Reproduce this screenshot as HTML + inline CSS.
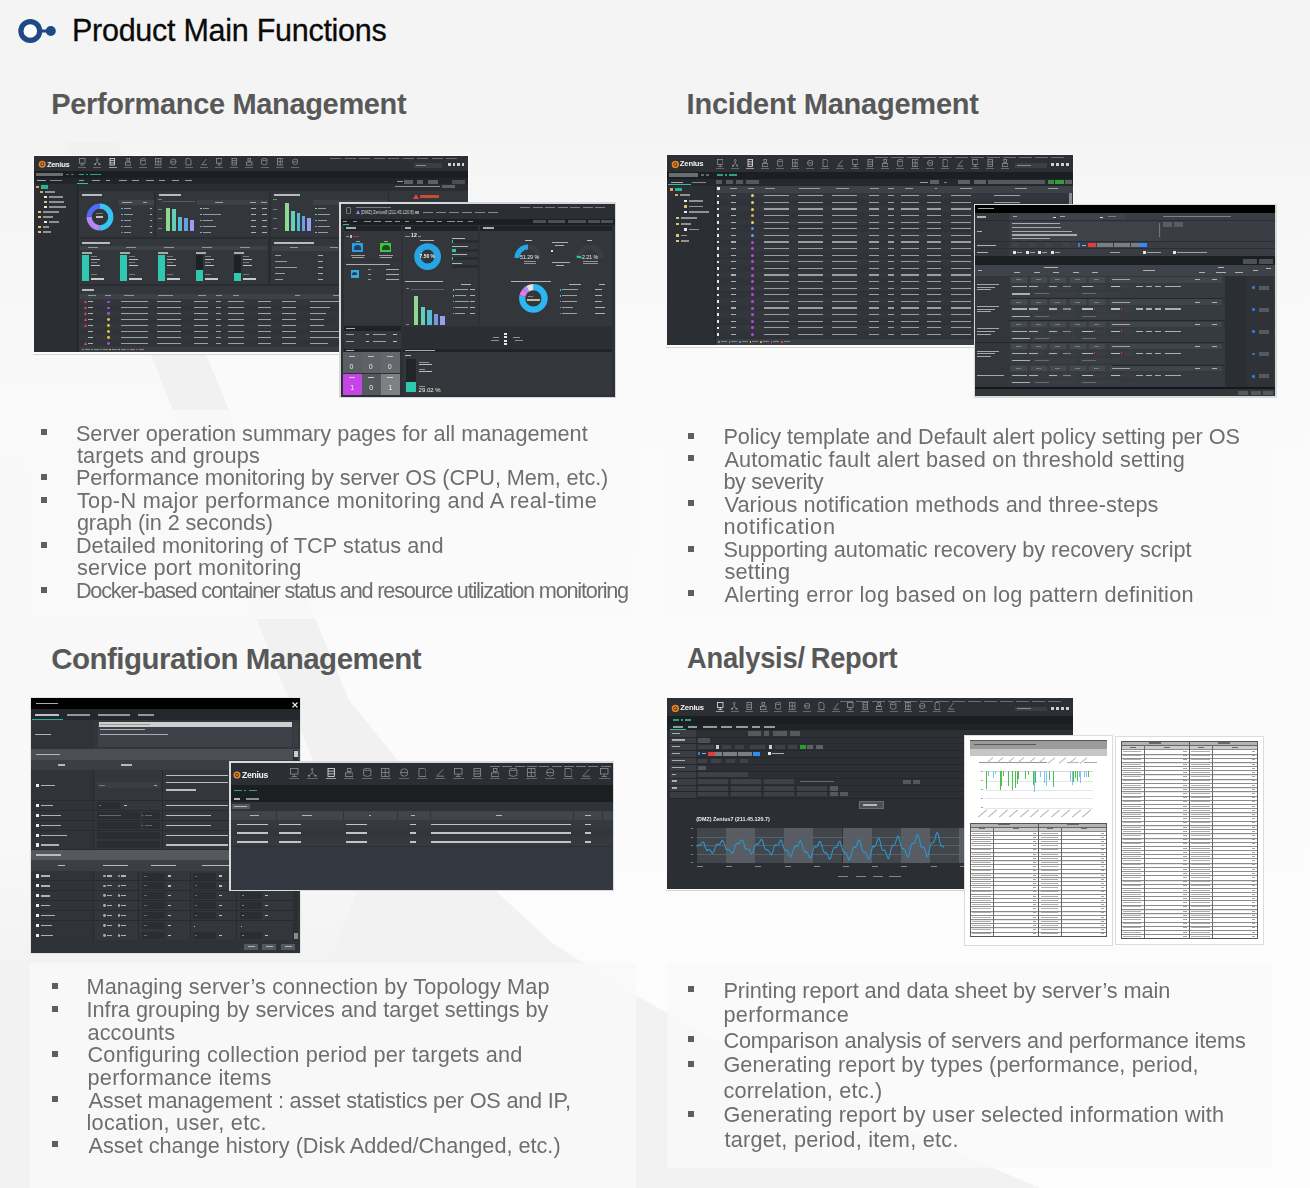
<!DOCTYPE html>
<html><head><meta charset="utf-8"><style>
*{margin:0;padding:0;box-sizing:border-box}
html,body{width:1310px;height:1188px;overflow:hidden}
body{position:relative;background:#f6f6f6;font-family:'Liberation Sans', sans-serif}
.t{position:absolute;white-space:nowrap;color:#6e6e6e}
.b{position:absolute;background:#5e5e5e}
.a{position:absolute}
</style></head><body>
<svg class="a" style="left:0;top:0" width="1310" height="1188" viewBox="0 0 1310 1188">
<defs>
<linearGradient id="gw" x1="0" y1="0" x2="0" y2="1"><stop offset="0" stop-color="#f5f5f5"/><stop offset="0.2" stop-color="#fafafa"/><stop offset="1" stop-color="#fdfdfd"/></linearGradient>
<linearGradient id="gl" x1="0" y1="0" x2="0" y2="1"><stop offset="0" stop-color="#f4f4f4"/><stop offset="0.3" stop-color="#f9f9f9"/><stop offset="0.85" stop-color="#f8f8f8"/><stop offset="1" stop-color="#f3f3f3"/></linearGradient>
</defs>
<rect width="1310" height="1188" fill="#f2f2f2"/>
<polygon points="0,140 65,140 150,352 289,700 361,880 330,960 0,960" fill="url(#gl)"/>
<polygon points="65,140 117,140 205,352 349,700 430,800 496,891 430,880 361,880 289,700 150,352" fill="#f1f1f1"/>
<polygon points="117,140 205,352 349,700 430,800 496,891 551,942 620,987 720,1042 858,1106 1000,1171 1040,1188 1310,1188 1310,140" fill="url(#gw)"/>
<rect x="0" y="0" width="1310" height="142" fill="#f4f4f4"/>
<rect x="30" y="410" width="606" height="209" fill="#f9f9f9" opacity="0.85"/>
<rect x="667" y="412" width="605" height="206" fill="#f9f9f9" opacity="0.85"/>
<rect x="30" y="963" width="606" height="225" fill="#f8f8f8" opacity="0.9"/>
<rect x="667" y="963" width="605" height="205" fill="#f9f9f9" opacity="0.85"/>
</svg>

<svg class="a" style="left:0;top:0" width="70" height="60" viewBox="0 0 70 60">
<circle cx="30.3" cy="31" r="9.4" fill="#fff" stroke="#1e4886" stroke-width="5.2"/>
<line x1="39" y1="31" x2="47" y2="31" stroke="#1e4886" stroke-width="3"/>
<circle cx="50.8" cy="31" r="5" fill="#1e4886"/>
</svg>
<div class="t" style="left:72.0px;top:14.7px;font-size:30.5px;line-height:30.5px;letter-spacing:-0.269px;color:#0a0a0a;-webkit-text-stroke:0.3px #0a0a0a">Product Main Functions</div>
<div class="t" style="left:51.2px;top:90.3px;font-size:29px;line-height:29px;letter-spacing:-0.341px;font-weight:bold;color:#585858">Performance Management</div>
<div class="t" style="left:686.6px;top:90.3px;font-size:29px;line-height:29px;letter-spacing:-0.229px;font-weight:bold;color:#585858">Incident Management</div>
<div class="t" style="left:51.2px;top:643.8px;font-size:29.5px;line-height:29.5px;letter-spacing:-0.501px;font-weight:bold;color:#585858">Configuration Management</div>
<div class="t" style="left:686.8px;top:643.2px;font-size:29.5px;line-height:29.5px;letter-spacing:-0.250px;font-weight:bold;color:#585858;transform:scaleX(0.925);transform-origin:0 0;word-spacing:-1.5px">Analysis/ Report</div>
<div class="a" style="left:0;top:0;width:1310px;height:1188px;filter:blur(0px)">
<div class="a" style="left:33px;top:155px;width:436px;height:198.5px;background:#fbfbfb;"></div>
<div class="a" style="left:33px;top:353.5px;width:436px;height:1px;background:#d4d4d4;"></div>
<div class="a" style="left:666px;top:154px;width:408px;height:192.5px;background:#fbfbfb;"></div>
<div class="a" style="left:666px;top:346.5px;width:408px;height:1px;background:#d4d4d4;"></div>
<div class="a" style="left:666.4px;top:697.2px;width:407.6px;height:193px;background:#fbfbfb;"></div>
<div class="a" style="left:666.4px;top:890.2px;width:407.6px;height:1px;background:#d4d4d4;"></div>
<div class="a" style="left:34px;top:156px;width:434px;height:196px;background:#2a2d32;"></div>
<div class="a" style="left:34px;top:156px;width:434px;height:15px;background:#2c2f33;"></div>
<svg class="a" style="left:38px;top:160.325px" width="8.4" height="8.4" viewBox="0 0 8.4 8.4"><circle cx="4.2" cy="4.2" r="2.7300000000000004" fill="none" stroke="#e8821e" stroke-width="1.6800000000000002"/><circle cx="4.2" cy="4.2" r="1.1550000000000002" fill="#e8821e"/></svg>
<div class="a" style="left:46.925px;top:160.535px;font-size:7.35px;line-height:1;color:#f2f2f2;white-space:nowrap;font-weight:bold;letter-spacing:-0.2px">Zenius</div>
<svg class="a" style="left:79px;top:158.3px" width="6.5" height="7.5" viewBox="0 0 6.5 7.5"><rect x="0.5" y="0.5" width="5.5" height="4.65" fill="none" stroke="#8d9094" stroke-width="0.8"/><path d="M3.25,5.15 V6.7 M1.3,7.0 H5.2" stroke="#8d9094" stroke-width="0.8"/></svg>
<div class="a" style="left:78.2px;top:167px;width:8.1px;height:1px;background:#8d9094;opacity:0.6000000000000001"></div>
<svg class="a" style="left:94.2px;top:158.3px" width="6.5" height="7.5" viewBox="0 0 6.5 7.5"><circle cx="3.25" cy="1.4" r="1" fill="none" stroke="#8d9094" stroke-width="0.8"/><path d="M3.25,2.4 V4.125 M1,6.0 L3.25,4.125 L5.5,6.0" stroke="#8d9094" stroke-width="0.8" fill="none"/><rect x="0" y="5.5" width="2" height="1.6" fill="#8d9094"/><rect x="4.5" y="5.5" width="2" height="1.6" fill="#8d9094"/></svg>
<div class="a" style="left:93.4px;top:167px;width:8.1px;height:1px;background:#8d9094;opacity:0.6000000000000001"></div>
<svg class="a" style="left:109.4px;top:158.3px" width="6.5" height="7.5" viewBox="0 0 6.5 7.5"><rect x="1" y="0.5" width="4.5" height="6.5" fill="none" stroke="#e6e6e6" stroke-width="0.8"/><path d="M1,2.625 H5.5 M1,4.875 H5.5" stroke="#e6e6e6" stroke-width="0.8"/></svg>
<div class="a" style="left:108.6px;top:167px;width:8.1px;height:1px;background:#e6e6e6;opacity:0.6000000000000001"></div>
<svg class="a" style="left:124.6px;top:158.3px" width="6.5" height="7.5" viewBox="0 0 6.5 7.5"><rect x="1.95" y="0.5" width="2.6" height="2.625" fill="none" stroke="#8d9094" stroke-width="0.8"/><rect x="0.5" y="4.125" width="5.5" height="3.0" fill="none" stroke="#8d9094" stroke-width="0.8"/><path d="M3.25,2.85 V4.125" stroke="#8d9094" stroke-width="0.8"/></svg>
<div class="a" style="left:123.8px;top:167px;width:8.1px;height:1px;background:#8d9094;opacity:0.6000000000000001"></div>
<svg class="a" style="left:139.8px;top:158.3px" width="6.5" height="7.5" viewBox="0 0 6.5 7.5"><ellipse cx="3.25" cy="1.5" rx="2.65" ry="1" fill="none" stroke="#8d9094" stroke-width="0.8"/><path d="M0.6,1.5 V6.0 Q3.25,7.8 5.9,6.0 V1.5" fill="none" stroke="#8d9094" stroke-width="0.8"/></svg>
<div class="a" style="left:139px;top:167px;width:8.1px;height:1px;background:#8d9094;opacity:0.6000000000000001"></div>
<svg class="a" style="left:155px;top:158.3px" width="6.5" height="7.5" viewBox="0 0 6.5 7.5"><rect x="0.5" y="0.5" width="5.5" height="6.5" fill="none" stroke="#8d9094" stroke-width="0.8"/><path d="M3.25,0.5 V7.0 M0.5,3.75 H6.0" stroke="#8d9094" stroke-width="0.8"/></svg>
<div class="a" style="left:154.2px;top:167px;width:8.1px;height:1px;background:#8d9094;opacity:0.6000000000000001"></div>
<svg class="a" style="left:170.2px;top:158.3px" width="6.5" height="7.5" viewBox="0 0 6.5 7.5"><circle cx="3.25" cy="3.75" r="2.75" fill="none" stroke="#8d9094" stroke-width="0.8"/><path d="M0.8,3.75 H5.7" stroke="#8d9094" stroke-width="0.8"/></svg>
<div class="a" style="left:169.4px;top:167px;width:8.1px;height:1px;background:#8d9094;opacity:0.6000000000000001"></div>
<svg class="a" style="left:185.4px;top:158.3px" width="6.5" height="7.5" viewBox="0 0 6.5 7.5"><path d="M1,0.5 H4.5 L6.0,2 V7.0 H1 Z" fill="none" stroke="#8d9094" stroke-width="0.8"/></svg>
<div class="a" style="left:184.6px;top:167px;width:8.1px;height:1px;background:#8d9094;opacity:0.6000000000000001"></div>
<svg class="a" style="left:200.6px;top:158.3px" width="6.5" height="7.5" viewBox="0 0 6.5 7.5"><path d="M0.5,6.7 H6.0 M1,6.3 L5.5,1" stroke="#8d9094" stroke-width="0.8" fill="none"/></svg>
<div class="a" style="left:199.8px;top:167px;width:8.1px;height:1px;background:#8d9094;opacity:0.6000000000000001"></div>
<svg class="a" style="left:215.8px;top:158.3px" width="6.5" height="7.5" viewBox="0 0 6.5 7.5"><rect x="0.5" y="0.5" width="5.5" height="4.65" fill="none" stroke="#8d9094" stroke-width="0.8"/><path d="M3.25,5.15 V6.7 M1.3,7.0 H5.2" stroke="#8d9094" stroke-width="0.8"/></svg>
<div class="a" style="left:215px;top:167px;width:8.1px;height:1px;background:#8d9094;opacity:0.6000000000000001"></div>
<svg class="a" style="left:231px;top:158.3px" width="6.5" height="7.5" viewBox="0 0 6.5 7.5"><rect x="1" y="0.5" width="4.5" height="6.5" fill="none" stroke="#8d9094" stroke-width="0.8"/><path d="M1,2.625 H5.5 M1,4.875 H5.5" stroke="#8d9094" stroke-width="0.8"/></svg>
<div class="a" style="left:230.2px;top:167px;width:8.1px;height:1px;background:#8d9094;opacity:0.6000000000000001"></div>
<svg class="a" style="left:246.2px;top:158.3px" width="6.5" height="7.5" viewBox="0 0 6.5 7.5"><rect x="1.95" y="0.5" width="2.6" height="2.625" fill="none" stroke="#8d9094" stroke-width="0.8"/><rect x="0.5" y="4.125" width="5.5" height="3.0" fill="none" stroke="#8d9094" stroke-width="0.8"/><path d="M3.25,2.85 V4.125" stroke="#8d9094" stroke-width="0.8"/></svg>
<div class="a" style="left:245.4px;top:167px;width:8.1px;height:1px;background:#8d9094;opacity:0.6000000000000001"></div>
<svg class="a" style="left:261.4px;top:158.3px" width="6.5" height="7.5" viewBox="0 0 6.5 7.5"><ellipse cx="3.25" cy="1.5" rx="2.65" ry="1" fill="none" stroke="#8d9094" stroke-width="0.8"/><path d="M0.6,1.5 V6.0 Q3.25,7.8 5.9,6.0 V1.5" fill="none" stroke="#8d9094" stroke-width="0.8"/></svg>
<div class="a" style="left:260.6px;top:167px;width:8.1px;height:1px;background:#8d9094;opacity:0.6000000000000001"></div>
<svg class="a" style="left:276.6px;top:158.3px" width="6.5" height="7.5" viewBox="0 0 6.5 7.5"><rect x="0.5" y="0.5" width="5.5" height="6.5" fill="none" stroke="#8d9094" stroke-width="0.8"/><path d="M3.25,0.5 V7.0 M0.5,3.75 H6.0" stroke="#8d9094" stroke-width="0.8"/></svg>
<div class="a" style="left:275.8px;top:167px;width:8.1px;height:1px;background:#8d9094;opacity:0.6000000000000001"></div>
<svg class="a" style="left:291.8px;top:158.3px" width="6.5" height="7.5" viewBox="0 0 6.5 7.5"><circle cx="3.25" cy="3.75" r="2.75" fill="none" stroke="#8d9094" stroke-width="0.8"/><path d="M0.8,3.75 H5.7" stroke="#8d9094" stroke-width="0.8"/></svg>
<div class="a" style="left:291px;top:167px;width:8.1px;height:1px;background:#8d9094;opacity:0.6000000000000001"></div>
<div class="a" style="left:330px;top:158px;width:11px;height:1.2px;background:#7c7f83;opacity:0.8"></div>
<div class="a" style="left:344.5px;top:158px;width:11px;height:1.2px;background:#7c7f83;opacity:0.8"></div>
<div class="a" style="left:359px;top:158px;width:11px;height:1.2px;background:#7c7f83;opacity:0.8"></div>
<div class="a" style="left:373.5px;top:158px;width:11px;height:1.2px;background:#7c7f83;opacity:0.8"></div>
<div class="a" style="left:388px;top:158px;width:11px;height:1.2px;background:#7c7f83;opacity:0.8"></div>
<div class="a" style="left:402.5px;top:158px;width:11px;height:1.2px;background:#7c7f83;opacity:0.8"></div>
<div class="a" style="left:417px;top:158px;width:11px;height:1.2px;background:#7c7f83;opacity:0.8"></div>
<div class="a" style="left:431.5px;top:158px;width:11px;height:1.2px;background:#7c7f83;opacity:0.8"></div>
<div class="a" style="left:446px;top:158px;width:11px;height:1.2px;background:#7c7f83;opacity:0.8"></div>
<div class="a" style="left:414px;top:163px;width:28px;height:4.5px;background:#3b3e42;"></div>
<div class="a" style="left:416px;top:164.5px;width:10px;height:1.3px;background:#9a9da0;opacity:0.8"></div>
<div class="a" style="left:448px;top:163.2px;width:2.6px;height:3.2px;background:#cfd1d3;"></div>
<div class="a" style="left:452.6px;top:163.2px;width:2.6px;height:3.2px;background:#cfd1d3;"></div>
<div class="a" style="left:457.2px;top:163.2px;width:2.6px;height:3.2px;background:#cfd1d3;"></div>
<div class="a" style="left:461.8px;top:163.2px;width:2.6px;height:3.2px;background:#cfd1d3;"></div>
<div class="a" style="left:34px;top:171px;width:434px;height:6.5px;background:#1c1f22;"></div>
<div class="a" style="left:35.5px;top:172.5px;width:27px;height:3.6px;background:#6b6e71;"></div>
<div class="a" style="left:66px;top:173.7px;width:3px;height:1.3px;background:#777;opacity:0.8"></div>
<div class="a" style="left:71px;top:173.7px;width:3px;height:1.3px;background:#777;opacity:0.8"></div>
<div class="a" style="left:79px;top:173.5px;width:5px;height:1.6px;background:#2fc39c;opacity:0.8"></div>
<div class="a" style="left:86px;top:173.5px;width:2px;height:1.6px;background:#2fc39c;opacity:0.8"></div>
<div class="a" style="left:90px;top:173.5px;width:11px;height:1.6px;background:#2fc39c;opacity:0.8"></div>
<div class="a" style="left:34px;top:177.5px;width:434px;height:6.5px;background:#222529;"></div>
<div class="a" style="left:37px;top:180px;width:9px;height:1.4px;background:#c9cbce;opacity:0.8"></div>
<div class="a" style="left:50px;top:180px;width:12px;height:1.4px;background:#9ea1a4;opacity:0.8"></div>
<div class="a" style="left:79px;top:180px;width:5px;height:1.4px;background:#b5b8bb;opacity:0.8"></div>
<div class="a" style="left:92.3px;top:180px;width:8px;height:1.4px;background:#b5b8bb;opacity:0.8"></div>
<div class="a" style="left:105.6px;top:180px;width:4px;height:1.4px;background:#b5b8bb;opacity:0.8"></div>
<div class="a" style="left:118.9px;top:180px;width:8px;height:1.4px;background:#b5b8bb;opacity:0.8"></div>
<div class="a" style="left:132.2px;top:180px;width:7px;height:1.4px;background:#b5b8bb;opacity:0.8"></div>
<div class="a" style="left:145.5px;top:180px;width:8px;height:1.4px;background:#b5b8bb;opacity:0.8"></div>
<div class="a" style="left:158.8px;top:180px;width:6px;height:1.4px;background:#b5b8bb;opacity:0.8"></div>
<div class="a" style="left:172.1px;top:180px;width:7px;height:1.4px;background:#b5b8bb;opacity:0.8"></div>
<div class="a" style="left:185.4px;top:180px;width:7px;height:1.4px;background:#b5b8bb;opacity:0.8"></div>
<div class="a" style="left:77px;top:183px;width:11px;height:1px;background:#2fc39c;"></div>
<div class="a" style="left:34px;top:184px;width:42.5px;height:168px;background:#2b2e33;"></div>
<div class="a" style="left:76.5px;top:184px;width:1px;height:168px;background:#1f2226;"></div>
<div class="a" style="left:36px;top:185.8px;width:3.2px;height:2.6px;background:#e8a050;"></div>
<div class="a" style="left:40.5px;top:185.3px;width:7.2px;height:3.4px;background:#27b592;"></div>
<div class="a" style="left:40px;top:190.8px;width:3.2px;height:2.6px;background:#e8a050;"></div>
<div class="a" style="left:44.5px;top:191.4px;width:10px;height:1.3px;background:#a9acaf;opacity:0.8"></div>
<div class="a" style="left:44px;top:195.8px;width:3.2px;height:2.6px;background:#e9e9e9;"></div>
<div class="a" style="left:48.5px;top:196.4px;width:14px;height:1.3px;background:#a9acaf;opacity:0.8"></div>
<div class="a" style="left:44px;top:200.8px;width:3.2px;height:2.6px;background:#d9c070;"></div>
<div class="a" style="left:48.5px;top:201.4px;width:15px;height:1.3px;background:#a9acaf;opacity:0.8"></div>
<div class="a" style="left:44px;top:205.8px;width:3.2px;height:2.6px;background:#e9e9e9;"></div>
<div class="a" style="left:48.5px;top:206.4px;width:17px;height:1.3px;background:#a9acaf;opacity:0.8"></div>
<div class="a" style="left:38px;top:210.8px;width:3.2px;height:2.6px;background:#e8c070;"></div>
<div class="a" style="left:42.5px;top:211.4px;width:16px;height:1.3px;background:#a9acaf;opacity:0.8"></div>
<div class="a" style="left:38px;top:215.8px;width:3.2px;height:2.6px;background:#e8c070;"></div>
<div class="a" style="left:42.5px;top:216.4px;width:10px;height:1.3px;background:#a9acaf;opacity:0.8"></div>
<div class="a" style="left:44px;top:220.8px;width:3.2px;height:2.6px;background:#e9e9e9;"></div>
<div class="a" style="left:48.5px;top:221.4px;width:10px;height:1.3px;background:#a9acaf;opacity:0.8"></div>
<div class="a" style="left:38px;top:225.8px;width:3.2px;height:2.6px;background:#e8c070;"></div>
<div class="a" style="left:42.5px;top:226.4px;width:6px;height:1.3px;background:#a9acaf;opacity:0.8"></div>
<div class="a" style="left:38px;top:230.8px;width:3.2px;height:2.6px;background:#e8c070;"></div>
<div class="a" style="left:42.5px;top:231.4px;width:8px;height:1.3px;background:#a9acaf;opacity:0.8"></div>
<div class="a" style="left:404px;top:179.5px;width:9px;height:4px;background:#5d6165;"></div>
<div class="a" style="left:397px;top:181px;width:6px;height:1.2px;background:#bbb;opacity:0.8"></div>
<div class="a" style="left:417px;top:179.5px;width:6px;height:4px;background:#5d6165;"></div>
<div class="a" style="left:428px;top:179.5px;width:10px;height:4px;background:#5d6165;"></div>
<div class="a" style="left:452px;top:179.5px;width:13px;height:4px;background:#4b4f54;"></div>
<div class="a" style="left:395px;top:186px;width:45px;height:1.2px;background:#a8abae;opacity:0.8"></div>
<div class="a" style="left:442px;top:185px;width:13px;height:3.4px;background:#5d6165;"></div>
<div class="a" style="left:79px;top:191px;width:75px;height:46px;background:#33373c;"></div>
<div class="a" style="left:81.5px;top:194.2px;width:20px;height:1.8px;background:#d9dbdd;opacity:0.8"></div>
<svg class="a" style="left:83.5px;top:200.5px" width="32" height="32" viewBox="0 0 32 32"><circle cx="16.0" cy="16.0" r="10.8" fill="none" stroke="#36c5f3" stroke-width="5.2" stroke-dasharray="33.93 67.86" stroke-dashoffset="0.00" transform="rotate(-90 16.0 16.0)"/><circle cx="16.0" cy="16.0" r="10.8" fill="none" stroke="#b488f5" stroke-width="5.2" stroke-dasharray="16.96 67.86" stroke-dashoffset="-33.93" transform="rotate(-90 16.0 16.0)"/><circle cx="16.0" cy="16.0" r="10.8" fill="none" stroke="#4e6df2" stroke-width="5.2" stroke-dasharray="16.96 67.86" stroke-dashoffset="-50.89" transform="rotate(-90 16.0 16.0)"/></svg>
<div class="a" style="left:96px;top:213px;width:7px;height:1px;background:#888;opacity:0.8"></div>
<div class="a" style="left:96px;top:216px;width:7px;height:2px;background:#e4e4e4;opacity:0.8"></div>
<div class="a" style="left:118.5px;top:200px;width:35px;height:5px;background:#40454b;"></div>
<div class="a" style="left:122px;top:202px;width:10px;height:1.2px;background:#bbb;opacity:0.8"></div>
<div class="a" style="left:143px;top:202px;width:4px;height:1.2px;background:#bbb;opacity:0.8"></div>
<div class="a" style="left:121px;top:207.5px;width:1.8px;height:1.8px;background:#36c5f3;"></div>
<div class="a" style="left:124px;top:207.7px;width:7px;height:1.2px;background:#b0b3b6;opacity:0.8"></div>
<div class="a" style="left:150px;top:207.7px;width:1.5px;height:1.2px;background:#ccc;opacity:0.8"></div>
<div class="a" style="left:121px;top:213.5px;width:1.8px;height:1.8px;background:#4aa7e6;"></div>
<div class="a" style="left:124px;top:213.7px;width:9px;height:1.2px;background:#b0b3b6;opacity:0.8"></div>
<div class="a" style="left:150px;top:213.7px;width:1.5px;height:1.2px;background:#ccc;opacity:0.8"></div>
<div class="a" style="left:121px;top:219.5px;width:1.8px;height:1.8px;background:#b488f5;"></div>
<div class="a" style="left:124px;top:219.7px;width:7px;height:1.2px;background:#b0b3b6;opacity:0.8"></div>
<div class="a" style="left:150px;top:219.7px;width:1.5px;height:1.2px;background:#ccc;opacity:0.8"></div>
<div class="a" style="left:121px;top:225.5px;width:1.8px;height:1.8px;background:#d080e0;"></div>
<div class="a" style="left:124px;top:225.7px;width:7px;height:1.2px;background:#b0b3b6;opacity:0.8"></div>
<div class="a" style="left:150px;top:225.7px;width:1.5px;height:1.2px;background:#ccc;opacity:0.8"></div>
<div class="a" style="left:121px;top:231.5px;width:1.8px;height:1.8px;background:#5577ee;"></div>
<div class="a" style="left:124px;top:231.7px;width:7px;height:1.2px;background:#b0b3b6;opacity:0.8"></div>
<div class="a" style="left:150px;top:231.7px;width:1.5px;height:1.2px;background:#ccc;opacity:0.8"></div>
<div class="a" style="left:156px;top:191px;width:113px;height:46px;background:#33373c;"></div>
<div class="a" style="left:158.5px;top:194.2px;width:22px;height:1.8px;background:#d9dbdd;opacity:0.8"></div>
<div class="a" style="left:158px;top:199px;width:3.5px;height:1px;background:#8d9093;opacity:0.8"></div>
<div class="a" style="left:158px;top:208.5px;width:3.5px;height:1px;background:#8d9093;opacity:0.8"></div>
<div class="a" style="left:158px;top:218px;width:3.5px;height:1px;background:#8d9093;opacity:0.8"></div>
<div class="a" style="left:158px;top:227.5px;width:3.5px;height:1px;background:#8d9093;opacity:0.8"></div>
<div class="a" style="left:162px;top:201px;width:33px;height:0.6px;background:#555a5f;"></div>
<div class="a" style="left:166px;top:208px;width:3.6px;height:22.7px;background:#8fd98f;"></div>
<div class="a" style="left:172px;top:208.5px;width:3.6px;height:22.2px;background:#62d0b8;"></div>
<div class="a" style="left:178px;top:217.3px;width:3.6px;height:13.4px;background:#5ab8d0;"></div>
<div class="a" style="left:184px;top:217.8px;width:3.6px;height:12.9px;background:#6aa0e0;"></div>
<div class="a" style="left:190px;top:219.8px;width:3.6px;height:10.9px;background:#9a9ef0;"></div>
<div class="a" style="left:197px;top:200px;width:71px;height:5px;background:#3d4248;"></div>
<div class="a" style="left:215px;top:202px;width:8px;height:1.2px;background:#bbb;opacity:0.8"></div>
<div class="a" style="left:250px;top:202px;width:6px;height:1.2px;background:#bbb;opacity:0.8"></div>
<div class="a" style="left:261px;top:202px;width:6px;height:1.2px;background:#bbb;opacity:0.8"></div>
<div class="a" style="left:200px;top:207.5px;width:1.8px;height:1.8px;background:#8fd98f;"></div>
<div class="a" style="left:203px;top:207.7px;width:6px;height:1.2px;background:#b0b3b6;opacity:0.8"></div>
<div class="a" style="left:251px;top:207.7px;width:5px;height:1.2px;background:#ccc;opacity:0.8"></div>
<div class="a" style="left:262px;top:207.7px;width:5px;height:1.2px;background:#ccc;opacity:0.8"></div>
<div class="a" style="left:200px;top:213.5px;width:1.8px;height:1.8px;background:#62d0b8;"></div>
<div class="a" style="left:203px;top:213.7px;width:18px;height:1.2px;background:#b0b3b6;opacity:0.8"></div>
<div class="a" style="left:251px;top:213.7px;width:5px;height:1.2px;background:#ccc;opacity:0.8"></div>
<div class="a" style="left:262px;top:213.7px;width:5px;height:1.2px;background:#ccc;opacity:0.8"></div>
<div class="a" style="left:200px;top:219.5px;width:1.8px;height:1.8px;background:#5ab8d0;"></div>
<div class="a" style="left:203px;top:219.7px;width:10px;height:1.2px;background:#b0b3b6;opacity:0.8"></div>
<div class="a" style="left:251px;top:219.7px;width:5px;height:1.2px;background:#ccc;opacity:0.8"></div>
<div class="a" style="left:262px;top:219.7px;width:5px;height:1.2px;background:#ccc;opacity:0.8"></div>
<div class="a" style="left:200px;top:225.5px;width:1.8px;height:1.8px;background:#6aa0e0;"></div>
<div class="a" style="left:203px;top:225.7px;width:13px;height:1.2px;background:#b0b3b6;opacity:0.8"></div>
<div class="a" style="left:251px;top:225.7px;width:5px;height:1.2px;background:#ccc;opacity:0.8"></div>
<div class="a" style="left:262px;top:225.7px;width:5px;height:1.2px;background:#ccc;opacity:0.8"></div>
<div class="a" style="left:200px;top:231.5px;width:1.8px;height:1.8px;background:#9a9ef0;"></div>
<div class="a" style="left:203px;top:231.7px;width:8px;height:1.2px;background:#b0b3b6;opacity:0.8"></div>
<div class="a" style="left:251px;top:231.7px;width:5px;height:1.2px;background:#ccc;opacity:0.8"></div>
<div class="a" style="left:262px;top:231.7px;width:5px;height:1.2px;background:#ccc;opacity:0.8"></div>
<div class="a" style="left:271px;top:191px;width:117px;height:46px;background:#33373c;"></div>
<div class="a" style="left:273.5px;top:194.2px;width:26px;height:1.8px;background:#d9dbdd;opacity:0.8"></div>
<div class="a" style="left:273px;top:199px;width:3.5px;height:1px;background:#8d9093;opacity:0.8"></div>
<div class="a" style="left:273px;top:208.5px;width:3.5px;height:1px;background:#8d9093;opacity:0.8"></div>
<div class="a" style="left:273px;top:218px;width:3.5px;height:1px;background:#8d9093;opacity:0.8"></div>
<div class="a" style="left:273px;top:227.5px;width:3.5px;height:1px;background:#8d9093;opacity:0.8"></div>
<div class="a" style="left:285px;top:202.5px;width:3.6px;height:28.2px;background:#8fd98f;"></div>
<div class="a" style="left:291px;top:211.4px;width:3.6px;height:19.3px;background:#62d0b8;"></div>
<div class="a" style="left:296.5px;top:213.1px;width:3.6px;height:17.6px;background:#5ab8d0;"></div>
<div class="a" style="left:301.8px;top:215.6px;width:3.6px;height:15.1px;background:#6aa0e0;"></div>
<div class="a" style="left:307.2px;top:217.5px;width:3.6px;height:13.2px;background:#9a9ef0;"></div>
<div class="a" style="left:313px;top:200px;width:75px;height:5px;background:#3d4248;"></div>
<div class="a" style="left:315px;top:207.5px;width:1.8px;height:1.8px;background:#8fd98f;"></div>
<div class="a" style="left:318px;top:207.7px;width:8px;height:1.2px;background:#b0b3b6;opacity:0.8"></div>
<div class="a" style="left:315px;top:213.5px;width:1.8px;height:1.8px;background:#62d0b8;"></div>
<div class="a" style="left:318px;top:213.7px;width:12px;height:1.2px;background:#b0b3b6;opacity:0.8"></div>
<div class="a" style="left:315px;top:219.5px;width:1.8px;height:1.8px;background:#5ab8d0;"></div>
<div class="a" style="left:318px;top:219.7px;width:9px;height:1.2px;background:#b0b3b6;opacity:0.8"></div>
<div class="a" style="left:315px;top:225.5px;width:1.8px;height:1.8px;background:#6aa0e0;"></div>
<div class="a" style="left:318px;top:225.7px;width:12px;height:1.2px;background:#b0b3b6;opacity:0.8"></div>
<div class="a" style="left:315px;top:231.5px;width:1.8px;height:1.8px;background:#9a9ef0;"></div>
<div class="a" style="left:318px;top:231.7px;width:10px;height:1.2px;background:#b0b3b6;opacity:0.8"></div>
<div class="a" style="left:389px;top:191px;width:79px;height:46px;background:#33373c;"></div>
<svg class="a" style="left:413px;top:193.5px" width="6" height="5" viewBox="0 0 6 5"><polygon points="3,0 6,5 0,5" fill="#e04545"/></svg>
<div class="a" style="left:420px;top:194.5px;width:19px;height:3px;background:#e8552a;opacity:0.8"></div>
<div class="a" style="left:79px;top:239px;width:189px;height:45px;background:#33373c;"></div>
<div class="a" style="left:81.5px;top:242.2px;width:28px;height:1.8px;background:#d9dbdd;opacity:0.8"></div>
<div class="a" style="left:80px;top:245.5px;width:187px;height:4.5px;background:#3d4248;"></div>
<div class="a" style="left:88.4px;top:247px;width:10px;height:1.2px;background:#aaa;opacity:0.8"></div>
<div class="a" style="left:82.4px;top:252px;width:10px;height:1.5px;background:#c4c7ca;opacity:0.8"></div>
<div class="a" style="left:126.4px;top:247px;width:10px;height:1.2px;background:#aaa;opacity:0.8"></div>
<div class="a" style="left:120.4px;top:252px;width:10px;height:1.5px;background:#c4c7ca;opacity:0.8"></div>
<div class="a" style="left:164.4px;top:247px;width:10px;height:1.2px;background:#aaa;opacity:0.8"></div>
<div class="a" style="left:158.4px;top:252px;width:10px;height:1.5px;background:#c4c7ca;opacity:0.8"></div>
<div class="a" style="left:202.4px;top:247px;width:10px;height:1.2px;background:#aaa;opacity:0.8"></div>
<div class="a" style="left:196.4px;top:252px;width:10px;height:1.5px;background:#c4c7ca;opacity:0.8"></div>
<div class="a" style="left:240.4px;top:247px;width:10px;height:1.2px;background:#aaa;opacity:0.8"></div>
<div class="a" style="left:234.4px;top:252px;width:10px;height:1.5px;background:#c4c7ca;opacity:0.8"></div>
<div class="a" style="left:82.4px;top:255px;width:7px;height:26px;background:#1e2124;"></div>
<div class="a" style="left:82.4px;top:255px;width:7px;height:26px;background:#2fc8b0;"></div>
<div class="a" style="left:91.4px;top:256px;width:6px;height:1.1px;background:#888;opacity:0.8"></div>
<div class="a" style="left:91.4px;top:258.5px;width:9px;height:1.4px;background:#e0e0e0;opacity:0.8"></div>
<div class="a" style="left:91.4px;top:262px;width:6px;height:1.1px;background:#888;opacity:0.8"></div>
<div class="a" style="left:91.4px;top:264.5px;width:9px;height:1.4px;background:#e0e0e0;opacity:0.8"></div>
<div class="a" style="left:91.4px;top:273.5px;width:6px;height:1.1px;background:#888;opacity:0.8"></div>
<div class="a" style="left:91.4px;top:277.5px;width:13px;height:2.4px;background:#eeeeee;opacity:0.8"></div>
<div class="a" style="left:120.4px;top:255px;width:7px;height:26px;background:#1e2124;"></div>
<div class="a" style="left:120.4px;top:255px;width:7px;height:26px;background:#2fc8b0;"></div>
<div class="a" style="left:129.4px;top:256px;width:6px;height:1.1px;background:#888;opacity:0.8"></div>
<div class="a" style="left:129.4px;top:258.5px;width:9px;height:1.4px;background:#e0e0e0;opacity:0.8"></div>
<div class="a" style="left:129.4px;top:262px;width:6px;height:1.1px;background:#888;opacity:0.8"></div>
<div class="a" style="left:129.4px;top:264.5px;width:9px;height:1.4px;background:#e0e0e0;opacity:0.8"></div>
<div class="a" style="left:129.4px;top:273.5px;width:6px;height:1.1px;background:#888;opacity:0.8"></div>
<div class="a" style="left:129.4px;top:277.5px;width:13px;height:2.4px;background:#eeeeee;opacity:0.8"></div>
<div class="a" style="left:158.4px;top:255px;width:7px;height:26px;background:#1e2124;"></div>
<div class="a" style="left:158.4px;top:255px;width:7px;height:26px;background:#2fc8b0;"></div>
<div class="a" style="left:167.4px;top:256px;width:6px;height:1.1px;background:#888;opacity:0.8"></div>
<div class="a" style="left:167.4px;top:258.5px;width:9px;height:1.4px;background:#e0e0e0;opacity:0.8"></div>
<div class="a" style="left:167.4px;top:262px;width:6px;height:1.1px;background:#888;opacity:0.8"></div>
<div class="a" style="left:167.4px;top:264.5px;width:9px;height:1.4px;background:#e0e0e0;opacity:0.8"></div>
<div class="a" style="left:167.4px;top:273.5px;width:6px;height:1.1px;background:#888;opacity:0.8"></div>
<div class="a" style="left:167.4px;top:277.5px;width:13px;height:2.4px;background:#eeeeee;opacity:0.8"></div>
<div class="a" style="left:196.4px;top:255px;width:7px;height:26px;background:#1e2124;"></div>
<div class="a" style="left:196.4px;top:270px;width:7px;height:11px;background:#2fc8b0;"></div>
<div class="a" style="left:205.4px;top:256px;width:6px;height:1.1px;background:#888;opacity:0.8"></div>
<div class="a" style="left:205.4px;top:258.5px;width:9px;height:1.4px;background:#e0e0e0;opacity:0.8"></div>
<div class="a" style="left:205.4px;top:262px;width:6px;height:1.1px;background:#888;opacity:0.8"></div>
<div class="a" style="left:205.4px;top:264.5px;width:9px;height:1.4px;background:#e0e0e0;opacity:0.8"></div>
<div class="a" style="left:205.4px;top:273.5px;width:6px;height:1.1px;background:#888;opacity:0.8"></div>
<div class="a" style="left:205.4px;top:277.5px;width:13px;height:2.4px;background:#eeeeee;opacity:0.8"></div>
<div class="a" style="left:234.4px;top:255px;width:7px;height:26px;background:#1e2124;"></div>
<div class="a" style="left:234.4px;top:273px;width:7px;height:8px;background:#2fc8b0;"></div>
<div class="a" style="left:243.4px;top:256px;width:6px;height:1.1px;background:#888;opacity:0.8"></div>
<div class="a" style="left:243.4px;top:258.5px;width:9px;height:1.4px;background:#e0e0e0;opacity:0.8"></div>
<div class="a" style="left:243.4px;top:262px;width:6px;height:1.1px;background:#888;opacity:0.8"></div>
<div class="a" style="left:243.4px;top:264.5px;width:9px;height:1.4px;background:#e0e0e0;opacity:0.8"></div>
<div class="a" style="left:243.4px;top:273.5px;width:6px;height:1.1px;background:#888;opacity:0.8"></div>
<div class="a" style="left:243.4px;top:277.5px;width:13px;height:2.4px;background:#eeeeee;opacity:0.8"></div>
<div class="a" style="left:271px;top:239px;width:117px;height:45px;background:#33373c;"></div>
<div class="a" style="left:273.5px;top:242.2px;width:40px;height:1.8px;background:#d9dbdd;opacity:0.8"></div>
<div class="a" style="left:272px;top:245.5px;width:115px;height:5px;background:#3d4248;"></div>
<div class="a" style="left:290px;top:247.3px;width:8px;height:1.2px;background:#aaa;opacity:0.8"></div>
<div class="a" style="left:330px;top:247.3px;width:8px;height:1.2px;background:#aaa;opacity:0.8"></div>
<div class="a" style="left:275px;top:255px;width:6px;height:1.2px;background:#b3b6b9;opacity:0.8"></div>
<div class="a" style="left:318px;top:255px;width:5px;height:1.2px;background:#ccc;opacity:0.8"></div>
<div class="a" style="left:275px;top:261px;width:12px;height:1.2px;background:#b3b6b9;opacity:0.8"></div>
<div class="a" style="left:318px;top:261px;width:5px;height:1.2px;background:#ccc;opacity:0.8"></div>
<div class="a" style="left:275px;top:267px;width:22px;height:1.2px;background:#b3b6b9;opacity:0.8"></div>
<div class="a" style="left:318px;top:267px;width:5px;height:1.2px;background:#ccc;opacity:0.8"></div>
<div class="a" style="left:275px;top:273px;width:10px;height:1.2px;background:#b3b6b9;opacity:0.8"></div>
<div class="a" style="left:318px;top:273px;width:5px;height:1.2px;background:#ccc;opacity:0.8"></div>
<div class="a" style="left:275px;top:279px;width:8px;height:1.2px;background:#b3b6b9;opacity:0.8"></div>
<div class="a" style="left:318px;top:279px;width:5px;height:1.2px;background:#ccc;opacity:0.8"></div>
<div class="a" style="left:389px;top:239px;width:79px;height:45px;background:#33373c;"></div>
<div class="a" style="left:79px;top:286px;width:389px;height:66px;background:#33373c;"></div>
<div class="a" style="left:81.5px;top:289.2px;width:12px;height:1.8px;background:#d9dbdd;opacity:0.8"></div>
<div class="a" style="left:80px;top:293.5px;width:388px;height:5.2px;background:#3d4248;"></div>
<div class="a" style="left:88px;top:295.3px;width:8px;height:1.2px;background:#aab;opacity:0.8"></div>
<div class="a" style="left:105px;top:295.3px;width:6px;height:1.2px;background:#aab;opacity:0.8"></div>
<div class="a" style="left:124px;top:295.3px;width:10px;height:1.2px;background:#aab;opacity:0.8"></div>
<div class="a" style="left:158px;top:295.3px;width:15px;height:1.2px;background:#aab;opacity:0.8"></div>
<div class="a" style="left:198px;top:295.3px;width:8px;height:1.2px;background:#aab;opacity:0.8"></div>
<div class="a" style="left:216px;top:295.3px;width:6px;height:1.2px;background:#aab;opacity:0.8"></div>
<div class="a" style="left:233px;top:295.3px;width:6px;height:1.2px;background:#aab;opacity:0.8"></div>
<div class="a" style="left:295px;top:295.3px;width:5px;height:1.2px;background:#aab;opacity:0.8"></div>
<div class="a" style="left:333px;top:295.3px;width:10px;height:1.2px;background:#aab;opacity:0.8"></div>
<div class="a" style="left:80px;top:299px;width:388px;height:5.9px;background:#33373c;"></div>
<svg class="a" style="left:84px;top:300.4px" width="3" height="3" viewBox="0 0 3 3"><polygon points="1.5,0 3,3 0,3" fill="#d94a4a"/></svg>
<div class="a" style="left:88px;top:301.2px;width:5px;height:1.3px;background:#c9cbcd;opacity:0.8"></div>
<div class="a" style="left:107px;top:300.6px;width:2.8px;height:2.8px;background:#a64fd0;border-radius:50%"></div>
<div class="a" style="left:121px;top:301.2px;width:27px;height:1.2px;background:#b8bbbe;opacity:0.8"></div>
<div class="a" style="left:157px;top:301.2px;width:24px;height:1.2px;background:#b8bbbe;opacity:0.8"></div>
<div class="a" style="left:194px;top:301.2px;width:14px;height:1.2px;background:#b8bbbe;opacity:0.8"></div>
<div class="a" style="left:216px;top:301.2px;width:5px;height:1.2px;background:#b8bbbe;opacity:0.8"></div>
<div class="a" style="left:228px;top:301.2px;width:16px;height:1.2px;background:#b8bbbe;opacity:0.8"></div>
<div class="a" style="left:258px;top:301.2px;width:13px;height:1.2px;background:#b8bbbe;opacity:0.8"></div>
<div class="a" style="left:282px;top:301.2px;width:14px;height:1.2px;background:#b8bbbe;opacity:0.8"></div>
<div class="a" style="left:310px;top:301.2px;width:36px;height:1.2px;background:#b8bbbe;opacity:0.8"></div>
<div class="a" style="left:80px;top:304.9px;width:388px;height:5.9px;background:#30343a;"></div>
<svg class="a" style="left:84px;top:306.3px" width="3" height="3" viewBox="0 0 3 3"><polygon points="1.5,0 3,3 0,3" fill="#d94a4a"/></svg>
<div class="a" style="left:88px;top:307.1px;width:5px;height:1.3px;background:#c9cbcd;opacity:0.8"></div>
<div class="a" style="left:107px;top:306.5px;width:2.8px;height:2.8px;background:#a64fd0;border-radius:50%"></div>
<div class="a" style="left:121px;top:307.1px;width:27px;height:1.2px;background:#b8bbbe;opacity:0.8"></div>
<div class="a" style="left:157px;top:307.1px;width:24px;height:1.2px;background:#b8bbbe;opacity:0.8"></div>
<div class="a" style="left:194px;top:307.1px;width:14px;height:1.2px;background:#b8bbbe;opacity:0.8"></div>
<div class="a" style="left:216px;top:307.1px;width:5px;height:1.2px;background:#b8bbbe;opacity:0.8"></div>
<div class="a" style="left:228px;top:307.1px;width:16px;height:1.2px;background:#b8bbbe;opacity:0.8"></div>
<div class="a" style="left:258px;top:307.1px;width:13px;height:1.2px;background:#b8bbbe;opacity:0.8"></div>
<div class="a" style="left:282px;top:307.1px;width:14px;height:1.2px;background:#b8bbbe;opacity:0.8"></div>
<div class="a" style="left:310px;top:307.1px;width:20px;height:1.2px;background:#b8bbbe;opacity:0.8"></div>
<div class="a" style="left:80px;top:310.8px;width:388px;height:5.9px;background:#33373c;"></div>
<svg class="a" style="left:84px;top:312.2px" width="3" height="3" viewBox="0 0 3 3"><polygon points="1.5,0 3,3 0,3" fill="#d94a4a"/></svg>
<div class="a" style="left:88px;top:313px;width:5px;height:1.3px;background:#c9cbcd;opacity:0.8"></div>
<div class="a" style="left:107px;top:312.4px;width:2.8px;height:2.8px;background:#a64fd0;border-radius:50%"></div>
<div class="a" style="left:121px;top:313px;width:27px;height:1.2px;background:#b8bbbe;opacity:0.8"></div>
<div class="a" style="left:157px;top:313px;width:24px;height:1.2px;background:#b8bbbe;opacity:0.8"></div>
<div class="a" style="left:194px;top:313px;width:14px;height:1.2px;background:#b8bbbe;opacity:0.8"></div>
<div class="a" style="left:216px;top:313px;width:5px;height:1.2px;background:#b8bbbe;opacity:0.8"></div>
<div class="a" style="left:228px;top:313px;width:16px;height:1.2px;background:#b8bbbe;opacity:0.8"></div>
<div class="a" style="left:258px;top:313px;width:13px;height:1.2px;background:#b8bbbe;opacity:0.8"></div>
<div class="a" style="left:282px;top:313px;width:14px;height:1.2px;background:#b8bbbe;opacity:0.8"></div>
<div class="a" style="left:310px;top:313px;width:16px;height:1.2px;background:#b8bbbe;opacity:0.8"></div>
<div class="a" style="left:80px;top:316.7px;width:388px;height:5.9px;background:#30343a;"></div>
<svg class="a" style="left:84px;top:318.1px" width="3" height="3" viewBox="0 0 3 3"><polygon points="1.5,0 3,3 0,3" fill="#d94a4a"/></svg>
<div class="a" style="left:88px;top:318.9px;width:5px;height:1.3px;background:#c9cbcd;opacity:0.8"></div>
<div class="a" style="left:107px;top:318.3px;width:2.8px;height:2.8px;background:#e2c13a;border-radius:50%"></div>
<div class="a" style="left:121px;top:318.9px;width:27px;height:1.2px;background:#b8bbbe;opacity:0.8"></div>
<div class="a" style="left:157px;top:318.9px;width:24px;height:1.2px;background:#b8bbbe;opacity:0.8"></div>
<div class="a" style="left:194px;top:318.9px;width:14px;height:1.2px;background:#b8bbbe;opacity:0.8"></div>
<div class="a" style="left:216px;top:318.9px;width:5px;height:1.2px;background:#b8bbbe;opacity:0.8"></div>
<div class="a" style="left:228px;top:318.9px;width:16px;height:1.2px;background:#b8bbbe;opacity:0.8"></div>
<div class="a" style="left:258px;top:318.9px;width:13px;height:1.2px;background:#b8bbbe;opacity:0.8"></div>
<div class="a" style="left:282px;top:318.9px;width:14px;height:1.2px;background:#b8bbbe;opacity:0.8"></div>
<div class="a" style="left:310px;top:318.9px;width:14px;height:1.2px;background:#b8bbbe;opacity:0.8"></div>
<div class="a" style="left:80px;top:322.6px;width:388px;height:5.9px;background:#33373c;"></div>
<svg class="a" style="left:84px;top:324px" width="3" height="3" viewBox="0 0 3 3"><polygon points="1.5,0 3,3 0,3" fill="#d94a4a"/></svg>
<div class="a" style="left:88px;top:324.8px;width:5px;height:1.3px;background:#c9cbcd;opacity:0.8"></div>
<div class="a" style="left:107px;top:324.2px;width:2.8px;height:2.8px;background:#e2c13a;border-radius:50%"></div>
<div class="a" style="left:121px;top:324.8px;width:27px;height:1.2px;background:#b8bbbe;opacity:0.8"></div>
<div class="a" style="left:157px;top:324.8px;width:24px;height:1.2px;background:#b8bbbe;opacity:0.8"></div>
<div class="a" style="left:194px;top:324.8px;width:14px;height:1.2px;background:#b8bbbe;opacity:0.8"></div>
<div class="a" style="left:216px;top:324.8px;width:5px;height:1.2px;background:#b8bbbe;opacity:0.8"></div>
<div class="a" style="left:228px;top:324.8px;width:16px;height:1.2px;background:#b8bbbe;opacity:0.8"></div>
<div class="a" style="left:258px;top:324.8px;width:13px;height:1.2px;background:#b8bbbe;opacity:0.8"></div>
<div class="a" style="left:282px;top:324.8px;width:14px;height:1.2px;background:#b8bbbe;opacity:0.8"></div>
<div class="a" style="left:310px;top:324.8px;width:14px;height:1.2px;background:#b8bbbe;opacity:0.8"></div>
<div class="a" style="left:80px;top:328.5px;width:388px;height:5.9px;background:#30343a;"></div>
<div class="a" style="left:88px;top:330.7px;width:5px;height:1.3px;background:#c9cbcd;opacity:0.8"></div>
<div class="a" style="left:107px;top:330.1px;width:2.8px;height:2.8px;background:#e2c13a;border-radius:50%"></div>
<div class="a" style="left:121px;top:330.7px;width:27px;height:1.2px;background:#b8bbbe;opacity:0.8"></div>
<div class="a" style="left:157px;top:330.7px;width:24px;height:1.2px;background:#b8bbbe;opacity:0.8"></div>
<div class="a" style="left:194px;top:330.7px;width:14px;height:1.2px;background:#b8bbbe;opacity:0.8"></div>
<div class="a" style="left:216px;top:330.7px;width:5px;height:1.2px;background:#b8bbbe;opacity:0.8"></div>
<div class="a" style="left:228px;top:330.7px;width:16px;height:1.2px;background:#b8bbbe;opacity:0.8"></div>
<div class="a" style="left:258px;top:330.7px;width:13px;height:1.2px;background:#b8bbbe;opacity:0.8"></div>
<div class="a" style="left:282px;top:330.7px;width:14px;height:1.2px;background:#b8bbbe;opacity:0.8"></div>
<div class="a" style="left:310px;top:330.7px;width:30px;height:1.2px;background:#b8bbbe;opacity:0.8"></div>
<div class="a" style="left:80px;top:334.4px;width:388px;height:5.9px;background:#33373c;"></div>
<div class="a" style="left:88px;top:336.6px;width:5px;height:1.3px;background:#c9cbcd;opacity:0.8"></div>
<div class="a" style="left:107px;top:336px;width:2.8px;height:2.8px;background:#e2c13a;border-radius:50%"></div>
<div class="a" style="left:121px;top:336.6px;width:27px;height:1.2px;background:#b8bbbe;opacity:0.8"></div>
<div class="a" style="left:157px;top:336.6px;width:24px;height:1.2px;background:#b8bbbe;opacity:0.8"></div>
<div class="a" style="left:194px;top:336.6px;width:14px;height:1.2px;background:#b8bbbe;opacity:0.8"></div>
<div class="a" style="left:216px;top:336.6px;width:5px;height:1.2px;background:#b8bbbe;opacity:0.8"></div>
<div class="a" style="left:228px;top:336.6px;width:16px;height:1.2px;background:#b8bbbe;opacity:0.8"></div>
<div class="a" style="left:258px;top:336.6px;width:13px;height:1.2px;background:#b8bbbe;opacity:0.8"></div>
<div class="a" style="left:282px;top:336.6px;width:14px;height:1.2px;background:#b8bbbe;opacity:0.8"></div>
<div class="a" style="left:310px;top:336.6px;width:30px;height:1.2px;background:#b8bbbe;opacity:0.8"></div>
<div class="a" style="left:80px;top:340.3px;width:388px;height:5.9px;background:#30343a;"></div>
<svg class="a" style="left:84px;top:341.7px" width="3" height="3" viewBox="0 0 3 3"><polygon points="1.5,0 3,3 0,3" fill="#d94a4a"/></svg>
<div class="a" style="left:88px;top:342.5px;width:5px;height:1.3px;background:#c9cbcd;opacity:0.8"></div>
<div class="a" style="left:107px;top:341.9px;width:2.8px;height:2.8px;background:#a64fd0;border-radius:50%"></div>
<div class="a" style="left:121px;top:342.5px;width:27px;height:1.2px;background:#b8bbbe;opacity:0.8"></div>
<div class="a" style="left:157px;top:342.5px;width:24px;height:1.2px;background:#b8bbbe;opacity:0.8"></div>
<div class="a" style="left:194px;top:342.5px;width:14px;height:1.2px;background:#b8bbbe;opacity:0.8"></div>
<div class="a" style="left:216px;top:342.5px;width:5px;height:1.2px;background:#b8bbbe;opacity:0.8"></div>
<div class="a" style="left:228px;top:342.5px;width:16px;height:1.2px;background:#b8bbbe;opacity:0.8"></div>
<div class="a" style="left:258px;top:342.5px;width:13px;height:1.2px;background:#b8bbbe;opacity:0.8"></div>
<div class="a" style="left:282px;top:342.5px;width:14px;height:1.2px;background:#b8bbbe;opacity:0.8"></div>
<div class="a" style="left:310px;top:342.5px;width:18px;height:1.2px;background:#b8bbbe;opacity:0.8"></div>
<div class="a" style="left:80px;top:346.5px;width:388px;height:5.5px;background:#3a3e43;"></div>
<div class="a" style="left:82px;top:348.5px;width:1.8px;height:1.8px;background:#888;"></div>
<div class="a" style="left:84.5px;top:348.7px;width:5px;height:1.2px;background:#999;opacity:0.8"></div>
<div class="a" style="left:91px;top:348.5px;width:1.8px;height:1.8px;background:#2fb47c;"></div>
<div class="a" style="left:93.5px;top:348.7px;width:5px;height:1.2px;background:#999;opacity:0.8"></div>
<div class="a" style="left:100px;top:348.5px;width:1.8px;height:1.8px;background:#4a90d9;"></div>
<div class="a" style="left:102.5px;top:348.7px;width:5px;height:1.2px;background:#999;opacity:0.8"></div>
<div class="a" style="left:109px;top:348.5px;width:1.8px;height:1.8px;background:#e2c13a;"></div>
<div class="a" style="left:111.5px;top:348.7px;width:5px;height:1.2px;background:#999;opacity:0.8"></div>
<div class="a" style="left:118px;top:348.5px;width:1.8px;height:1.8px;background:#d9a03a;"></div>
<div class="a" style="left:120.5px;top:348.7px;width:5px;height:1.2px;background:#999;opacity:0.8"></div>
<div class="a" style="left:127px;top:348.5px;width:1.8px;height:1.8px;background:#a64fd0;"></div>
<div class="a" style="left:129.5px;top:348.7px;width:5px;height:1.2px;background:#999;opacity:0.8"></div>
<div class="a" style="left:136px;top:348.5px;width:1.8px;height:1.8px;background:#d94a4a;"></div>
<div class="a" style="left:138.5px;top:348.7px;width:5px;height:1.2px;background:#999;opacity:0.8"></div>
<div class="a" style="left:339px;top:202px;width:277px;height:196px;background:#d6d7d8;"></div>
<div class="a" style="left:341px;top:204px;width:273.5px;height:192.5px;background:#2d3035;"></div>
<div class="a" style="left:341px;top:204px;width:273.5px;height:14.5px;background:#2b2e32;"></div>
<div class="a" style="left:345.5px;top:206.5px;width:5px;height:7px;background:none;border:1px solid #777;border-radius:1px"></div>
<div class="a" style="left:356px;top:206.5px;width:35px;height:1.2px;background:#8d9093;opacity:0.8"></div>
<svg class="a" style="left:356px;top:210.3px" width="4" height="4" viewBox="0 0 4 4"><polygon points="2,0 4,4 0,4" fill="#c06cf0"/></svg>
<div class="a" style="left:360.5px;top:209.8px;font-size:5.4px;line-height:1;color:#d4d6d8;white-space:nowrap;transform:scaleX(0.74);transform-origin:0 0">[DMZ] Zenius8 (211.45.120.8)</div>
<div class="a" style="left:415px;top:210.8px;width:4px;height:3.6px;background:#8d9093;"></div>
<div class="a" style="left:423px;top:211.5px;width:10px;height:1.3px;background:#9a9da0;opacity:0.8"></div>
<div class="a" style="left:436px;top:211.5px;width:10px;height:1.3px;background:#9a9da0;opacity:0.8"></div>
<div class="a" style="left:449px;top:211.5px;width:10px;height:1.3px;background:#9a9da0;opacity:0.8"></div>
<div class="a" style="left:462px;top:211.5px;width:10px;height:1.3px;background:#9a9da0;opacity:0.8"></div>
<div class="a" style="left:475px;top:211.5px;width:10px;height:1.3px;background:#9a9da0;opacity:0.8"></div>
<div class="a" style="left:488px;top:211.5px;width:10px;height:1.3px;background:#9a9da0;opacity:0.8"></div>
<div class="a" style="left:520px;top:206.8px;width:10px;height:1.2px;background:#8a8d90;opacity:0.8"></div>
<div class="a" style="left:532.5px;top:206.8px;width:10px;height:1.2px;background:#8a8d90;opacity:0.8"></div>
<div class="a" style="left:545px;top:206.8px;width:10px;height:1.2px;background:#8a8d90;opacity:0.8"></div>
<div class="a" style="left:557.5px;top:206.8px;width:10px;height:1.2px;background:#8a8d90;opacity:0.8"></div>
<div class="a" style="left:570px;top:206.8px;width:10px;height:1.2px;background:#8a8d90;opacity:0.8"></div>
<div class="a" style="left:582.5px;top:206.8px;width:10px;height:1.2px;background:#8a8d90;opacity:0.8"></div>
<div class="a" style="left:595px;top:206.8px;width:10px;height:1.2px;background:#8a8d90;opacity:0.8"></div>
<div class="a" style="left:341px;top:218.5px;width:273.5px;height:6px;background:#1c1f22;"></div>
<div class="a" style="left:343px;top:221px;width:4px;height:1.3px;background:#a8abae;opacity:0.8"></div>
<div class="a" style="left:353.4px;top:221px;width:4px;height:1.3px;background:#a8abae;opacity:0.8"></div>
<div class="a" style="left:363.8px;top:221px;width:7px;height:1.3px;background:#a8abae;opacity:0.8"></div>
<div class="a" style="left:374.2px;top:221px;width:7px;height:1.3px;background:#a8abae;opacity:0.8"></div>
<div class="a" style="left:384.6px;top:221px;width:7px;height:1.3px;background:#a8abae;opacity:0.8"></div>
<div class="a" style="left:395px;top:221px;width:5px;height:1.3px;background:#a8abae;opacity:0.8"></div>
<div class="a" style="left:405.4px;top:221px;width:4px;height:1.3px;background:#a8abae;opacity:0.8"></div>
<div class="a" style="left:415.8px;top:221px;width:7px;height:1.3px;background:#a8abae;opacity:0.8"></div>
<div class="a" style="left:426.2px;top:221px;width:8px;height:1.3px;background:#a8abae;opacity:0.8"></div>
<div class="a" style="left:436.6px;top:221px;width:5px;height:1.3px;background:#a8abae;opacity:0.8"></div>
<div class="a" style="left:447px;top:221px;width:8px;height:1.3px;background:#a8abae;opacity:0.8"></div>
<div class="a" style="left:457.4px;top:221px;width:6px;height:1.3px;background:#a8abae;opacity:0.8"></div>
<div class="a" style="left:467.8px;top:221px;width:5px;height:1.3px;background:#a8abae;opacity:0.8"></div>
<div class="a" style="left:343px;top:223.8px;width:6px;height:0.8px;background:#2fc39c;"></div>
<div class="a" style="left:533px;top:219.5px;width:13px;height:3.6px;background:#4d5156;"></div>
<div class="a" style="left:548px;top:219.5px;width:17px;height:3.6px;background:#4d5156;"></div>
<div class="a" style="left:568px;top:219.5px;width:18px;height:3.6px;background:#4d5156;"></div>
<div class="a" style="left:588px;top:219.5px;width:12px;height:3.6px;background:#4d5156;"></div>
<div class="a" style="left:601px;top:219.5px;width:12px;height:3.6px;background:#4d5156;"></div>
<div class="a" style="left:343.5px;top:225.5px;width:57.5px;height:5.2px;background:#1f2226;"></div>
<div class="a" style="left:345.5px;top:227.3px;width:10px;height:1.4px;background:#cfd1d3;opacity:0.8"></div>
<div class="a" style="left:343.5px;top:230.7px;width:57.5px;height:29.5px;background:#33373c;"></div>
<div class="a" style="left:346px;top:236px;width:2.5px;height:1.2px;background:#aaa;opacity:0.8"></div>
<div class="a" style="left:350px;top:234.8px;width:1.8px;height:3.2px;background:#e0e0e0;opacity:0.8"></div>
<div class="a" style="left:353px;top:236px;width:6px;height:1.2px;background:#c04040;opacity:0.8"></div>
<div class="a" style="left:351.8px;top:242.6px;width:11.2px;height:9.6px;background:#2c9be0;"></div>
<div class="a" style="left:353.5px;top:244.5px;width:7.8px;height:5.8px;background:#1f3f5c;border-radius:4px 4px 0 0"></div>
<div class="a" style="left:380px;top:242.6px;width:11.4px;height:9.6px;background:#3cc83c;"></div>
<div class="a" style="left:381.7px;top:244.5px;width:8px;height:5.8px;background:#1f4a2a;border-radius:4px 4px 0 0"></div>
<div class="a" style="left:356px;top:240.5px;width:4px;height:1px;background:#bbb;opacity:0.8"></div>
<div class="a" style="left:384px;top:240.5px;width:4px;height:1px;background:#bbb;opacity:0.8"></div>
<div class="a" style="left:351px;top:254.5px;width:14px;height:1.3px;background:#b7babd;opacity:0.8"></div>
<div class="a" style="left:352px;top:257px;width:12px;height:1.3px;background:#b7babd;opacity:0.8"></div>
<div class="a" style="left:379px;top:254.5px;width:14px;height:1.3px;background:#b7babd;opacity:0.8"></div>
<div class="a" style="left:380px;top:257px;width:12px;height:1.3px;background:#b7babd;opacity:0.8"></div>
<div class="a" style="left:343.5px;top:260.5px;width:57.5px;height:0.8px;background:#474b50;"></div>
<div class="a" style="left:343.5px;top:261.3px;width:57.5px;height:64px;background:#33373c;"></div>
<div class="a" style="left:345.5px;top:264px;width:44px;height:1.3px;background:#c9cbce;opacity:0.8"></div>
<div class="a" style="left:351px;top:270px;width:7.5px;height:7.5px;background:#39a9de;"></div>
<div class="a" style="left:352.3px;top:271.6px;width:5px;height:3.6px;background:#1f3f5c;border-radius:3px 3px 0 0"></div>
<div class="a" style="left:368px;top:268.5px;width:3px;height:1.2px;background:#aaa;opacity:0.8"></div>
<div class="a" style="left:386px;top:268.5px;width:13px;height:1.3px;background:#c4c7ca;opacity:0.8"></div>
<div class="a" style="left:368px;top:273.5px;width:3px;height:1.2px;background:#aaa;opacity:0.8"></div>
<div class="a" style="left:386px;top:273.5px;width:13px;height:1.3px;background:#c4c7ca;opacity:0.8"></div>
<div class="a" style="left:368px;top:278.5px;width:3px;height:1.2px;background:#aaa;opacity:0.8"></div>
<div class="a" style="left:386px;top:278.5px;width:13px;height:1.3px;background:#c4c7ca;opacity:0.8"></div>
<div class="a" style="left:343.5px;top:325.5px;width:57.5px;height:5.5px;background:#1f2226;"></div>
<div class="a" style="left:345.5px;top:327.5px;width:9px;height:1.3px;background:#cfd1d3;opacity:0.8"></div>
<div class="a" style="left:343.5px;top:331px;width:57.5px;height:18px;background:#33373c;"></div>
<div class="a" style="left:346px;top:334.3px;width:8px;height:1.2px;background:#b7babd;opacity:0.8"></div>
<div class="a" style="left:366px;top:334.3px;width:3px;height:1.2px;background:#ddd;opacity:0.8"></div>
<div class="a" style="left:373px;top:334.3px;width:13px;height:1.2px;background:#b7babd;opacity:0.8"></div>
<div class="a" style="left:393px;top:334.3px;width:4px;height:1.2px;background:#ddd;opacity:0.8"></div>
<div class="a" style="left:346px;top:341px;width:8px;height:1.2px;background:#b7babd;opacity:0.8"></div>
<div class="a" style="left:366px;top:341px;width:3px;height:1.2px;background:#ddd;opacity:0.8"></div>
<div class="a" style="left:373px;top:341px;width:13px;height:1.2px;background:#b7babd;opacity:0.8"></div>
<div class="a" style="left:393px;top:341px;width:4px;height:1.2px;background:#ddd;opacity:0.8"></div>
<div class="a" style="left:343.5px;top:349px;width:57.5px;height:3.2px;background:#1f2226;"></div>
<div class="a" style="left:345.5px;top:349.6px;width:8px;height:1.2px;background:#cfd1d3;opacity:0.8"></div>
<div class="a" style="left:343.2px;top:352.2px;width:18.6px;height:21px;background:#5b5e63;"></div>
<div class="a" style="left:349px;top:355.5px;width:6px;height:1.3px;background:#cfd1d3;opacity:0.8"></div>
<div class="a" style="left:349.6px;top:362.8px;font-size:7px;line-height:1;color:#e8e8e8;white-space:nowrap;">0</div>
<div class="a" style="left:362.3px;top:352.2px;width:18.6px;height:21px;background:#5f6267;"></div>
<div class="a" style="left:368.1px;top:355.5px;width:6px;height:1.3px;background:#cfd1d3;opacity:0.8"></div>
<div class="a" style="left:368.7px;top:362.8px;font-size:7px;line-height:1;color:#e8e8e8;white-space:nowrap;">0</div>
<div class="a" style="left:381.4px;top:352.2px;width:18.6px;height:21px;background:#64676b;"></div>
<div class="a" style="left:387.2px;top:355.5px;width:6px;height:1.3px;background:#cfd1d3;opacity:0.8"></div>
<div class="a" style="left:387.8px;top:362.8px;font-size:7px;line-height:1;color:#e8e8e8;white-space:nowrap;">0</div>
<div class="a" style="left:343.2px;top:373.5px;width:18.6px;height:21px;background:#c544e6;"></div>
<div class="a" style="left:349px;top:376.5px;width:6px;height:1.3px;background:#e8e8e8;opacity:0.8"></div>
<div class="a" style="left:350.2px;top:384px;font-size:7px;line-height:1;color:#f2f2f2;white-space:nowrap;">1</div>
<div class="a" style="left:362.3px;top:373.5px;width:18.6px;height:21px;background:#55585d;"></div>
<div class="a" style="left:368.1px;top:376.5px;width:6px;height:1.3px;background:#e8e8e8;opacity:0.8"></div>
<div class="a" style="left:369.3px;top:384px;font-size:7px;line-height:1;color:#f2f2f2;white-space:nowrap;">0</div>
<div class="a" style="left:381.4px;top:373.5px;width:18.6px;height:21px;background:#7e8083;"></div>
<div class="a" style="left:387.2px;top:376.5px;width:6px;height:1.3px;background:#e8e8e8;opacity:0.8"></div>
<div class="a" style="left:388.4px;top:384px;font-size:7px;line-height:1;color:#f2f2f2;white-space:nowrap;">1</div>
<div class="a" style="left:403px;top:225.5px;width:75px;height:5.2px;background:#1f2226;"></div>
<div class="a" style="left:405px;top:227.3px;width:6px;height:1.4px;background:#cfd1d3;opacity:0.8"></div>
<div class="a" style="left:403px;top:230.7px;width:75px;height:95px;background:#33373c;"></div>
<div class="a" style="left:405px;top:236px;width:5px;height:1.2px;background:#aaa;opacity:0.8"></div>
<div class="a" style="left:411px;top:232.8px;font-size:5.2px;line-height:1;color:#f0f0f0;white-space:nowrap;font-weight:bold">12</div>
<div class="a" style="left:418px;top:236px;width:3px;height:1.2px;background:#aaa;opacity:0.8"></div>
<div class="a" style="left:420px;top:239.5px;width:14px;height:1.2px;background:#cfd1d3;opacity:0.8"></div>
<svg class="a" style="left:410.6px;top:239.9px" width="33.2" height="33.2" viewBox="0 0 33.2 33.2"><circle cx="16.6" cy="16.6" r="10.2" fill="none" stroke="#27a6e6" stroke-width="6.4" stroke-dasharray="64.09 64.09" stroke-dashoffset="0.00" transform="rotate(-90 16.6 16.6)"/></svg>
<div class="a" style="left:419.5px;top:254.2px;font-size:5px;line-height:1;color:#eeeeee;white-space:nowrap;font-weight:bold">7.50 %</div>
<div class="a" style="left:452px;top:237.5px;width:13px;height:1.3px;background:#cfd1d3;opacity:0.8"></div>
<div class="a" style="left:452px;top:240px;width:26px;height:3px;background:#282b30;"></div>
<div class="a" style="left:452px;top:240px;width:1.2px;height:3px;background:#2fc8a0;"></div>
<div class="a" style="left:452px;top:246px;width:16px;height:1.3px;background:#cfd1d3;opacity:0.8"></div>
<div class="a" style="left:452px;top:248.5px;width:26px;height:3px;background:#282b30;"></div>
<div class="a" style="left:452px;top:248.5px;width:4px;height:3px;background:#2fc8a0;"></div>
<div class="a" style="left:452px;top:254px;width:15px;height:1.3px;background:#cfd1d3;opacity:0.8"></div>
<div class="a" style="left:452px;top:256.5px;width:26px;height:3px;background:#282b30;"></div>
<div class="a" style="left:452px;top:256.5px;width:1px;height:3px;background:#2fc8a0;"></div>
<div class="a" style="left:452px;top:262.5px;width:10px;height:1.3px;background:#cfd1d3;opacity:0.8"></div>
<div class="a" style="left:452px;top:265px;width:26px;height:3px;background:#282b30;"></div>
<div class="a" style="left:405px;top:280.5px;width:38px;height:1.3px;background:#cfd1d3;opacity:0.8"></div>
<div class="a" style="left:411px;top:288.5px;width:33px;height:0.7px;background:#5a5f64;"></div>
<div class="a" style="left:406px;top:288px;width:3px;height:1px;background:#999;opacity:0.8"></div>
<div class="a" style="left:413.8px;top:296px;width:4.6px;height:28.5px;background:#8fd98f;"></div>
<div class="a" style="left:420.8px;top:307px;width:4.6px;height:17.5px;background:#62d0b8;"></div>
<div class="a" style="left:427.2px;top:310px;width:4.6px;height:14.5px;background:#5ab8d0;"></div>
<div class="a" style="left:433.9px;top:314px;width:4.6px;height:10.5px;background:#6aa0e0;"></div>
<div class="a" style="left:440.3px;top:316px;width:4.6px;height:8.5px;background:#9a9ef0;"></div>
<div class="a" style="left:406px;top:324px;width:3px;height:1px;background:#999;opacity:0.8"></div>
<div class="a" style="left:461px;top:284px;width:10px;height:1.3px;background:#cfd1d3;opacity:0.8"></div>
<div class="a" style="left:452.5px;top:288.9px;width:1.8px;height:1.8px;background:#8fd98f;"></div>
<div class="a" style="left:455px;top:289px;width:13px;height:1.2px;background:#b7babd;opacity:0.8"></div>
<div class="a" style="left:470px;top:289px;width:5px;height:1.2px;background:#ccc;opacity:0.8"></div>
<div class="a" style="left:452.5px;top:294.8px;width:1.8px;height:1.8px;background:#62d0b8;"></div>
<div class="a" style="left:455px;top:294.9px;width:11px;height:1.2px;background:#b7babd;opacity:0.8"></div>
<div class="a" style="left:470px;top:294.9px;width:5px;height:1.2px;background:#ccc;opacity:0.8"></div>
<div class="a" style="left:452.5px;top:300.7px;width:1.8px;height:1.8px;background:#5ab8d0;"></div>
<div class="a" style="left:455px;top:300.8px;width:14px;height:1.2px;background:#b7babd;opacity:0.8"></div>
<div class="a" style="left:470px;top:300.8px;width:5px;height:1.2px;background:#ccc;opacity:0.8"></div>
<div class="a" style="left:452.5px;top:306.6px;width:1.8px;height:1.8px;background:#6aa0e0;"></div>
<div class="a" style="left:455px;top:306.7px;width:13px;height:1.2px;background:#b7babd;opacity:0.8"></div>
<div class="a" style="left:470px;top:306.7px;width:5px;height:1.2px;background:#ccc;opacity:0.8"></div>
<div class="a" style="left:452.5px;top:312.5px;width:1.8px;height:1.8px;background:#9a9ef0;"></div>
<div class="a" style="left:455px;top:312.6px;width:10px;height:1.2px;background:#b7babd;opacity:0.8"></div>
<div class="a" style="left:470px;top:312.6px;width:5px;height:1.2px;background:#ccc;opacity:0.8"></div>
<div class="a" style="left:480px;top:225.5px;width:132px;height:5.2px;background:#1f2226;"></div>
<div class="a" style="left:483px;top:227.3px;width:11px;height:1.4px;background:#cfd1d3;opacity:0.8"></div>
<div class="a" style="left:480px;top:230.7px;width:132px;height:95px;background:#33373c;"></div>
<svg class="a" style="left:513px;top:240px" width="30" height="30" viewBox="0 0 30 30"><path d="M4,18 A11,11 0 0 1 26,18" fill="none" stroke="#3a3e44" stroke-width="5"/><path d="M4,18 A11,11 0 0 1 15,7" fill="none" stroke="#27a6e6" stroke-width="5"/></svg>
<div class="a" style="left:525px;top:239.5px;width:7px;height:1.2px;background:#ddd;opacity:0.8"></div>
<div class="a" style="left:520px;top:254.5px;font-size:5.2px;line-height:1;color:#f0f0f0;white-space:nowrap;">51.29 %</div>
<div class="a" style="left:524px;top:260.5px;width:12px;height:1.2px;background:#aaa;opacity:0.8"></div>
<div class="a" style="left:524px;top:263px;width:12px;height:1.2px;background:#aaa;opacity:0.8"></div>
<svg class="a" style="left:575px;top:240px" width="30" height="30" viewBox="0 0 30 30"><path d="M4,18 A11,11 0 0 1 26,18" fill="none" stroke="#3a3e44" stroke-width="5"/><path d="M4,18 A11,11 0 0 1 4.3,16" fill="none" stroke="#2fc8a0" stroke-width="5"/></svg>
<div class="a" style="left:587px;top:239.5px;width:5px;height:1.2px;background:#ddd;opacity:0.8"></div>
<div class="a" style="left:582px;top:254.5px;font-size:5.2px;line-height:1;color:#f0f0f0;white-space:nowrap;">2.21 %</div>
<div class="a" style="left:583px;top:260.5px;width:15px;height:1.2px;background:#aaa;opacity:0.8"></div>
<div class="a" style="left:583px;top:263px;width:15px;height:1.2px;background:#aaa;opacity:0.8"></div>
<div class="a" style="left:552px;top:242px;width:16px;height:1.2px;background:#ccc;opacity:0.8"></div>
<div class="a" style="left:555px;top:244.5px;width:9px;height:1.2px;background:#ccc;opacity:0.8"></div>
<div class="a" style="left:551px;top:250px;width:2px;height:2px;background:#ddd;"></div>
<div class="a" style="left:552px;top:262px;width:18px;height:1.2px;background:#ccc;opacity:0.8"></div>
<div class="a" style="left:556px;top:264.5px;width:8px;height:1.2px;background:#ccc;opacity:0.8"></div>
<div class="a" style="left:511px;top:280.5px;width:40px;height:1.3px;background:#cfd1d3;opacity:0.8"></div>
<svg class="a" style="left:515.6px;top:281.1px" width="34.8" height="34.8" viewBox="0 0 34.8 34.8"><circle cx="17.4" cy="17.4" r="11.2" fill="none" stroke="#2ab8f2" stroke-width="6.2" stroke-dasharray="54.89 70.37" stroke-dashoffset="0.00" transform="rotate(-90 17.4 17.4)"/><circle cx="17.4" cy="17.4" r="11.2" fill="none" stroke="#e07ae8" stroke-width="6.2" stroke-dasharray="5.63 70.37" stroke-dashoffset="-54.89" transform="rotate(-90 17.4 17.4)"/><circle cx="17.4" cy="17.4" r="11.2" fill="none" stroke="#b488f5" stroke-width="6.2" stroke-dasharray="3.52 70.37" stroke-dashoffset="-60.52" transform="rotate(-90 17.4 17.4)"/><circle cx="17.4" cy="17.4" r="11.2" fill="none" stroke="#e0e4ea" stroke-width="6.2" stroke-dasharray="6.33 70.37" stroke-dashoffset="-64.04" transform="rotate(-90 17.4 17.4)"/></svg>
<div class="a" style="left:528px;top:296px;width:5px;height:1px;background:#999;opacity:0.8"></div>
<div class="a" style="left:526.5px;top:299px;width:13px;height:1.8px;background:#e8e0a0;opacity:0.8"></div>
<div class="a" style="left:569px;top:284px;width:12px;height:1.3px;background:#cfd1d3;opacity:0.8"></div>
<div class="a" style="left:599px;top:284px;width:6px;height:1.3px;background:#cfd1d3;opacity:0.8"></div>
<div class="a" style="left:559.5px;top:288.9px;width:1.8px;height:1.8px;background:#2ab8f2;"></div>
<div class="a" style="left:562px;top:289px;width:16px;height:1.2px;background:#b7babd;opacity:0.8"></div>
<div class="a" style="left:595px;top:289px;width:7px;height:1.2px;background:#ccc;opacity:0.8"></div>
<div class="a" style="left:559.5px;top:294.8px;width:1.8px;height:1.8px;background:#36c5f3;"></div>
<div class="a" style="left:562px;top:294.9px;width:15px;height:1.2px;background:#b7babd;opacity:0.8"></div>
<div class="a" style="left:595px;top:294.9px;width:7px;height:1.2px;background:#ccc;opacity:0.8"></div>
<div class="a" style="left:559.5px;top:300.7px;width:1.8px;height:1.8px;background:#b488f5;"></div>
<div class="a" style="left:562px;top:300.8px;width:15px;height:1.2px;background:#b7babd;opacity:0.8"></div>
<div class="a" style="left:595px;top:300.8px;width:7px;height:1.2px;background:#ccc;opacity:0.8"></div>
<div class="a" style="left:559.5px;top:306.6px;width:1.8px;height:1.8px;background:#9a8ef0;"></div>
<div class="a" style="left:562px;top:306.7px;width:11px;height:1.2px;background:#b7babd;opacity:0.8"></div>
<div class="a" style="left:595px;top:306.7px;width:10px;height:1.2px;background:#ccc;opacity:0.8"></div>
<div class="a" style="left:559.5px;top:312.5px;width:1.8px;height:1.8px;background:#6a7cf0;"></div>
<div class="a" style="left:562px;top:312.6px;width:15px;height:1.2px;background:#b7babd;opacity:0.8"></div>
<div class="a" style="left:595px;top:312.6px;width:10px;height:1.2px;background:#ccc;opacity:0.8"></div>
<div class="a" style="left:403px;top:327px;width:209px;height:21px;background:#2b2e32;"></div>
<div class="a" style="left:504px;top:333px;width:2.5px;height:2px;background:#e8e8e8;"></div>
<div class="a" style="left:504px;top:336.3px;width:2.5px;height:2px;background:#e8e8e8;"></div>
<div class="a" style="left:504px;top:339.6px;width:2.5px;height:2px;background:#e8e8e8;"></div>
<div class="a" style="left:504px;top:342.9px;width:2.5px;height:2px;background:#e8e8e8;"></div>
<div class="a" style="left:493px;top:337px;width:6px;height:1.2px;background:#aaa;opacity:0.8"></div>
<div class="a" style="left:491px;top:340px;width:8px;height:1.2px;background:#aaa;opacity:0.8"></div>
<div class="a" style="left:513px;top:337px;width:7px;height:1.2px;background:#aaa;opacity:0.8"></div>
<div class="a" style="left:515px;top:340px;width:8px;height:1.2px;background:#aaa;opacity:0.8"></div>
<div class="a" style="left:403px;top:349px;width:209px;height:3px;background:#1f2226;"></div>
<div class="a" style="left:405px;top:349.6px;width:30px;height:1.2px;background:#cfd1d3;opacity:0.8"></div>
<div class="a" style="left:403px;top:352.2px;width:209px;height:43px;background:#33373c;"></div>
<div class="a" style="left:405px;top:354.5px;width:6px;height:1.2px;background:#ddd;opacity:0.8"></div>
<div class="a" style="left:406.3px;top:359px;width:9.7px;height:22.6px;background:#222528;"></div>
<div class="a" style="left:406.3px;top:382px;width:9.7px;height:9.7px;background:#2ec8b0;"></div>
<div class="a" style="left:419px;top:361.5px;width:10px;height:1px;background:#aaa;opacity:0.8"></div>
<div class="a" style="left:419px;top:364px;width:13px;height:1.4px;background:#ddd;opacity:0.8"></div>
<div class="a" style="left:419px;top:368.5px;width:6px;height:1px;background:#aaa;opacity:0.8"></div>
<div class="a" style="left:419px;top:371px;width:13px;height:1.4px;background:#ddd;opacity:0.8"></div>
<div class="a" style="left:419px;top:385.5px;width:6px;height:1px;background:#aaa;opacity:0.8"></div>
<div class="a" style="left:418.6px;top:386.5px;font-size:6px;line-height:1;color:#f0f0f0;white-space:nowrap;">29.02 %</div>
<div class="a" style="left:667px;top:155px;width:406px;height:190px;background:#2c2f34;"></div>
<div class="a" style="left:667px;top:155px;width:406px;height:17px;background:#2c2f33;"></div>
<svg class="a" style="left:670.5px;top:160.15px" width="8.8" height="8.8" viewBox="0 0 8.8 8.8"><circle cx="4.4" cy="4.4" r="2.8600000000000003" fill="none" stroke="#e8821e" stroke-width="1.7600000000000002"/><circle cx="4.4" cy="4.4" r="1.2100000000000002" fill="#e8821e"/></svg>
<div class="a" style="left:679.85px;top:160.37px;font-size:7.7px;line-height:1;color:#f2f2f2;white-space:nowrap;font-weight:bold;letter-spacing:-0.2px">Zenius</div>
<svg class="a" style="left:716.5px;top:158.5px" width="6.5" height="8" viewBox="0 0 6.5 8"><rect x="0.5" y="0.5" width="5.5" height="4.96" fill="none" stroke="#8d9094" stroke-width="0.8"/><path d="M3.25,5.46 V7.2 M1.3,7.5 H5.2" stroke="#8d9094" stroke-width="0.8"/></svg>
<div class="a" style="left:715.7px;top:167.7px;width:8.1px;height:1px;background:#8d9094;opacity:0.6000000000000001"></div>
<svg class="a" style="left:731.5px;top:158.5px" width="6.5" height="8" viewBox="0 0 6.5 8"><circle cx="3.25" cy="1.4" r="1" fill="none" stroke="#8d9094" stroke-width="0.8"/><path d="M3.25,2.4 V4.4 M1,6.5 L3.25,4.4 L5.5,6.5" stroke="#8d9094" stroke-width="0.8" fill="none"/><rect x="0" y="6" width="2" height="1.6" fill="#8d9094"/><rect x="4.5" y="6" width="2" height="1.6" fill="#8d9094"/></svg>
<div class="a" style="left:730.7px;top:167.7px;width:8.1px;height:1px;background:#8d9094;opacity:0.6000000000000001"></div>
<svg class="a" style="left:746.5px;top:158.5px" width="6.5" height="8" viewBox="0 0 6.5 8"><rect x="1" y="0.5" width="4.5" height="7" fill="none" stroke="#e6e6e6" stroke-width="0.8"/><path d="M1,2.8 H5.5 M1,5.2 H5.5" stroke="#e6e6e6" stroke-width="0.8"/></svg>
<div class="a" style="left:745.7px;top:167.7px;width:8.1px;height:1px;background:#e6e6e6;opacity:0.6000000000000001"></div>
<svg class="a" style="left:761.5px;top:158.5px" width="6.5" height="8" viewBox="0 0 6.5 8"><rect x="1.95" y="0.5" width="2.6" height="2.8" fill="none" stroke="#8d9094" stroke-width="0.8"/><rect x="0.5" y="4.4" width="5.5" height="3.2" fill="none" stroke="#8d9094" stroke-width="0.8"/><path d="M3.25,3.04 V4.4" stroke="#8d9094" stroke-width="0.8"/></svg>
<div class="a" style="left:760.7px;top:167.7px;width:8.1px;height:1px;background:#8d9094;opacity:0.6000000000000001"></div>
<svg class="a" style="left:776.5px;top:158.5px" width="6.5" height="8" viewBox="0 0 6.5 8"><ellipse cx="3.25" cy="1.5" rx="2.65" ry="1" fill="none" stroke="#8d9094" stroke-width="0.8"/><path d="M0.6,1.5 V6.5 Q3.25,8.3 5.9,6.5 V1.5" fill="none" stroke="#8d9094" stroke-width="0.8"/></svg>
<div class="a" style="left:775.7px;top:167.7px;width:8.1px;height:1px;background:#8d9094;opacity:0.6000000000000001"></div>
<svg class="a" style="left:791.5px;top:158.5px" width="6.5" height="8" viewBox="0 0 6.5 8"><rect x="0.5" y="0.5" width="5.5" height="7" fill="none" stroke="#8d9094" stroke-width="0.8"/><path d="M3.25,0.5 V7.5 M0.5,4.0 H6.0" stroke="#8d9094" stroke-width="0.8"/></svg>
<div class="a" style="left:790.7px;top:167.7px;width:8.1px;height:1px;background:#8d9094;opacity:0.6000000000000001"></div>
<svg class="a" style="left:806.5px;top:158.5px" width="6.5" height="8" viewBox="0 0 6.5 8"><circle cx="3.25" cy="4.0" r="2.75" fill="none" stroke="#8d9094" stroke-width="0.8"/><path d="M0.8,4.0 H5.7" stroke="#8d9094" stroke-width="0.8"/></svg>
<div class="a" style="left:805.7px;top:167.7px;width:8.1px;height:1px;background:#8d9094;opacity:0.6000000000000001"></div>
<svg class="a" style="left:821.5px;top:158.5px" width="6.5" height="8" viewBox="0 0 6.5 8"><path d="M1,0.5 H4.5 L6.0,2 V7.5 H1 Z" fill="none" stroke="#8d9094" stroke-width="0.8"/></svg>
<div class="a" style="left:820.7px;top:167.7px;width:8.1px;height:1px;background:#8d9094;opacity:0.6000000000000001"></div>
<svg class="a" style="left:836.5px;top:158.5px" width="6.5" height="8" viewBox="0 0 6.5 8"><path d="M0.5,7.2 H6.0 M1,6.8 L5.5,1" stroke="#8d9094" stroke-width="0.8" fill="none"/></svg>
<div class="a" style="left:835.7px;top:167.7px;width:8.1px;height:1px;background:#8d9094;opacity:0.6000000000000001"></div>
<svg class="a" style="left:851.5px;top:158.5px" width="6.5" height="8" viewBox="0 0 6.5 8"><rect x="0.5" y="0.5" width="5.5" height="4.96" fill="none" stroke="#8d9094" stroke-width="0.8"/><path d="M3.25,5.46 V7.2 M1.3,7.5 H5.2" stroke="#8d9094" stroke-width="0.8"/></svg>
<div class="a" style="left:850.7px;top:167.7px;width:8.1px;height:1px;background:#8d9094;opacity:0.6000000000000001"></div>
<svg class="a" style="left:866.5px;top:158.5px" width="6.5" height="8" viewBox="0 0 6.5 8"><rect x="1" y="0.5" width="4.5" height="7" fill="none" stroke="#8d9094" stroke-width="0.8"/><path d="M1,2.8 H5.5 M1,5.2 H5.5" stroke="#8d9094" stroke-width="0.8"/></svg>
<div class="a" style="left:865.7px;top:167.7px;width:8.1px;height:1px;background:#8d9094;opacity:0.6000000000000001"></div>
<svg class="a" style="left:881.5px;top:158.5px" width="6.5" height="8" viewBox="0 0 6.5 8"><rect x="1.95" y="0.5" width="2.6" height="2.8" fill="none" stroke="#8d9094" stroke-width="0.8"/><rect x="0.5" y="4.4" width="5.5" height="3.2" fill="none" stroke="#8d9094" stroke-width="0.8"/><path d="M3.25,3.04 V4.4" stroke="#8d9094" stroke-width="0.8"/></svg>
<div class="a" style="left:880.7px;top:167.7px;width:8.1px;height:1px;background:#8d9094;opacity:0.6000000000000001"></div>
<svg class="a" style="left:896.5px;top:158.5px" width="6.5" height="8" viewBox="0 0 6.5 8"><ellipse cx="3.25" cy="1.5" rx="2.65" ry="1" fill="none" stroke="#8d9094" stroke-width="0.8"/><path d="M0.6,1.5 V6.5 Q3.25,8.3 5.9,6.5 V1.5" fill="none" stroke="#8d9094" stroke-width="0.8"/></svg>
<div class="a" style="left:895.7px;top:167.7px;width:8.1px;height:1px;background:#8d9094;opacity:0.6000000000000001"></div>
<svg class="a" style="left:911.5px;top:158.5px" width="6.5" height="8" viewBox="0 0 6.5 8"><rect x="0.5" y="0.5" width="5.5" height="7" fill="none" stroke="#8d9094" stroke-width="0.8"/><path d="M3.25,0.5 V7.5 M0.5,4.0 H6.0" stroke="#8d9094" stroke-width="0.8"/></svg>
<div class="a" style="left:910.7px;top:167.7px;width:8.1px;height:1px;background:#8d9094;opacity:0.6000000000000001"></div>
<svg class="a" style="left:926.5px;top:158.5px" width="6.5" height="8" viewBox="0 0 6.5 8"><circle cx="3.25" cy="4.0" r="2.75" fill="none" stroke="#8d9094" stroke-width="0.8"/><path d="M0.8,4.0 H5.7" stroke="#8d9094" stroke-width="0.8"/></svg>
<div class="a" style="left:925.7px;top:167.7px;width:8.1px;height:1px;background:#8d9094;opacity:0.6000000000000001"></div>
<svg class="a" style="left:941.5px;top:158.5px" width="6.5" height="8" viewBox="0 0 6.5 8"><path d="M1,0.5 H4.5 L6.0,2 V7.5 H1 Z" fill="none" stroke="#8d9094" stroke-width="0.8"/></svg>
<div class="a" style="left:940.7px;top:167.7px;width:8.1px;height:1px;background:#8d9094;opacity:0.6000000000000001"></div>
<svg class="a" style="left:956.5px;top:158.5px" width="6.5" height="8" viewBox="0 0 6.5 8"><path d="M0.5,7.2 H6.0 M1,6.8 L5.5,1" stroke="#8d9094" stroke-width="0.8" fill="none"/></svg>
<div class="a" style="left:955.7px;top:167.7px;width:8.1px;height:1px;background:#8d9094;opacity:0.6000000000000001"></div>
<svg class="a" style="left:971.5px;top:158.5px" width="6.5" height="8" viewBox="0 0 6.5 8"><rect x="0.5" y="0.5" width="5.5" height="4.96" fill="none" stroke="#8d9094" stroke-width="0.8"/><path d="M3.25,5.46 V7.2 M1.3,7.5 H5.2" stroke="#8d9094" stroke-width="0.8"/></svg>
<div class="a" style="left:970.7px;top:167.7px;width:8.1px;height:1px;background:#8d9094;opacity:0.6000000000000001"></div>
<svg class="a" style="left:986.5px;top:158.5px" width="6.5" height="8" viewBox="0 0 6.5 8"><rect x="1" y="0.5" width="4.5" height="7" fill="none" stroke="#8d9094" stroke-width="0.8"/><path d="M1,2.8 H5.5 M1,5.2 H5.5" stroke="#8d9094" stroke-width="0.8"/></svg>
<div class="a" style="left:985.7px;top:167.7px;width:8.1px;height:1px;background:#8d9094;opacity:0.6000000000000001"></div>
<svg class="a" style="left:1001.5px;top:158.5px" width="6.5" height="8" viewBox="0 0 6.5 8"><rect x="1.95" y="0.5" width="2.6" height="2.8" fill="none" stroke="#8d9094" stroke-width="0.8"/><rect x="0.5" y="4.4" width="5.5" height="3.2" fill="none" stroke="#8d9094" stroke-width="0.8"/><path d="M3.25,3.04 V4.4" stroke="#8d9094" stroke-width="0.8"/></svg>
<div class="a" style="left:1000.7px;top:167.7px;width:8.1px;height:1px;background:#8d9094;opacity:0.6000000000000001"></div>
<div class="a" style="left:875px;top:157.2px;width:13px;height:1.1px;background:#7c7f83;opacity:0.8"></div>
<div class="a" style="left:891px;top:157.2px;width:13px;height:1.1px;background:#7c7f83;opacity:0.8"></div>
<div class="a" style="left:907px;top:157.2px;width:13px;height:1.1px;background:#7c7f83;opacity:0.8"></div>
<div class="a" style="left:923px;top:157.2px;width:13px;height:1.1px;background:#7c7f83;opacity:0.8"></div>
<div class="a" style="left:939px;top:157.2px;width:13px;height:1.1px;background:#7c7f83;opacity:0.8"></div>
<div class="a" style="left:955px;top:157.2px;width:13px;height:1.1px;background:#7c7f83;opacity:0.8"></div>
<div class="a" style="left:971px;top:157.2px;width:13px;height:1.1px;background:#7c7f83;opacity:0.8"></div>
<div class="a" style="left:987px;top:157.2px;width:13px;height:1.1px;background:#7c7f83;opacity:0.8"></div>
<div class="a" style="left:1003px;top:157.2px;width:13px;height:1.1px;background:#7c7f83;opacity:0.8"></div>
<div class="a" style="left:1019px;top:157.2px;width:13px;height:1.1px;background:#7c7f83;opacity:0.8"></div>
<div class="a" style="left:1035px;top:157.2px;width:13px;height:1.1px;background:#7c7f83;opacity:0.8"></div>
<div class="a" style="left:1051px;top:157.2px;width:13px;height:1.1px;background:#7c7f83;opacity:0.8"></div>
<div class="a" style="left:1015px;top:163px;width:32px;height:4.5px;background:#3b3e42;"></div>
<div class="a" style="left:1017px;top:164.5px;width:14px;height:1.3px;background:#9a9da0;opacity:0.8"></div>
<div class="a" style="left:1051px;top:163.2px;width:2.6px;height:3.2px;background:#cfd1d3;"></div>
<div class="a" style="left:1056px;top:163.2px;width:2.6px;height:3.2px;background:#cfd1d3;"></div>
<div class="a" style="left:1061px;top:163.2px;width:2.6px;height:3.2px;background:#cfd1d3;"></div>
<div class="a" style="left:1066px;top:163.2px;width:2.6px;height:3.2px;background:#cfd1d3;"></div>
<div class="a" style="left:667px;top:172px;width:406px;height:7px;background:#1c1f22;"></div>
<div class="a" style="left:669px;top:173.2px;width:29px;height:3.6px;background:#6b6e71;"></div>
<div class="a" style="left:701px;top:174.4px;width:3px;height:1.3px;background:#777;opacity:0.8"></div>
<div class="a" style="left:706px;top:174.4px;width:3px;height:1.3px;background:#777;opacity:0.8"></div>
<div class="a" style="left:717px;top:174.4px;width:6px;height:1.6px;background:#2fc39c;opacity:0.8"></div>
<div class="a" style="left:725px;top:174.4px;width:2px;height:1.6px;background:#2fc39c;opacity:0.8"></div>
<div class="a" style="left:729px;top:174.4px;width:8px;height:1.6px;background:#2fc39c;opacity:0.8"></div>
<div class="a" style="left:667px;top:179px;width:406px;height:6.5px;background:#25282c;"></div>
<div class="a" style="left:671px;top:181.5px;width:12px;height:1.4px;background:#c9cbce;opacity:0.8"></div>
<div class="a" style="left:692px;top:181.5px;width:14px;height:1.4px;background:#9ea1a4;opacity:0.8"></div>
<div class="a" style="left:668px;top:184.3px;width:23px;height:0.9px;background:#2fc39c;"></div>
<div class="a" style="left:716px;top:179.8px;width:6px;height:4.6px;background:#55595e;"></div>
<div class="a" style="left:726px;top:179.8px;width:7px;height:4.6px;background:#55595e;"></div>
<div class="a" style="left:736px;top:179.8px;width:7px;height:4.6px;background:#55595e;"></div>
<div class="a" style="left:746px;top:179.8px;width:13px;height:4.6px;background:#55595e;"></div>
<div class="a" style="left:920px;top:181.5px;width:8px;height:1.2px;background:#bbb;opacity:0.8"></div>
<div class="a" style="left:930px;top:180px;width:9px;height:4px;background:#5d6165;"></div>
<div class="a" style="left:944px;top:181.5px;width:3px;height:1.2px;background:#999;opacity:0.8"></div>
<div class="a" style="left:958px;top:180px;width:12px;height:4px;background:#5d6165;"></div>
<div class="a" style="left:974px;top:180px;width:12px;height:4px;background:#5d6165;"></div>
<div class="a" style="left:988px;top:180px;width:57px;height:4px;background:#55595e;"></div>
<div class="a" style="left:1048px;top:180px;width:6px;height:4px;background:#3c8c40;"></div>
<div class="a" style="left:1055px;top:180px;width:9px;height:4px;background:#2fa040;"></div>
<div class="a" style="left:1065px;top:180px;width:7px;height:4px;background:#5d6165;"></div>
<div class="a" style="left:667px;top:185.5px;width:48px;height:159.5px;background:#2b2e33;"></div>
<div class="a" style="left:715px;top:185.5px;width:1px;height:159.5px;background:#1f2226;"></div>
<div class="a" style="left:670px;top:188.3px;width:3.2px;height:2.6px;background:#e8a050;"></div>
<div class="a" style="left:674.5px;top:187.8px;width:7.2px;height:3.4px;background:#27b592;"></div>
<div class="a" style="left:675px;top:193.8px;width:3.2px;height:2.6px;background:#e8a050;"></div>
<div class="a" style="left:679.5px;top:194.4px;width:10px;height:1.3px;background:#a9acaf;opacity:0.8"></div>
<div class="a" style="left:684px;top:199.8px;width:3.2px;height:2.6px;background:#e9e9e9;"></div>
<div class="a" style="left:688.5px;top:200.4px;width:14px;height:1.3px;background:#a9acaf;opacity:0.8"></div>
<div class="a" style="left:684px;top:205.3px;width:3.2px;height:2.6px;background:#d9c070;"></div>
<div class="a" style="left:688.5px;top:205.9px;width:14px;height:1.3px;background:#a9acaf;opacity:0.8"></div>
<div class="a" style="left:684px;top:210.8px;width:3.2px;height:2.6px;background:#e9e9e9;"></div>
<div class="a" style="left:688.5px;top:211.4px;width:20px;height:1.3px;background:#a9acaf;opacity:0.8"></div>
<div class="a" style="left:676px;top:216.8px;width:3.2px;height:2.6px;background:#e8c070;"></div>
<div class="a" style="left:680.5px;top:217.4px;width:16px;height:1.3px;background:#a9acaf;opacity:0.8"></div>
<div class="a" style="left:676px;top:222.8px;width:3.2px;height:2.6px;background:#e8c070;"></div>
<div class="a" style="left:680.5px;top:223.4px;width:10px;height:1.3px;background:#a9acaf;opacity:0.8"></div>
<div class="a" style="left:684px;top:228.3px;width:3.2px;height:2.6px;background:#e9e9e9;"></div>
<div class="a" style="left:688.5px;top:228.9px;width:10px;height:1.3px;background:#a9acaf;opacity:0.8"></div>
<div class="a" style="left:676px;top:234.3px;width:3.2px;height:2.6px;background:#e8c070;"></div>
<div class="a" style="left:680.5px;top:234.9px;width:6px;height:1.3px;background:#a9acaf;opacity:0.8"></div>
<div class="a" style="left:676px;top:239.8px;width:3.2px;height:2.6px;background:#e8c070;"></div>
<div class="a" style="left:680.5px;top:240.4px;width:8px;height:1.3px;background:#a9acaf;opacity:0.8"></div>
<div class="a" style="left:716px;top:185.5px;width:357px;height:7px;background:#3d4248;"></div>
<div class="a" style="left:717px;top:188.3px;width:3px;height:1.2px;background:#b0b3b6;opacity:0.8"></div>
<div class="a" style="left:730px;top:188.3px;width:7px;height:1.2px;background:#b0b3b6;opacity:0.8"></div>
<div class="a" style="left:748px;top:188.3px;width:6px;height:1.2px;background:#b0b3b6;opacity:0.8"></div>
<div class="a" style="left:765px;top:188.3px;width:10px;height:1.2px;background:#b0b3b6;opacity:0.8"></div>
<div class="a" style="left:799px;top:188.3px;width:21px;height:1.2px;background:#b0b3b6;opacity:0.8"></div>
<div class="a" style="left:836px;top:188.3px;width:13px;height:1.2px;background:#b0b3b6;opacity:0.8"></div>
<div class="a" style="left:870px;top:188.3px;width:9px;height:1.2px;background:#b0b3b6;opacity:0.8"></div>
<div class="a" style="left:888px;top:188.3px;width:6px;height:1.2px;background:#b0b3b6;opacity:0.8"></div>
<div class="a" style="left:905px;top:188.3px;width:8px;height:1.2px;background:#b0b3b6;opacity:0.8"></div>
<div class="a" style="left:935px;top:188.3px;width:2px;height:1.2px;background:#b0b3b6;opacity:0.8"></div>
<div class="a" style="left:960px;top:188.3px;width:12px;height:1.2px;background:#b0b3b6;opacity:0.8"></div>
<div class="a" style="left:1015px;top:188.3px;width:12px;height:1.2px;background:#b0b3b6;opacity:0.8"></div>
<div class="a" style="left:1048px;top:188.3px;width:10px;height:1.2px;background:#b0b3b6;opacity:0.8"></div>
<div class="a" style="left:717px;top:187.3px;width:2.5px;height:2.5px;background:#e8e8e8;"></div>
<div class="a" style="left:716px;top:192.5px;width:357px;height:6.6px;background:#33373c;"></div>
<div class="a" style="left:716.8px;top:194.6px;width:2.6px;height:2.6px;background:#e4e4e4;"></div>
<div class="a" style="left:731px;top:195.2px;width:5px;height:1.3px;background:#c9cbce;opacity:0.8"></div>
<div class="a" style="left:750.5px;top:194.4px;width:3px;height:3px;background:#e8d45a;border-radius:50%"></div>
<div class="a" style="left:764px;top:195.2px;width:25px;height:1.2px;background:#b5b8bb;opacity:0.8"></div>
<div class="a" style="left:798px;top:195.2px;width:25px;height:1.2px;background:#b5b8bb;opacity:0.8"></div>
<div class="a" style="left:832px;top:195.2px;width:25px;height:1.2px;background:#b5b8bb;opacity:0.8"></div>
<div class="a" style="left:869px;top:195.2px;width:10px;height:1.2px;background:#b5b8bb;opacity:0.8"></div>
<div class="a" style="left:888px;top:195.2px;width:6px;height:1.2px;background:#b5b8bb;opacity:0.8"></div>
<div class="a" style="left:901px;top:195.2px;width:18px;height:1.2px;background:#b5b8bb;opacity:0.8"></div>
<div class="a" style="left:927px;top:195.2px;width:14px;height:1.2px;background:#b5b8bb;opacity:0.8"></div>
<div class="a" style="left:951px;top:195.2px;width:20px;height:1.2px;background:#b5b8bb;opacity:0.8"></div>
<div class="a" style="left:994px;top:195.2px;width:26px;height:1.2px;background:#b5b8bb;opacity:0.8"></div>
<div class="a" style="left:716px;top:199.1px;width:357px;height:6.6px;background:#30343a;"></div>
<div class="a" style="left:716.8px;top:201.2px;width:2.6px;height:2.6px;background:#e4e4e4;"></div>
<div class="a" style="left:731px;top:201.8px;width:5px;height:1.3px;background:#c9cbce;opacity:0.8"></div>
<div class="a" style="left:750.5px;top:201px;width:3px;height:3px;background:#e8d45a;border-radius:50%"></div>
<div class="a" style="left:764px;top:201.8px;width:25px;height:1.2px;background:#b5b8bb;opacity:0.8"></div>
<div class="a" style="left:798px;top:201.8px;width:25px;height:1.2px;background:#b5b8bb;opacity:0.8"></div>
<div class="a" style="left:832px;top:201.8px;width:25px;height:1.2px;background:#b5b8bb;opacity:0.8"></div>
<div class="a" style="left:869px;top:201.8px;width:10px;height:1.2px;background:#b5b8bb;opacity:0.8"></div>
<div class="a" style="left:888px;top:201.8px;width:6px;height:1.2px;background:#b5b8bb;opacity:0.8"></div>
<div class="a" style="left:901px;top:201.8px;width:18px;height:1.2px;background:#b5b8bb;opacity:0.8"></div>
<div class="a" style="left:927px;top:201.8px;width:14px;height:1.2px;background:#b5b8bb;opacity:0.8"></div>
<div class="a" style="left:951px;top:201.8px;width:20px;height:1.2px;background:#b5b8bb;opacity:0.8"></div>
<div class="a" style="left:994px;top:201.8px;width:26px;height:1.2px;background:#b5b8bb;opacity:0.8"></div>
<div class="a" style="left:716px;top:205.7px;width:357px;height:6.6px;background:#33373c;"></div>
<div class="a" style="left:716.8px;top:207.8px;width:2.6px;height:2.6px;background:#e4e4e4;"></div>
<div class="a" style="left:731px;top:208.4px;width:5px;height:1.3px;background:#c9cbce;opacity:0.8"></div>
<div class="a" style="left:750.5px;top:207.6px;width:3px;height:3px;background:#e8d45a;border-radius:50%"></div>
<div class="a" style="left:764px;top:208.4px;width:25px;height:1.2px;background:#b5b8bb;opacity:0.8"></div>
<div class="a" style="left:798px;top:208.4px;width:25px;height:1.2px;background:#b5b8bb;opacity:0.8"></div>
<div class="a" style="left:832px;top:208.4px;width:25px;height:1.2px;background:#b5b8bb;opacity:0.8"></div>
<div class="a" style="left:869px;top:208.4px;width:10px;height:1.2px;background:#b5b8bb;opacity:0.8"></div>
<div class="a" style="left:888px;top:208.4px;width:6px;height:1.2px;background:#b5b8bb;opacity:0.8"></div>
<div class="a" style="left:901px;top:208.4px;width:18px;height:1.2px;background:#b5b8bb;opacity:0.8"></div>
<div class="a" style="left:927px;top:208.4px;width:14px;height:1.2px;background:#b5b8bb;opacity:0.8"></div>
<div class="a" style="left:951px;top:208.4px;width:20px;height:1.2px;background:#b5b8bb;opacity:0.8"></div>
<div class="a" style="left:994px;top:208.4px;width:26px;height:1.2px;background:#b5b8bb;opacity:0.8"></div>
<div class="a" style="left:716px;top:212.3px;width:357px;height:6.6px;background:#30343a;"></div>
<div class="a" style="left:716.8px;top:214.4px;width:2.6px;height:2.6px;background:#e4e4e4;"></div>
<div class="a" style="left:731px;top:215px;width:5px;height:1.3px;background:#c9cbce;opacity:0.8"></div>
<div class="a" style="left:750.5px;top:214.2px;width:3px;height:3px;background:#f0a838;border-radius:50%"></div>
<div class="a" style="left:764px;top:215px;width:25px;height:1.2px;background:#b5b8bb;opacity:0.8"></div>
<div class="a" style="left:798px;top:215px;width:25px;height:1.2px;background:#b5b8bb;opacity:0.8"></div>
<div class="a" style="left:832px;top:215px;width:25px;height:1.2px;background:#b5b8bb;opacity:0.8"></div>
<div class="a" style="left:869px;top:215px;width:10px;height:1.2px;background:#b5b8bb;opacity:0.8"></div>
<div class="a" style="left:888px;top:215px;width:6px;height:1.2px;background:#b5b8bb;opacity:0.8"></div>
<div class="a" style="left:901px;top:215px;width:18px;height:1.2px;background:#b5b8bb;opacity:0.8"></div>
<div class="a" style="left:927px;top:215px;width:14px;height:1.2px;background:#b5b8bb;opacity:0.8"></div>
<div class="a" style="left:951px;top:215px;width:20px;height:1.2px;background:#b5b8bb;opacity:0.8"></div>
<div class="a" style="left:994px;top:215px;width:26px;height:1.2px;background:#b5b8bb;opacity:0.8"></div>
<div class="a" style="left:716px;top:218.9px;width:357px;height:6.6px;background:#33373c;"></div>
<div class="a" style="left:716.8px;top:221px;width:2.6px;height:2.6px;background:#e4e4e4;"></div>
<div class="a" style="left:731px;top:221.6px;width:5px;height:1.3px;background:#c9cbce;opacity:0.8"></div>
<div class="a" style="left:750.5px;top:220.8px;width:3px;height:3px;background:#e8d45a;border-radius:50%"></div>
<div class="a" style="left:764px;top:221.6px;width:25px;height:1.2px;background:#b5b8bb;opacity:0.8"></div>
<div class="a" style="left:798px;top:221.6px;width:25px;height:1.2px;background:#b5b8bb;opacity:0.8"></div>
<div class="a" style="left:832px;top:221.6px;width:25px;height:1.2px;background:#b5b8bb;opacity:0.8"></div>
<div class="a" style="left:869px;top:221.6px;width:10px;height:1.2px;background:#b5b8bb;opacity:0.8"></div>
<div class="a" style="left:888px;top:221.6px;width:6px;height:1.2px;background:#b5b8bb;opacity:0.8"></div>
<div class="a" style="left:901px;top:221.6px;width:18px;height:1.2px;background:#b5b8bb;opacity:0.8"></div>
<div class="a" style="left:927px;top:221.6px;width:14px;height:1.2px;background:#b5b8bb;opacity:0.8"></div>
<div class="a" style="left:951px;top:221.6px;width:20px;height:1.2px;background:#b5b8bb;opacity:0.8"></div>
<div class="a" style="left:994px;top:221.6px;width:26px;height:1.2px;background:#b5b8bb;opacity:0.8"></div>
<div class="a" style="left:716px;top:225.5px;width:357px;height:6.6px;background:#30343a;"></div>
<div class="a" style="left:716.8px;top:227.6px;width:2.6px;height:2.6px;background:#e4e4e4;"></div>
<div class="a" style="left:731px;top:228.2px;width:5px;height:1.3px;background:#c9cbce;opacity:0.8"></div>
<div class="a" style="left:750.5px;top:227.4px;width:3px;height:3px;background:#5a8ef0;border-radius:50%"></div>
<div class="a" style="left:764px;top:228.2px;width:25px;height:1.2px;background:#b5b8bb;opacity:0.8"></div>
<div class="a" style="left:798px;top:228.2px;width:25px;height:1.2px;background:#b5b8bb;opacity:0.8"></div>
<div class="a" style="left:832px;top:228.2px;width:25px;height:1.2px;background:#b5b8bb;opacity:0.8"></div>
<div class="a" style="left:869px;top:228.2px;width:10px;height:1.2px;background:#b5b8bb;opacity:0.8"></div>
<div class="a" style="left:888px;top:228.2px;width:6px;height:1.2px;background:#b5b8bb;opacity:0.8"></div>
<div class="a" style="left:901px;top:228.2px;width:18px;height:1.2px;background:#b5b8bb;opacity:0.8"></div>
<div class="a" style="left:927px;top:228.2px;width:14px;height:1.2px;background:#b5b8bb;opacity:0.8"></div>
<div class="a" style="left:951px;top:228.2px;width:20px;height:1.2px;background:#b5b8bb;opacity:0.8"></div>
<div class="a" style="left:994px;top:228.2px;width:16px;height:1.2px;background:#b5b8bb;opacity:0.8"></div>
<div class="a" style="left:716px;top:232.1px;width:357px;height:6.6px;background:#33373c;"></div>
<div class="a" style="left:716.8px;top:234.2px;width:2.6px;height:2.6px;background:#e4e4e4;"></div>
<div class="a" style="left:731px;top:234.8px;width:5px;height:1.3px;background:#c9cbce;opacity:0.8"></div>
<div class="a" style="left:750.5px;top:234px;width:3px;height:3px;background:#5aa8f0;border-radius:50%"></div>
<div class="a" style="left:764px;top:234.8px;width:25px;height:1.2px;background:#b5b8bb;opacity:0.8"></div>
<div class="a" style="left:798px;top:234.8px;width:25px;height:1.2px;background:#b5b8bb;opacity:0.8"></div>
<div class="a" style="left:832px;top:234.8px;width:25px;height:1.2px;background:#b5b8bb;opacity:0.8"></div>
<div class="a" style="left:869px;top:234.8px;width:10px;height:1.2px;background:#b5b8bb;opacity:0.8"></div>
<div class="a" style="left:888px;top:234.8px;width:6px;height:1.2px;background:#b5b8bb;opacity:0.8"></div>
<div class="a" style="left:901px;top:234.8px;width:18px;height:1.2px;background:#b5b8bb;opacity:0.8"></div>
<div class="a" style="left:927px;top:234.8px;width:14px;height:1.2px;background:#b5b8bb;opacity:0.8"></div>
<div class="a" style="left:951px;top:234.8px;width:20px;height:1.2px;background:#b5b8bb;opacity:0.8"></div>
<div class="a" style="left:994px;top:234.8px;width:16px;height:1.2px;background:#b5b8bb;opacity:0.8"></div>
<div class="a" style="left:716px;top:238.7px;width:357px;height:6.6px;background:#30343a;"></div>
<div class="a" style="left:716.8px;top:240.8px;width:2.6px;height:2.6px;background:#e4e4e4;"></div>
<div class="a" style="left:731px;top:241.4px;width:5px;height:1.3px;background:#c9cbce;opacity:0.8"></div>
<div class="a" style="left:750.5px;top:240.6px;width:3px;height:3px;background:#b84ad8;border-radius:50%"></div>
<div class="a" style="left:764px;top:241.4px;width:25px;height:1.2px;background:#b5b8bb;opacity:0.8"></div>
<div class="a" style="left:798px;top:241.4px;width:25px;height:1.2px;background:#b5b8bb;opacity:0.8"></div>
<div class="a" style="left:832px;top:241.4px;width:25px;height:1.2px;background:#b5b8bb;opacity:0.8"></div>
<div class="a" style="left:869px;top:241.4px;width:10px;height:1.2px;background:#b5b8bb;opacity:0.8"></div>
<div class="a" style="left:888px;top:241.4px;width:6px;height:1.2px;background:#b5b8bb;opacity:0.8"></div>
<div class="a" style="left:901px;top:241.4px;width:18px;height:1.2px;background:#b5b8bb;opacity:0.8"></div>
<div class="a" style="left:927px;top:241.4px;width:14px;height:1.2px;background:#b5b8bb;opacity:0.8"></div>
<div class="a" style="left:951px;top:241.4px;width:20px;height:1.2px;background:#b5b8bb;opacity:0.8"></div>
<div class="a" style="left:994px;top:241.4px;width:22px;height:1.2px;background:#b5b8bb;opacity:0.8"></div>
<div class="a" style="left:716px;top:245.3px;width:357px;height:6.6px;background:#33373c;"></div>
<div class="a" style="left:716.8px;top:247.4px;width:2.6px;height:2.6px;background:#e4e4e4;"></div>
<div class="a" style="left:731px;top:248px;width:5px;height:1.3px;background:#c9cbce;opacity:0.8"></div>
<div class="a" style="left:750.5px;top:247.2px;width:3px;height:3px;background:#b84ad8;border-radius:50%"></div>
<div class="a" style="left:764px;top:248px;width:25px;height:1.2px;background:#b5b8bb;opacity:0.8"></div>
<div class="a" style="left:798px;top:248px;width:25px;height:1.2px;background:#b5b8bb;opacity:0.8"></div>
<div class="a" style="left:832px;top:248px;width:25px;height:1.2px;background:#b5b8bb;opacity:0.8"></div>
<div class="a" style="left:869px;top:248px;width:10px;height:1.2px;background:#b5b8bb;opacity:0.8"></div>
<div class="a" style="left:888px;top:248px;width:6px;height:1.2px;background:#b5b8bb;opacity:0.8"></div>
<div class="a" style="left:901px;top:248px;width:18px;height:1.2px;background:#b5b8bb;opacity:0.8"></div>
<div class="a" style="left:927px;top:248px;width:14px;height:1.2px;background:#b5b8bb;opacity:0.8"></div>
<div class="a" style="left:951px;top:248px;width:20px;height:1.2px;background:#b5b8bb;opacity:0.8"></div>
<div class="a" style="left:994px;top:248px;width:22px;height:1.2px;background:#b5b8bb;opacity:0.8"></div>
<div class="a" style="left:716px;top:251.9px;width:357px;height:6.6px;background:#30343a;"></div>
<div class="a" style="left:716.8px;top:254px;width:2.6px;height:2.6px;background:#e4e4e4;"></div>
<div class="a" style="left:731px;top:254.6px;width:5px;height:1.3px;background:#c9cbce;opacity:0.8"></div>
<div class="a" style="left:750.5px;top:253.8px;width:3px;height:3px;background:#b84ad8;border-radius:50%"></div>
<div class="a" style="left:764px;top:254.6px;width:25px;height:1.2px;background:#b5b8bb;opacity:0.8"></div>
<div class="a" style="left:798px;top:254.6px;width:25px;height:1.2px;background:#b5b8bb;opacity:0.8"></div>
<div class="a" style="left:832px;top:254.6px;width:25px;height:1.2px;background:#b5b8bb;opacity:0.8"></div>
<div class="a" style="left:869px;top:254.6px;width:10px;height:1.2px;background:#b5b8bb;opacity:0.8"></div>
<div class="a" style="left:888px;top:254.6px;width:6px;height:1.2px;background:#b5b8bb;opacity:0.8"></div>
<div class="a" style="left:901px;top:254.6px;width:18px;height:1.2px;background:#b5b8bb;opacity:0.8"></div>
<div class="a" style="left:927px;top:254.6px;width:14px;height:1.2px;background:#b5b8bb;opacity:0.8"></div>
<div class="a" style="left:951px;top:254.6px;width:20px;height:1.2px;background:#b5b8bb;opacity:0.8"></div>
<div class="a" style="left:994px;top:254.6px;width:22px;height:1.2px;background:#b5b8bb;opacity:0.8"></div>
<div class="a" style="left:716px;top:258.5px;width:357px;height:6.6px;background:#33373c;"></div>
<div class="a" style="left:716.8px;top:260.6px;width:2.6px;height:2.6px;background:#e4e4e4;"></div>
<div class="a" style="left:731px;top:261.2px;width:5px;height:1.3px;background:#c9cbce;opacity:0.8"></div>
<div class="a" style="left:750.5px;top:260.4px;width:3px;height:3px;background:#b84ad8;border-radius:50%"></div>
<div class="a" style="left:764px;top:261.2px;width:25px;height:1.2px;background:#b5b8bb;opacity:0.8"></div>
<div class="a" style="left:798px;top:261.2px;width:25px;height:1.2px;background:#b5b8bb;opacity:0.8"></div>
<div class="a" style="left:832px;top:261.2px;width:25px;height:1.2px;background:#b5b8bb;opacity:0.8"></div>
<div class="a" style="left:869px;top:261.2px;width:10px;height:1.2px;background:#b5b8bb;opacity:0.8"></div>
<div class="a" style="left:888px;top:261.2px;width:6px;height:1.2px;background:#b5b8bb;opacity:0.8"></div>
<div class="a" style="left:901px;top:261.2px;width:18px;height:1.2px;background:#b5b8bb;opacity:0.8"></div>
<div class="a" style="left:927px;top:261.2px;width:14px;height:1.2px;background:#b5b8bb;opacity:0.8"></div>
<div class="a" style="left:951px;top:261.2px;width:20px;height:1.2px;background:#b5b8bb;opacity:0.8"></div>
<div class="a" style="left:994px;top:261.2px;width:22px;height:1.2px;background:#b5b8bb;opacity:0.8"></div>
<div class="a" style="left:716px;top:265.1px;width:357px;height:6.6px;background:#30343a;"></div>
<div class="a" style="left:716.8px;top:267.2px;width:2.6px;height:2.6px;background:#e4e4e4;"></div>
<div class="a" style="left:731px;top:267.8px;width:5px;height:1.3px;background:#c9cbce;opacity:0.8"></div>
<div class="a" style="left:750.5px;top:267px;width:3px;height:3px;background:#b84ad8;border-radius:50%"></div>
<div class="a" style="left:764px;top:267.8px;width:25px;height:1.2px;background:#b5b8bb;opacity:0.8"></div>
<div class="a" style="left:798px;top:267.8px;width:25px;height:1.2px;background:#b5b8bb;opacity:0.8"></div>
<div class="a" style="left:832px;top:267.8px;width:25px;height:1.2px;background:#b5b8bb;opacity:0.8"></div>
<div class="a" style="left:869px;top:267.8px;width:10px;height:1.2px;background:#b5b8bb;opacity:0.8"></div>
<div class="a" style="left:888px;top:267.8px;width:6px;height:1.2px;background:#b5b8bb;opacity:0.8"></div>
<div class="a" style="left:901px;top:267.8px;width:18px;height:1.2px;background:#b5b8bb;opacity:0.8"></div>
<div class="a" style="left:927px;top:267.8px;width:14px;height:1.2px;background:#b5b8bb;opacity:0.8"></div>
<div class="a" style="left:951px;top:267.8px;width:20px;height:1.2px;background:#b5b8bb;opacity:0.8"></div>
<div class="a" style="left:994px;top:267.8px;width:22px;height:1.2px;background:#b5b8bb;opacity:0.8"></div>
<div class="a" style="left:716px;top:271.7px;width:357px;height:6.6px;background:#33373c;"></div>
<div class="a" style="left:716.8px;top:273.8px;width:2.6px;height:2.6px;background:#e4e4e4;"></div>
<div class="a" style="left:731px;top:274.4px;width:5px;height:1.3px;background:#c9cbce;opacity:0.8"></div>
<div class="a" style="left:750.5px;top:273.6px;width:3px;height:3px;background:#b84ad8;border-radius:50%"></div>
<div class="a" style="left:764px;top:274.4px;width:25px;height:1.2px;background:#b5b8bb;opacity:0.8"></div>
<div class="a" style="left:798px;top:274.4px;width:25px;height:1.2px;background:#b5b8bb;opacity:0.8"></div>
<div class="a" style="left:832px;top:274.4px;width:25px;height:1.2px;background:#b5b8bb;opacity:0.8"></div>
<div class="a" style="left:869px;top:274.4px;width:10px;height:1.2px;background:#b5b8bb;opacity:0.8"></div>
<div class="a" style="left:888px;top:274.4px;width:6px;height:1.2px;background:#b5b8bb;opacity:0.8"></div>
<div class="a" style="left:901px;top:274.4px;width:18px;height:1.2px;background:#b5b8bb;opacity:0.8"></div>
<div class="a" style="left:927px;top:274.4px;width:14px;height:1.2px;background:#b5b8bb;opacity:0.8"></div>
<div class="a" style="left:951px;top:274.4px;width:20px;height:1.2px;background:#b5b8bb;opacity:0.8"></div>
<div class="a" style="left:994px;top:274.4px;width:22px;height:1.2px;background:#b5b8bb;opacity:0.8"></div>
<div class="a" style="left:716px;top:278.3px;width:357px;height:6.6px;background:#30343a;"></div>
<div class="a" style="left:716.8px;top:280.4px;width:2.6px;height:2.6px;background:#e4e4e4;"></div>
<div class="a" style="left:731px;top:281px;width:5px;height:1.3px;background:#c9cbce;opacity:0.8"></div>
<div class="a" style="left:750.5px;top:280.2px;width:3px;height:3px;background:#b84ad8;border-radius:50%"></div>
<div class="a" style="left:764px;top:281px;width:25px;height:1.2px;background:#b5b8bb;opacity:0.8"></div>
<div class="a" style="left:798px;top:281px;width:25px;height:1.2px;background:#b5b8bb;opacity:0.8"></div>
<div class="a" style="left:832px;top:281px;width:25px;height:1.2px;background:#b5b8bb;opacity:0.8"></div>
<div class="a" style="left:869px;top:281px;width:10px;height:1.2px;background:#b5b8bb;opacity:0.8"></div>
<div class="a" style="left:888px;top:281px;width:6px;height:1.2px;background:#b5b8bb;opacity:0.8"></div>
<div class="a" style="left:901px;top:281px;width:18px;height:1.2px;background:#b5b8bb;opacity:0.8"></div>
<div class="a" style="left:927px;top:281px;width:14px;height:1.2px;background:#b5b8bb;opacity:0.8"></div>
<div class="a" style="left:951px;top:281px;width:20px;height:1.2px;background:#b5b8bb;opacity:0.8"></div>
<div class="a" style="left:994px;top:281px;width:22px;height:1.2px;background:#b5b8bb;opacity:0.8"></div>
<div class="a" style="left:716px;top:284.9px;width:357px;height:6.6px;background:#33373c;"></div>
<div class="a" style="left:716.8px;top:287px;width:2.6px;height:2.6px;background:#e4e4e4;"></div>
<div class="a" style="left:731px;top:287.6px;width:5px;height:1.3px;background:#c9cbce;opacity:0.8"></div>
<div class="a" style="left:750.5px;top:286.8px;width:3px;height:3px;background:#b84ad8;border-radius:50%"></div>
<div class="a" style="left:764px;top:287.6px;width:25px;height:1.2px;background:#b5b8bb;opacity:0.8"></div>
<div class="a" style="left:798px;top:287.6px;width:25px;height:1.2px;background:#b5b8bb;opacity:0.8"></div>
<div class="a" style="left:832px;top:287.6px;width:25px;height:1.2px;background:#b5b8bb;opacity:0.8"></div>
<div class="a" style="left:869px;top:287.6px;width:10px;height:1.2px;background:#b5b8bb;opacity:0.8"></div>
<div class="a" style="left:888px;top:287.6px;width:6px;height:1.2px;background:#b5b8bb;opacity:0.8"></div>
<div class="a" style="left:901px;top:287.6px;width:18px;height:1.2px;background:#b5b8bb;opacity:0.8"></div>
<div class="a" style="left:927px;top:287.6px;width:14px;height:1.2px;background:#b5b8bb;opacity:0.8"></div>
<div class="a" style="left:951px;top:287.6px;width:20px;height:1.2px;background:#b5b8bb;opacity:0.8"></div>
<div class="a" style="left:994px;top:287.6px;width:22px;height:1.2px;background:#b5b8bb;opacity:0.8"></div>
<div class="a" style="left:716px;top:291.5px;width:357px;height:6.6px;background:#30343a;"></div>
<div class="a" style="left:716.8px;top:293.6px;width:2.6px;height:2.6px;background:#e4e4e4;"></div>
<div class="a" style="left:731px;top:294.2px;width:5px;height:1.3px;background:#c9cbce;opacity:0.8"></div>
<div class="a" style="left:750.5px;top:293.4px;width:3px;height:3px;background:#b84ad8;border-radius:50%"></div>
<div class="a" style="left:764px;top:294.2px;width:25px;height:1.2px;background:#b5b8bb;opacity:0.8"></div>
<div class="a" style="left:798px;top:294.2px;width:25px;height:1.2px;background:#b5b8bb;opacity:0.8"></div>
<div class="a" style="left:832px;top:294.2px;width:25px;height:1.2px;background:#b5b8bb;opacity:0.8"></div>
<div class="a" style="left:869px;top:294.2px;width:10px;height:1.2px;background:#b5b8bb;opacity:0.8"></div>
<div class="a" style="left:888px;top:294.2px;width:6px;height:1.2px;background:#b5b8bb;opacity:0.8"></div>
<div class="a" style="left:901px;top:294.2px;width:18px;height:1.2px;background:#b5b8bb;opacity:0.8"></div>
<div class="a" style="left:927px;top:294.2px;width:14px;height:1.2px;background:#b5b8bb;opacity:0.8"></div>
<div class="a" style="left:951px;top:294.2px;width:20px;height:1.2px;background:#b5b8bb;opacity:0.8"></div>
<div class="a" style="left:994px;top:294.2px;width:22px;height:1.2px;background:#b5b8bb;opacity:0.8"></div>
<div class="a" style="left:716px;top:298.1px;width:357px;height:6.6px;background:#33373c;"></div>
<div class="a" style="left:716.8px;top:300.2px;width:2.6px;height:2.6px;background:#e4e4e4;"></div>
<div class="a" style="left:731px;top:300.8px;width:5px;height:1.3px;background:#c9cbce;opacity:0.8"></div>
<div class="a" style="left:750.5px;top:300px;width:3px;height:3px;background:#b84ad8;border-radius:50%"></div>
<div class="a" style="left:764px;top:300.8px;width:25px;height:1.2px;background:#b5b8bb;opacity:0.8"></div>
<div class="a" style="left:798px;top:300.8px;width:25px;height:1.2px;background:#b5b8bb;opacity:0.8"></div>
<div class="a" style="left:832px;top:300.8px;width:25px;height:1.2px;background:#b5b8bb;opacity:0.8"></div>
<div class="a" style="left:869px;top:300.8px;width:10px;height:1.2px;background:#b5b8bb;opacity:0.8"></div>
<div class="a" style="left:888px;top:300.8px;width:6px;height:1.2px;background:#b5b8bb;opacity:0.8"></div>
<div class="a" style="left:901px;top:300.8px;width:18px;height:1.2px;background:#b5b8bb;opacity:0.8"></div>
<div class="a" style="left:927px;top:300.8px;width:14px;height:1.2px;background:#b5b8bb;opacity:0.8"></div>
<div class="a" style="left:951px;top:300.8px;width:20px;height:1.2px;background:#b5b8bb;opacity:0.8"></div>
<div class="a" style="left:994px;top:300.8px;width:22px;height:1.2px;background:#b5b8bb;opacity:0.8"></div>
<div class="a" style="left:716px;top:304.7px;width:357px;height:6.6px;background:#30343a;"></div>
<div class="a" style="left:716.8px;top:306.8px;width:2.6px;height:2.6px;background:#e4e4e4;"></div>
<div class="a" style="left:731px;top:307.4px;width:5px;height:1.3px;background:#c9cbce;opacity:0.8"></div>
<div class="a" style="left:750.5px;top:306.6px;width:3px;height:3px;background:#b84ad8;border-radius:50%"></div>
<div class="a" style="left:764px;top:307.4px;width:25px;height:1.2px;background:#b5b8bb;opacity:0.8"></div>
<div class="a" style="left:798px;top:307.4px;width:25px;height:1.2px;background:#b5b8bb;opacity:0.8"></div>
<div class="a" style="left:832px;top:307.4px;width:25px;height:1.2px;background:#b5b8bb;opacity:0.8"></div>
<div class="a" style="left:869px;top:307.4px;width:10px;height:1.2px;background:#b5b8bb;opacity:0.8"></div>
<div class="a" style="left:888px;top:307.4px;width:6px;height:1.2px;background:#b5b8bb;opacity:0.8"></div>
<div class="a" style="left:901px;top:307.4px;width:18px;height:1.2px;background:#b5b8bb;opacity:0.8"></div>
<div class="a" style="left:927px;top:307.4px;width:14px;height:1.2px;background:#b5b8bb;opacity:0.8"></div>
<div class="a" style="left:951px;top:307.4px;width:20px;height:1.2px;background:#b5b8bb;opacity:0.8"></div>
<div class="a" style="left:994px;top:307.4px;width:22px;height:1.2px;background:#b5b8bb;opacity:0.8"></div>
<div class="a" style="left:716px;top:311.3px;width:357px;height:6.6px;background:#33373c;"></div>
<div class="a" style="left:716.8px;top:313.4px;width:2.6px;height:2.6px;background:#e4e4e4;"></div>
<div class="a" style="left:731px;top:314px;width:5px;height:1.3px;background:#c9cbce;opacity:0.8"></div>
<div class="a" style="left:750.5px;top:313.2px;width:3px;height:3px;background:#b84ad8;border-radius:50%"></div>
<div class="a" style="left:764px;top:314px;width:25px;height:1.2px;background:#b5b8bb;opacity:0.8"></div>
<div class="a" style="left:798px;top:314px;width:25px;height:1.2px;background:#b5b8bb;opacity:0.8"></div>
<div class="a" style="left:832px;top:314px;width:25px;height:1.2px;background:#b5b8bb;opacity:0.8"></div>
<div class="a" style="left:869px;top:314px;width:10px;height:1.2px;background:#b5b8bb;opacity:0.8"></div>
<div class="a" style="left:888px;top:314px;width:6px;height:1.2px;background:#b5b8bb;opacity:0.8"></div>
<div class="a" style="left:901px;top:314px;width:18px;height:1.2px;background:#b5b8bb;opacity:0.8"></div>
<div class="a" style="left:927px;top:314px;width:14px;height:1.2px;background:#b5b8bb;opacity:0.8"></div>
<div class="a" style="left:951px;top:314px;width:20px;height:1.2px;background:#b5b8bb;opacity:0.8"></div>
<div class="a" style="left:994px;top:314px;width:22px;height:1.2px;background:#b5b8bb;opacity:0.8"></div>
<div class="a" style="left:716px;top:317.9px;width:357px;height:6.6px;background:#30343a;"></div>
<div class="a" style="left:716.8px;top:320px;width:2.6px;height:2.6px;background:#e4e4e4;"></div>
<div class="a" style="left:731px;top:320.6px;width:5px;height:1.3px;background:#c9cbce;opacity:0.8"></div>
<div class="a" style="left:750.5px;top:319.8px;width:3px;height:3px;background:#b84ad8;border-radius:50%"></div>
<div class="a" style="left:764px;top:320.6px;width:25px;height:1.2px;background:#b5b8bb;opacity:0.8"></div>
<div class="a" style="left:798px;top:320.6px;width:25px;height:1.2px;background:#b5b8bb;opacity:0.8"></div>
<div class="a" style="left:832px;top:320.6px;width:25px;height:1.2px;background:#b5b8bb;opacity:0.8"></div>
<div class="a" style="left:869px;top:320.6px;width:10px;height:1.2px;background:#b5b8bb;opacity:0.8"></div>
<div class="a" style="left:888px;top:320.6px;width:6px;height:1.2px;background:#b5b8bb;opacity:0.8"></div>
<div class="a" style="left:901px;top:320.6px;width:18px;height:1.2px;background:#b5b8bb;opacity:0.8"></div>
<div class="a" style="left:927px;top:320.6px;width:14px;height:1.2px;background:#b5b8bb;opacity:0.8"></div>
<div class="a" style="left:951px;top:320.6px;width:20px;height:1.2px;background:#b5b8bb;opacity:0.8"></div>
<div class="a" style="left:994px;top:320.6px;width:22px;height:1.2px;background:#b5b8bb;opacity:0.8"></div>
<div class="a" style="left:716px;top:324.5px;width:357px;height:6.6px;background:#33373c;"></div>
<div class="a" style="left:716.8px;top:326.6px;width:2.6px;height:2.6px;background:#e4e4e4;"></div>
<div class="a" style="left:731px;top:327.2px;width:5px;height:1.3px;background:#c9cbce;opacity:0.8"></div>
<div class="a" style="left:750.5px;top:326.4px;width:3px;height:3px;background:#b84ad8;border-radius:50%"></div>
<div class="a" style="left:764px;top:327.2px;width:25px;height:1.2px;background:#b5b8bb;opacity:0.8"></div>
<div class="a" style="left:798px;top:327.2px;width:25px;height:1.2px;background:#b5b8bb;opacity:0.8"></div>
<div class="a" style="left:832px;top:327.2px;width:25px;height:1.2px;background:#b5b8bb;opacity:0.8"></div>
<div class="a" style="left:869px;top:327.2px;width:10px;height:1.2px;background:#b5b8bb;opacity:0.8"></div>
<div class="a" style="left:888px;top:327.2px;width:6px;height:1.2px;background:#b5b8bb;opacity:0.8"></div>
<div class="a" style="left:901px;top:327.2px;width:18px;height:1.2px;background:#b5b8bb;opacity:0.8"></div>
<div class="a" style="left:927px;top:327.2px;width:14px;height:1.2px;background:#b5b8bb;opacity:0.8"></div>
<div class="a" style="left:951px;top:327.2px;width:20px;height:1.2px;background:#b5b8bb;opacity:0.8"></div>
<div class="a" style="left:994px;top:327.2px;width:22px;height:1.2px;background:#b5b8bb;opacity:0.8"></div>
<div class="a" style="left:716px;top:331.1px;width:357px;height:6.6px;background:#30343a;"></div>
<div class="a" style="left:716.8px;top:333.2px;width:2.6px;height:2.6px;background:#e4e4e4;"></div>
<div class="a" style="left:731px;top:333.8px;width:5px;height:1.3px;background:#c9cbce;opacity:0.8"></div>
<div class="a" style="left:750.5px;top:333px;width:3px;height:3px;background:#b84ad8;border-radius:50%"></div>
<div class="a" style="left:764px;top:333.8px;width:25px;height:1.2px;background:#b5b8bb;opacity:0.8"></div>
<div class="a" style="left:798px;top:333.8px;width:25px;height:1.2px;background:#b5b8bb;opacity:0.8"></div>
<div class="a" style="left:832px;top:333.8px;width:25px;height:1.2px;background:#b5b8bb;opacity:0.8"></div>
<div class="a" style="left:869px;top:333.8px;width:10px;height:1.2px;background:#b5b8bb;opacity:0.8"></div>
<div class="a" style="left:888px;top:333.8px;width:6px;height:1.2px;background:#b5b8bb;opacity:0.8"></div>
<div class="a" style="left:901px;top:333.8px;width:18px;height:1.2px;background:#b5b8bb;opacity:0.8"></div>
<div class="a" style="left:927px;top:333.8px;width:14px;height:1.2px;background:#b5b8bb;opacity:0.8"></div>
<div class="a" style="left:951px;top:333.8px;width:20px;height:1.2px;background:#b5b8bb;opacity:0.8"></div>
<div class="a" style="left:994px;top:333.8px;width:22px;height:1.2px;background:#b5b8bb;opacity:0.8"></div>
<div class="a" style="left:716px;top:338.5px;width:357px;height:6.5px;background:#3a3e43;"></div>
<div class="a" style="left:718px;top:340.8px;width:1.8px;height:1.8px;background:#888;"></div>
<div class="a" style="left:720.5px;top:341px;width:6px;height:1.2px;background:#999;opacity:0.8"></div>
<div class="a" style="left:728.5px;top:340.8px;width:1.8px;height:1.8px;background:#2fb47c;"></div>
<div class="a" style="left:731px;top:341px;width:6px;height:1.2px;background:#999;opacity:0.8"></div>
<div class="a" style="left:739px;top:340.8px;width:1.8px;height:1.8px;background:#4a90d9;"></div>
<div class="a" style="left:741.5px;top:341px;width:6px;height:1.2px;background:#999;opacity:0.8"></div>
<div class="a" style="left:749.5px;top:340.8px;width:1.8px;height:1.8px;background:#e2c13a;"></div>
<div class="a" style="left:752px;top:341px;width:6px;height:1.2px;background:#999;opacity:0.8"></div>
<div class="a" style="left:760px;top:340.8px;width:1.8px;height:1.8px;background:#d9a03a;"></div>
<div class="a" style="left:762.5px;top:341px;width:6px;height:1.2px;background:#999;opacity:0.8"></div>
<div class="a" style="left:770.5px;top:340.8px;width:1.8px;height:1.8px;background:#a64fd0;"></div>
<div class="a" style="left:773px;top:341px;width:6px;height:1.2px;background:#999;opacity:0.8"></div>
<div class="a" style="left:781px;top:340.8px;width:1.8px;height:1.8px;background:#d94a4a;"></div>
<div class="a" style="left:783.5px;top:341px;width:6px;height:1.2px;background:#999;opacity:0.8"></div>
<div class="a" style="left:1069px;top:193px;width:2.5px;height:24px;background:#8a8d90;"></div>
<div class="a" style="left:973.5px;top:203.5px;width:303px;height:194px;background:#d8d9da;"></div>
<div class="a" style="left:975.2px;top:205.3px;width:299.6px;height:190.5px;background:#343940;"></div>
<div class="a" style="left:975.2px;top:205.3px;width:299.6px;height:7.6px;background:#000;"></div>
<div class="a" style="left:978px;top:207.9px;width:16px;height:1.5px;background:#cfcfcf;opacity:0.8"></div>
<div class="a" style="left:975.2px;top:212.9px;width:34px;height:8.1px;background:#33373c;"></div>
<div class="a" style="left:1009.2px;top:212.9px;width:265.6px;height:8.1px;background:#3a3e44;"></div>
<div class="a" style="left:975.2px;top:220.4px;width:299.6px;height:0.6px;background:#2a2d31;"></div>
<div class="a" style="left:975.2px;top:221px;width:34px;height:20.6px;background:#33373c;"></div>
<div class="a" style="left:1009.2px;top:221px;width:265.6px;height:20.6px;background:#3a3e44;"></div>
<div class="a" style="left:975.2px;top:241px;width:299.6px;height:0.6px;background:#2a2d31;"></div>
<div class="a" style="left:975.2px;top:241.6px;width:34px;height:7.1px;background:#33373c;"></div>
<div class="a" style="left:1009.2px;top:241.6px;width:265.6px;height:7.1px;background:#3a3e44;"></div>
<div class="a" style="left:975.2px;top:248.1px;width:299.6px;height:0.6px;background:#2a2d31;"></div>
<div class="a" style="left:975.2px;top:248.7px;width:34px;height:7.5px;background:#33373c;"></div>
<div class="a" style="left:1009.2px;top:248.7px;width:265.6px;height:7.5px;background:#3a3e44;"></div>
<div class="a" style="left:975.2px;top:255.6px;width:299.6px;height:0.6px;background:#2a2d31;"></div>
<div class="a" style="left:977px;top:216.2px;width:9px;height:1.4px;background:#d0d2d4;opacity:0.8"></div>
<div class="a" style="left:977px;top:230.5px;width:5px;height:1.4px;background:#d0d2d4;opacity:0.8"></div>
<div class="a" style="left:977px;top:244.5px;width:19px;height:1.4px;background:#d0d2d4;opacity:0.8"></div>
<div class="a" style="left:977px;top:252px;width:11px;height:1.4px;background:#d0d2d4;opacity:0.8"></div>
<div class="a" style="left:1011px;top:214px;width:43px;height:6px;background:#40444a;"></div>
<div class="a" style="left:1013px;top:216.3px;width:4px;height:1.2px;background:#bbb;opacity:0.8"></div>
<div class="a" style="left:1053px;top:216.5px;width:2.5px;height:0.8px;background:#ddd;"></div>
<div class="a" style="left:1059px;top:214px;width:47px;height:6px;background:#40444a;"></div>
<div class="a" style="left:1060px;top:216.3px;width:5px;height:1.2px;background:#bbb;opacity:0.8"></div>
<div class="a" style="left:1100px;top:216.5px;width:2.5px;height:0.8px;background:#ddd;"></div>
<div class="a" style="left:1107px;top:214px;width:18px;height:6px;background:#40444a;"></div>
<div class="a" style="left:1108px;top:216.3px;width:8px;height:1.2px;background:#888;opacity:0.8"></div>
<div class="a" style="left:1163px;top:216.2px;width:68px;height:1.2px;background:#8d9094;opacity:0.8"></div>
<div class="a" style="left:1011px;top:222px;width:150px;height:18.5px;background:#3f4349;"></div>
<div class="a" style="left:1012px;top:223.3px;width:48px;height:1.2px;background:#c3c5c8;opacity:0.8"></div>
<div class="a" style="left:1012px;top:227px;width:49px;height:1.2px;background:#c3c5c8;opacity:0.8"></div>
<div class="a" style="left:1012px;top:230.7px;width:60px;height:1.2px;background:#c3c5c8;opacity:0.8"></div>
<div class="a" style="left:1012px;top:234.4px;width:65px;height:1.2px;background:#c3c5c8;opacity:0.8"></div>
<div class="a" style="left:1012px;top:238.1px;width:38px;height:1.2px;background:#c3c5c8;opacity:0.8"></div>
<div class="a" style="left:1159px;top:222.5px;width:1.2px;height:14px;background:#777;"></div>
<div class="a" style="left:1163px;top:222.3px;width:9px;height:4.5px;background:#5a5e63;"></div>
<div class="a" style="left:1174px;top:222.3px;width:9px;height:4.5px;background:#5a5e63;"></div>
<div class="a" style="left:1012px;top:243px;width:7px;height:4px;background:#40444a;"></div>
<div class="a" style="left:1029px;top:243px;width:7px;height:4px;background:#40444a;"></div>
<div class="a" style="left:1045px;top:243px;width:7px;height:4px;background:#40444a;"></div>
<div class="a" style="left:1063px;top:243px;width:7px;height:4px;background:#40444a;"></div>
<div class="a" style="left:1078px;top:243px;width:2px;height:3.5px;background:#2a7fe0;"></div>
<div class="a" style="left:1082px;top:244.5px;width:4px;height:1.2px;background:#ccc;opacity:0.8"></div>
<div class="a" style="left:1088px;top:242.9px;width:8px;height:4.3px;background:#e23c3c;"></div>
<div class="a" style="left:1096.5px;top:242.9px;width:8px;height:4.3px;background:#7b7f83;"></div>
<div class="a" style="left:1105px;top:242.9px;width:8px;height:4.3px;background:#7b7f83;"></div>
<div class="a" style="left:1113.5px;top:242.9px;width:8px;height:4.3px;background:#7b7f83;"></div>
<div class="a" style="left:1122px;top:242.9px;width:8px;height:4.3px;background:#7b7f83;"></div>
<div class="a" style="left:1130.5px;top:242.9px;width:8px;height:4.3px;background:#7b7f83;"></div>
<div class="a" style="left:1139px;top:242.9px;width:8px;height:4.3px;background:#2f8ef0;"></div>
<div class="a" style="left:1013px;top:250.8px;width:2.8px;height:2.8px;background:#e8e8e8;"></div>
<div class="a" style="left:1016.5px;top:251.6px;width:5px;height:1.2px;background:#bbb;opacity:0.8"></div>
<div class="a" style="left:1026px;top:250.8px;width:2.8px;height:2.8px;background:#e8e8e8;"></div>
<div class="a" style="left:1029.5px;top:251.6px;width:5px;height:1.2px;background:#bbb;opacity:0.8"></div>
<div class="a" style="left:1038px;top:250.8px;width:2.8px;height:2.8px;background:#e8e8e8;"></div>
<div class="a" style="left:1041.5px;top:251.6px;width:5px;height:1.2px;background:#bbb;opacity:0.8"></div>
<div class="a" style="left:1051px;top:250.8px;width:2.8px;height:2.8px;background:#e8e8e8;"></div>
<div class="a" style="left:1054.5px;top:251.6px;width:5px;height:1.2px;background:#bbb;opacity:0.8"></div>
<div class="a" style="left:1110px;top:251.6px;width:10px;height:1.2px;background:#bbb;opacity:0.8"></div>
<div class="a" style="left:1143px;top:250.8px;width:2.8px;height:2.8px;background:#e8e8e8;"></div>
<div class="a" style="left:1147px;top:251.6px;width:14px;height:1.2px;background:#bbb;opacity:0.8"></div>
<div class="a" style="left:1173px;top:250.8px;width:2.8px;height:2.8px;background:#e8e8e8;"></div>
<div class="a" style="left:1177px;top:251.6px;width:30px;height:1.2px;background:#bbb;opacity:0.8"></div>
<div class="a" style="left:975.2px;top:256.2px;width:299.6px;height:8.5px;background:#1b1f22;"></div>
<div class="a" style="left:1243px;top:258.5px;width:14px;height:5px;background:#4d5156;"></div>
<div class="a" style="left:1259px;top:258.5px;width:14px;height:5px;background:#4d5156;"></div>
<div class="a" style="left:975.2px;top:264.7px;width:299.6px;height:11.3px;background:#3e4349;"></div>
<div class="a" style="left:978px;top:270px;width:4px;height:1.2px;background:#ccc;opacity:0.8"></div>
<div class="a" style="left:1044px;top:267px;width:14px;height:1.2px;background:#ccc;opacity:0.8"></div>
<div class="a" style="left:1014px;top:271.5px;width:6px;height:1.2px;background:#ccc;opacity:0.8"></div>
<div class="a" style="left:1033.5px;top:271.5px;width:6px;height:1.2px;background:#ccc;opacity:0.8"></div>
<div class="a" style="left:1053px;top:271.5px;width:6px;height:1.2px;background:#ccc;opacity:0.8"></div>
<div class="a" style="left:1072.5px;top:271.5px;width:6px;height:1.2px;background:#ccc;opacity:0.8"></div>
<div class="a" style="left:1092px;top:271.5px;width:6px;height:1.2px;background:#ccc;opacity:0.8"></div>
<div class="a" style="left:1143px;top:270px;width:12px;height:1.2px;background:#ccc;opacity:0.8"></div>
<div class="a" style="left:1218px;top:267px;width:6px;height:1.2px;background:#ccc;opacity:0.8"></div>
<div class="a" style="left:1199px;top:272px;width:6px;height:1.2px;background:#ccc;opacity:0.8"></div>
<div class="a" style="left:1216px;top:272px;width:10px;height:1.2px;background:#ccc;opacity:0.8"></div>
<div class="a" style="left:1235px;top:272px;width:8px;height:1.2px;background:#ccc;opacity:0.8"></div>
<div class="a" style="left:1253px;top:270px;width:5px;height:1.2px;background:#ccc;opacity:0.8"></div>
<div class="a" style="left:1266px;top:268px;width:5px;height:1.2px;background:#ccc;opacity:0.8"></div>
<div class="a" style="left:975.2px;top:276px;width:34px;height:22.2px;background:#33373c;"></div>
<div class="a" style="left:975.2px;top:298px;width:299.6px;height:0.5px;background:#24272b;"></div>
<div class="a" style="left:977px;top:284px;width:22px;height:1.1px;background:#c0c2c5;opacity:0.8"></div>
<div class="a" style="left:977px;top:286.6px;width:18px;height:1.1px;background:#c0c2c5;opacity:0.8"></div>
<div class="a" style="left:977px;top:289.2px;width:14px;height:1.1px;background:#c0c2c5;opacity:0.8"></div>
<div class="a" style="left:1009.5px;top:276.6px;width:102px;height:6.6px;background:#3a3e44;"></div>
<div class="a" style="left:1011px;top:277.2px;width:16px;height:5.4px;background:#454a50;"></div>
<div class="a" style="left:1016px;top:279.3px;width:5px;height:1.1px;background:#888;opacity:0.8"></div>
<div class="a" style="left:1030.6px;top:277.2px;width:16px;height:5.4px;background:#454a50;"></div>
<div class="a" style="left:1035.6px;top:279.3px;width:5px;height:1.1px;background:#888;opacity:0.8"></div>
<div class="a" style="left:1050.2px;top:277.2px;width:16px;height:5.4px;background:#454a50;"></div>
<div class="a" style="left:1055.2px;top:279.3px;width:5px;height:1.1px;background:#888;opacity:0.8"></div>
<div class="a" style="left:1069.8px;top:277.2px;width:16px;height:5.4px;background:#454a50;"></div>
<div class="a" style="left:1074.8px;top:279.3px;width:5px;height:1.1px;background:#888;opacity:0.8"></div>
<div class="a" style="left:1089.4px;top:277.2px;width:16px;height:5.4px;background:#454a50;"></div>
<div class="a" style="left:1094.4px;top:279.3px;width:5px;height:1.1px;background:#888;opacity:0.8"></div>
<div class="a" style="left:1110px;top:277.2px;width:112px;height:5.4px;background:#40454b;"></div>
<div class="a" style="left:1112px;top:279.3px;width:18px;height:1.1px;background:#bbb;opacity:0.8"></div>
<div class="a" style="left:1195px;top:279.3px;width:5px;height:1.1px;background:#ccc;opacity:0.8"></div>
<div class="a" style="left:1212px;top:279.3px;width:5px;height:1.1px;background:#ccc;opacity:0.8"></div>
<div class="a" style="left:1229px;top:279.3px;width:5px;height:1.1px;background:#ccc;opacity:0.8"></div>
<div class="a" style="left:1009.5px;top:283.8px;width:215px;height:6.6px;background:#363b42;"></div>
<div class="a" style="left:1012px;top:286.2px;width:15px;height:1.2px;background:#ccc;opacity:0.8"></div>
<div class="a" style="left:1028px;top:284.6px;width:16px;height:5px;background:#3a3e44;"></div>
<div class="a" style="left:1029px;top:286.2px;width:9px;height:1.2px;background:#ccc;opacity:0.8"></div>
<div class="a" style="left:1048px;top:284.6px;width:12px;height:5px;background:#3a3e44;"></div>
<div class="a" style="left:1049px;top:286.2px;width:8px;height:1.2px;background:#ccc;opacity:0.8"></div>
<div class="a" style="left:1062px;top:284.6px;width:12px;height:5px;background:#3a3e44;"></div>
<div class="a" style="left:1063px;top:286.2px;width:8px;height:1.2px;background:#999;opacity:0.8"></div>
<div class="a" style="left:1082px;top:286.2px;width:11px;height:1.2px;background:#ddd;opacity:0.8"></div>
<div class="a" style="left:1093.5px;top:285.8px;width:1.5px;height:1.5px;background:#e03030;"></div>
<div class="a" style="left:1097px;top:284.6px;width:9px;height:5px;background:#3a3e44;"></div>
<div class="a" style="left:1111px;top:286.2px;width:9px;height:1.2px;background:#ddd;opacity:0.8"></div>
<div class="a" style="left:1120.5px;top:285.8px;width:1.5px;height:1.5px;background:#e03030;"></div>
<div class="a" style="left:1124px;top:284.6px;width:9px;height:5px;background:#3a3e44;"></div>
<div class="a" style="left:1136px;top:286.2px;width:7px;height:1.2px;background:#ccc;opacity:0.8"></div>
<div class="a" style="left:1146px;top:286.2px;width:6px;height:1.2px;background:#ccc;opacity:0.8"></div>
<div class="a" style="left:1155px;top:286.2px;width:6px;height:1.2px;background:#ccc;opacity:0.8"></div>
<div class="a" style="left:1165px;top:286.2px;width:16px;height:1.2px;background:#ccc;opacity:0.8"></div>
<div class="a" style="left:1009.5px;top:291px;width:215px;height:6.6px;background:#363b42;"></div>
<div class="a" style="left:1012px;top:293.4px;width:18px;height:1.2px;background:#ccc;opacity:0.8"></div>
<div class="a" style="left:1032px;top:291.6px;width:44px;height:5px;background:#3a3e44;"></div>
<div class="a" style="left:1035px;top:293.4px;width:14px;height:1.1px;background:#777;opacity:0.8"></div>
<div class="a" style="left:1080px;top:291.6px;width:40px;height:5px;background:#3a3e44;"></div>
<div class="a" style="left:1082px;top:293.4px;width:14px;height:1.1px;background:#777;opacity:0.8"></div>
<div class="a" style="left:1225px;top:276px;width:22px;height:22.2px;background:#2b2f33;"></div>
<div class="a" style="left:1247px;top:276px;width:27px;height:22.2px;background:#2f3338;"></div>
<div class="a" style="left:1252px;top:286px;width:2.8px;height:2.8px;background:#2a7fe0;border-radius:1px"></div>
<div class="a" style="left:1259px;top:285.5px;width:10px;height:4px;background:#55595e;"></div>
<div class="a" style="left:975.2px;top:298.2px;width:34px;height:22.2px;background:#33373c;"></div>
<div class="a" style="left:975.2px;top:320.2px;width:299.6px;height:0.5px;background:#24272b;"></div>
<div class="a" style="left:977px;top:306.2px;width:22px;height:1.1px;background:#c0c2c5;opacity:0.8"></div>
<div class="a" style="left:977px;top:308.8px;width:18px;height:1.1px;background:#c0c2c5;opacity:0.8"></div>
<div class="a" style="left:977px;top:311.4px;width:14px;height:1.1px;background:#c0c2c5;opacity:0.8"></div>
<div class="a" style="left:1009.5px;top:298.8px;width:102px;height:6.6px;background:#3a3e44;"></div>
<div class="a" style="left:1011px;top:299.4px;width:16px;height:5.4px;background:#454a50;"></div>
<div class="a" style="left:1016px;top:301.5px;width:5px;height:1.1px;background:#888;opacity:0.8"></div>
<div class="a" style="left:1030.6px;top:299.4px;width:16px;height:5.4px;background:#454a50;"></div>
<div class="a" style="left:1035.6px;top:301.5px;width:5px;height:1.1px;background:#888;opacity:0.8"></div>
<div class="a" style="left:1050.2px;top:299.4px;width:16px;height:5.4px;background:#454a50;"></div>
<div class="a" style="left:1055.2px;top:301.5px;width:5px;height:1.1px;background:#888;opacity:0.8"></div>
<div class="a" style="left:1069.8px;top:299.4px;width:16px;height:5.4px;background:#454a50;"></div>
<div class="a" style="left:1074.8px;top:301.5px;width:5px;height:1.1px;background:#888;opacity:0.8"></div>
<div class="a" style="left:1089.4px;top:299.4px;width:16px;height:5.4px;background:#454a50;"></div>
<div class="a" style="left:1094.4px;top:301.5px;width:5px;height:1.1px;background:#888;opacity:0.8"></div>
<div class="a" style="left:1110px;top:299.4px;width:112px;height:5.4px;background:#40454b;"></div>
<div class="a" style="left:1112px;top:301.5px;width:18px;height:1.1px;background:#bbb;opacity:0.8"></div>
<div class="a" style="left:1195px;top:301.5px;width:5px;height:1.1px;background:#ccc;opacity:0.8"></div>
<div class="a" style="left:1212px;top:301.5px;width:5px;height:1.1px;background:#ccc;opacity:0.8"></div>
<div class="a" style="left:1229px;top:301.5px;width:5px;height:1.1px;background:#ccc;opacity:0.8"></div>
<div class="a" style="left:1009.5px;top:306px;width:215px;height:6.6px;background:#363b42;"></div>
<div class="a" style="left:1012px;top:308.4px;width:15px;height:1.2px;background:#ccc;opacity:0.8"></div>
<div class="a" style="left:1028px;top:306.8px;width:16px;height:5px;background:#3a3e44;"></div>
<div class="a" style="left:1029px;top:308.4px;width:9px;height:1.2px;background:#ccc;opacity:0.8"></div>
<div class="a" style="left:1048px;top:306.8px;width:12px;height:5px;background:#3a3e44;"></div>
<div class="a" style="left:1049px;top:308.4px;width:8px;height:1.2px;background:#ccc;opacity:0.8"></div>
<div class="a" style="left:1062px;top:306.8px;width:12px;height:5px;background:#3a3e44;"></div>
<div class="a" style="left:1063px;top:308.4px;width:8px;height:1.2px;background:#999;opacity:0.8"></div>
<div class="a" style="left:1082px;top:308.4px;width:11px;height:1.2px;background:#ddd;opacity:0.8"></div>
<div class="a" style="left:1093.5px;top:308px;width:1.5px;height:1.5px;background:#e03030;"></div>
<div class="a" style="left:1097px;top:306.8px;width:9px;height:5px;background:#3a3e44;"></div>
<div class="a" style="left:1111px;top:308.4px;width:9px;height:1.2px;background:#ddd;opacity:0.8"></div>
<div class="a" style="left:1120.5px;top:308px;width:1.5px;height:1.5px;background:#e03030;"></div>
<div class="a" style="left:1124px;top:306.8px;width:9px;height:5px;background:#3a3e44;"></div>
<div class="a" style="left:1136px;top:308.4px;width:7px;height:1.2px;background:#ccc;opacity:0.8"></div>
<div class="a" style="left:1146px;top:308.4px;width:6px;height:1.2px;background:#ccc;opacity:0.8"></div>
<div class="a" style="left:1155px;top:308.4px;width:6px;height:1.2px;background:#ccc;opacity:0.8"></div>
<div class="a" style="left:1165px;top:308.4px;width:16px;height:1.2px;background:#ccc;opacity:0.8"></div>
<div class="a" style="left:1009.5px;top:313.2px;width:215px;height:6.6px;background:#363b42;"></div>
<div class="a" style="left:1012px;top:315.6px;width:18px;height:1.2px;background:#ccc;opacity:0.8"></div>
<div class="a" style="left:1032px;top:313.8px;width:44px;height:5px;background:#3a3e44;"></div>
<div class="a" style="left:1035px;top:315.6px;width:14px;height:1.1px;background:#777;opacity:0.8"></div>
<div class="a" style="left:1080px;top:313.8px;width:40px;height:5px;background:#3a3e44;"></div>
<div class="a" style="left:1082px;top:315.6px;width:14px;height:1.1px;background:#777;opacity:0.8"></div>
<div class="a" style="left:1225px;top:298.2px;width:22px;height:22.2px;background:#2b2f33;"></div>
<div class="a" style="left:1247px;top:298.2px;width:27px;height:22.2px;background:#2f3338;"></div>
<div class="a" style="left:1252px;top:308.2px;width:2.8px;height:2.8px;background:#2a7fe0;border-radius:1px"></div>
<div class="a" style="left:1259px;top:307.7px;width:10px;height:4px;background:#55595e;"></div>
<div class="a" style="left:975.2px;top:320.4px;width:34px;height:22.2px;background:#33373c;"></div>
<div class="a" style="left:975.2px;top:342.4px;width:299.6px;height:0.5px;background:#24272b;"></div>
<div class="a" style="left:977px;top:328.4px;width:22px;height:1.1px;background:#c0c2c5;opacity:0.8"></div>
<div class="a" style="left:977px;top:331px;width:18px;height:1.1px;background:#c0c2c5;opacity:0.8"></div>
<div class="a" style="left:977px;top:333.6px;width:14px;height:1.1px;background:#c0c2c5;opacity:0.8"></div>
<div class="a" style="left:1009.5px;top:321px;width:102px;height:6.6px;background:#3a3e44;"></div>
<div class="a" style="left:1011px;top:321.6px;width:16px;height:5.4px;background:#454a50;"></div>
<div class="a" style="left:1016px;top:323.7px;width:5px;height:1.1px;background:#888;opacity:0.8"></div>
<div class="a" style="left:1030.6px;top:321.6px;width:16px;height:5.4px;background:#454a50;"></div>
<div class="a" style="left:1035.6px;top:323.7px;width:5px;height:1.1px;background:#888;opacity:0.8"></div>
<div class="a" style="left:1050.2px;top:321.6px;width:16px;height:5.4px;background:#454a50;"></div>
<div class="a" style="left:1055.2px;top:323.7px;width:5px;height:1.1px;background:#888;opacity:0.8"></div>
<div class="a" style="left:1069.8px;top:321.6px;width:16px;height:5.4px;background:#454a50;"></div>
<div class="a" style="left:1074.8px;top:323.7px;width:5px;height:1.1px;background:#888;opacity:0.8"></div>
<div class="a" style="left:1089.4px;top:321.6px;width:16px;height:5.4px;background:#454a50;"></div>
<div class="a" style="left:1094.4px;top:323.7px;width:5px;height:1.1px;background:#888;opacity:0.8"></div>
<div class="a" style="left:1110px;top:321.6px;width:112px;height:5.4px;background:#40454b;"></div>
<div class="a" style="left:1112px;top:323.7px;width:18px;height:1.1px;background:#bbb;opacity:0.8"></div>
<div class="a" style="left:1195px;top:323.7px;width:5px;height:1.1px;background:#ccc;opacity:0.8"></div>
<div class="a" style="left:1212px;top:323.7px;width:5px;height:1.1px;background:#ccc;opacity:0.8"></div>
<div class="a" style="left:1229px;top:323.7px;width:5px;height:1.1px;background:#ccc;opacity:0.8"></div>
<div class="a" style="left:1009.5px;top:328.2px;width:215px;height:6.6px;background:#363b42;"></div>
<div class="a" style="left:1012px;top:330.6px;width:15px;height:1.2px;background:#ccc;opacity:0.8"></div>
<div class="a" style="left:1028px;top:329px;width:16px;height:5px;background:#3a3e44;"></div>
<div class="a" style="left:1029px;top:330.6px;width:9px;height:1.2px;background:#ccc;opacity:0.8"></div>
<div class="a" style="left:1048px;top:329px;width:12px;height:5px;background:#3a3e44;"></div>
<div class="a" style="left:1049px;top:330.6px;width:8px;height:1.2px;background:#ccc;opacity:0.8"></div>
<div class="a" style="left:1062px;top:329px;width:12px;height:5px;background:#3a3e44;"></div>
<div class="a" style="left:1063px;top:330.6px;width:8px;height:1.2px;background:#999;opacity:0.8"></div>
<div class="a" style="left:1082px;top:330.6px;width:11px;height:1.2px;background:#ddd;opacity:0.8"></div>
<div class="a" style="left:1093.5px;top:330.2px;width:1.5px;height:1.5px;background:#e03030;"></div>
<div class="a" style="left:1097px;top:329px;width:9px;height:5px;background:#3a3e44;"></div>
<div class="a" style="left:1111px;top:330.6px;width:9px;height:1.2px;background:#ddd;opacity:0.8"></div>
<div class="a" style="left:1120.5px;top:330.2px;width:1.5px;height:1.5px;background:#e03030;"></div>
<div class="a" style="left:1124px;top:329px;width:9px;height:5px;background:#3a3e44;"></div>
<div class="a" style="left:1136px;top:330.6px;width:7px;height:1.2px;background:#ccc;opacity:0.8"></div>
<div class="a" style="left:1146px;top:330.6px;width:6px;height:1.2px;background:#ccc;opacity:0.8"></div>
<div class="a" style="left:1155px;top:330.6px;width:6px;height:1.2px;background:#ccc;opacity:0.8"></div>
<div class="a" style="left:1165px;top:330.6px;width:16px;height:1.2px;background:#ccc;opacity:0.8"></div>
<div class="a" style="left:1009.5px;top:335.4px;width:215px;height:6.6px;background:#363b42;"></div>
<div class="a" style="left:1012px;top:337.8px;width:18px;height:1.2px;background:#ccc;opacity:0.8"></div>
<div class="a" style="left:1032px;top:336px;width:44px;height:5px;background:#3a3e44;"></div>
<div class="a" style="left:1035px;top:337.8px;width:14px;height:1.1px;background:#777;opacity:0.8"></div>
<div class="a" style="left:1080px;top:336px;width:40px;height:5px;background:#3a3e44;"></div>
<div class="a" style="left:1082px;top:337.8px;width:14px;height:1.1px;background:#777;opacity:0.8"></div>
<div class="a" style="left:1225px;top:320.4px;width:22px;height:22.2px;background:#2b2f33;"></div>
<div class="a" style="left:1247px;top:320.4px;width:27px;height:22.2px;background:#2f3338;"></div>
<div class="a" style="left:1252px;top:330.4px;width:2.8px;height:2.8px;background:#2a7fe0;border-radius:1px"></div>
<div class="a" style="left:1259px;top:329.9px;width:10px;height:4px;background:#55595e;"></div>
<div class="a" style="left:975.2px;top:342.6px;width:34px;height:22.2px;background:#33373c;"></div>
<div class="a" style="left:975.2px;top:364.6px;width:299.6px;height:0.5px;background:#24272b;"></div>
<div class="a" style="left:977px;top:350.6px;width:22px;height:1.1px;background:#c0c2c5;opacity:0.8"></div>
<div class="a" style="left:977px;top:353.2px;width:18px;height:1.1px;background:#c0c2c5;opacity:0.8"></div>
<div class="a" style="left:977px;top:355.8px;width:14px;height:1.1px;background:#c0c2c5;opacity:0.8"></div>
<div class="a" style="left:1009.5px;top:343.2px;width:102px;height:6.6px;background:#3a3e44;"></div>
<div class="a" style="left:1011px;top:343.8px;width:16px;height:5.4px;background:#454a50;"></div>
<div class="a" style="left:1016px;top:345.9px;width:5px;height:1.1px;background:#888;opacity:0.8"></div>
<div class="a" style="left:1030.6px;top:343.8px;width:16px;height:5.4px;background:#454a50;"></div>
<div class="a" style="left:1035.6px;top:345.9px;width:5px;height:1.1px;background:#888;opacity:0.8"></div>
<div class="a" style="left:1050.2px;top:343.8px;width:16px;height:5.4px;background:#454a50;"></div>
<div class="a" style="left:1055.2px;top:345.9px;width:5px;height:1.1px;background:#888;opacity:0.8"></div>
<div class="a" style="left:1069.8px;top:343.8px;width:16px;height:5.4px;background:#454a50;"></div>
<div class="a" style="left:1074.8px;top:345.9px;width:5px;height:1.1px;background:#888;opacity:0.8"></div>
<div class="a" style="left:1089.4px;top:343.8px;width:16px;height:5.4px;background:#454a50;"></div>
<div class="a" style="left:1094.4px;top:345.9px;width:5px;height:1.1px;background:#888;opacity:0.8"></div>
<div class="a" style="left:1110px;top:343.8px;width:112px;height:5.4px;background:#40454b;"></div>
<div class="a" style="left:1112px;top:345.9px;width:18px;height:1.1px;background:#bbb;opacity:0.8"></div>
<div class="a" style="left:1195px;top:345.9px;width:5px;height:1.1px;background:#ccc;opacity:0.8"></div>
<div class="a" style="left:1212px;top:345.9px;width:5px;height:1.1px;background:#ccc;opacity:0.8"></div>
<div class="a" style="left:1229px;top:345.9px;width:5px;height:1.1px;background:#ccc;opacity:0.8"></div>
<div class="a" style="left:1009.5px;top:350.4px;width:215px;height:6.6px;background:#363b42;"></div>
<div class="a" style="left:1012px;top:352.8px;width:15px;height:1.2px;background:#ccc;opacity:0.8"></div>
<div class="a" style="left:1028px;top:351.2px;width:16px;height:5px;background:#3a3e44;"></div>
<div class="a" style="left:1029px;top:352.8px;width:9px;height:1.2px;background:#ccc;opacity:0.8"></div>
<div class="a" style="left:1048px;top:351.2px;width:12px;height:5px;background:#3a3e44;"></div>
<div class="a" style="left:1049px;top:352.8px;width:8px;height:1.2px;background:#ccc;opacity:0.8"></div>
<div class="a" style="left:1062px;top:351.2px;width:12px;height:5px;background:#3a3e44;"></div>
<div class="a" style="left:1063px;top:352.8px;width:8px;height:1.2px;background:#999;opacity:0.8"></div>
<div class="a" style="left:1082px;top:352.8px;width:11px;height:1.2px;background:#ddd;opacity:0.8"></div>
<div class="a" style="left:1093.5px;top:352.4px;width:1.5px;height:1.5px;background:#e03030;"></div>
<div class="a" style="left:1097px;top:351.2px;width:9px;height:5px;background:#3a3e44;"></div>
<div class="a" style="left:1111px;top:352.8px;width:9px;height:1.2px;background:#ddd;opacity:0.8"></div>
<div class="a" style="left:1120.5px;top:352.4px;width:1.5px;height:1.5px;background:#e03030;"></div>
<div class="a" style="left:1124px;top:351.2px;width:9px;height:5px;background:#3a3e44;"></div>
<div class="a" style="left:1136px;top:352.8px;width:7px;height:1.2px;background:#ccc;opacity:0.8"></div>
<div class="a" style="left:1146px;top:352.8px;width:6px;height:1.2px;background:#ccc;opacity:0.8"></div>
<div class="a" style="left:1155px;top:352.8px;width:6px;height:1.2px;background:#ccc;opacity:0.8"></div>
<div class="a" style="left:1165px;top:352.8px;width:16px;height:1.2px;background:#ccc;opacity:0.8"></div>
<div class="a" style="left:1009.5px;top:357.6px;width:215px;height:6.6px;background:#363b42;"></div>
<div class="a" style="left:1012px;top:360px;width:18px;height:1.2px;background:#ccc;opacity:0.8"></div>
<div class="a" style="left:1032px;top:358.2px;width:44px;height:5px;background:#3a3e44;"></div>
<div class="a" style="left:1035px;top:360px;width:14px;height:1.1px;background:#777;opacity:0.8"></div>
<div class="a" style="left:1080px;top:358.2px;width:40px;height:5px;background:#3a3e44;"></div>
<div class="a" style="left:1082px;top:360px;width:14px;height:1.1px;background:#777;opacity:0.8"></div>
<div class="a" style="left:1225px;top:342.6px;width:22px;height:22.2px;background:#2b2f33;"></div>
<div class="a" style="left:1247px;top:342.6px;width:27px;height:22.2px;background:#2f3338;"></div>
<div class="a" style="left:1252px;top:352.6px;width:2.8px;height:2.8px;background:#2a7fe0;border-radius:1px"></div>
<div class="a" style="left:1259px;top:352.1px;width:10px;height:4px;background:#55595e;"></div>
<div class="a" style="left:975.2px;top:364.8px;width:34px;height:22.2px;background:#33373c;"></div>
<div class="a" style="left:975.2px;top:386.8px;width:299.6px;height:0.5px;background:#24272b;"></div>
<div class="a" style="left:977px;top:372.8px;width:0px;height:1.1px;background:#c0c2c5;opacity:0.8"></div>
<div class="a" style="left:977px;top:375.4px;width:0px;height:1.1px;background:#c0c2c5;opacity:0.8"></div>
<div class="a" style="left:977px;top:378px;width:0px;height:1.1px;background:#c0c2c5;opacity:0.8"></div>
<div class="a" style="left:977px;top:374.8px;width:27px;height:1.2px;background:#c0c2c5;opacity:0.8"></div>
<div class="a" style="left:1009.5px;top:365.4px;width:102px;height:6.6px;background:#3a3e44;"></div>
<div class="a" style="left:1011px;top:366px;width:16px;height:5.4px;background:#454a50;"></div>
<div class="a" style="left:1016px;top:368.1px;width:5px;height:1.1px;background:#888;opacity:0.8"></div>
<div class="a" style="left:1030.6px;top:366px;width:16px;height:5.4px;background:#454a50;"></div>
<div class="a" style="left:1035.6px;top:368.1px;width:5px;height:1.1px;background:#888;opacity:0.8"></div>
<div class="a" style="left:1050.2px;top:366px;width:16px;height:5.4px;background:#454a50;"></div>
<div class="a" style="left:1055.2px;top:368.1px;width:5px;height:1.1px;background:#888;opacity:0.8"></div>
<div class="a" style="left:1069.8px;top:366px;width:16px;height:5.4px;background:#454a50;"></div>
<div class="a" style="left:1074.8px;top:368.1px;width:5px;height:1.1px;background:#888;opacity:0.8"></div>
<div class="a" style="left:1089.4px;top:366px;width:16px;height:5.4px;background:#454a50;"></div>
<div class="a" style="left:1094.4px;top:368.1px;width:5px;height:1.1px;background:#888;opacity:0.8"></div>
<div class="a" style="left:1110px;top:366px;width:112px;height:5.4px;background:#40454b;"></div>
<div class="a" style="left:1112px;top:368.1px;width:18px;height:1.1px;background:#bbb;opacity:0.8"></div>
<div class="a" style="left:1195px;top:368.1px;width:5px;height:1.1px;background:#ccc;opacity:0.8"></div>
<div class="a" style="left:1212px;top:368.1px;width:5px;height:1.1px;background:#ccc;opacity:0.8"></div>
<div class="a" style="left:1229px;top:368.1px;width:5px;height:1.1px;background:#ccc;opacity:0.8"></div>
<div class="a" style="left:1009.5px;top:372.6px;width:215px;height:6.6px;background:#363b42;"></div>
<div class="a" style="left:1012px;top:375px;width:15px;height:1.2px;background:#ccc;opacity:0.8"></div>
<div class="a" style="left:1028px;top:373.4px;width:16px;height:5px;background:#3a3e44;"></div>
<div class="a" style="left:1029px;top:375px;width:9px;height:1.2px;background:#ccc;opacity:0.8"></div>
<div class="a" style="left:1048px;top:373.4px;width:12px;height:5px;background:#3a3e44;"></div>
<div class="a" style="left:1049px;top:375px;width:8px;height:1.2px;background:#ccc;opacity:0.8"></div>
<div class="a" style="left:1062px;top:373.4px;width:12px;height:5px;background:#3a3e44;"></div>
<div class="a" style="left:1063px;top:375px;width:8px;height:1.2px;background:#999;opacity:0.8"></div>
<div class="a" style="left:1082px;top:375px;width:11px;height:1.2px;background:#ddd;opacity:0.8"></div>
<div class="a" style="left:1093.5px;top:374.6px;width:1.5px;height:1.5px;background:#e03030;"></div>
<div class="a" style="left:1097px;top:373.4px;width:9px;height:5px;background:#3a3e44;"></div>
<div class="a" style="left:1111px;top:375px;width:9px;height:1.2px;background:#ddd;opacity:0.8"></div>
<div class="a" style="left:1120.5px;top:374.6px;width:1.5px;height:1.5px;background:#e03030;"></div>
<div class="a" style="left:1124px;top:373.4px;width:9px;height:5px;background:#3a3e44;"></div>
<div class="a" style="left:1136px;top:375px;width:7px;height:1.2px;background:#ccc;opacity:0.8"></div>
<div class="a" style="left:1146px;top:375px;width:6px;height:1.2px;background:#ccc;opacity:0.8"></div>
<div class="a" style="left:1155px;top:375px;width:6px;height:1.2px;background:#ccc;opacity:0.8"></div>
<div class="a" style="left:1165px;top:375px;width:16px;height:1.2px;background:#ccc;opacity:0.8"></div>
<div class="a" style="left:1009.5px;top:379.8px;width:215px;height:6.6px;background:#363b42;"></div>
<div class="a" style="left:1012px;top:382.2px;width:18px;height:1.2px;background:#ccc;opacity:0.8"></div>
<div class="a" style="left:1032px;top:380.4px;width:44px;height:5px;background:#3a3e44;"></div>
<div class="a" style="left:1035px;top:382.2px;width:14px;height:1.1px;background:#777;opacity:0.8"></div>
<div class="a" style="left:1080px;top:380.4px;width:40px;height:5px;background:#3a3e44;"></div>
<div class="a" style="left:1082px;top:382.2px;width:14px;height:1.1px;background:#777;opacity:0.8"></div>
<div class="a" style="left:1225px;top:364.8px;width:22px;height:22.2px;background:#2b2f33;"></div>
<div class="a" style="left:1247px;top:364.8px;width:27px;height:22.2px;background:#2f3338;"></div>
<div class="a" style="left:1252px;top:374.8px;width:2.8px;height:2.8px;background:#2a7fe0;border-radius:1px"></div>
<div class="a" style="left:1259px;top:374.3px;width:10px;height:4px;background:#55595e;"></div>
<div class="a" style="left:975.2px;top:387px;width:299.6px;height:2px;background:#15181b;"></div>
<div class="a" style="left:975.2px;top:389px;width:299.6px;height:6.8px;background:#32363b;"></div>
<div class="a" style="left:1238px;top:390.5px;width:10px;height:4px;background:#55595e;"></div>
<div class="a" style="left:1251px;top:390.5px;width:10px;height:4px;background:#55595e;"></div>
<div class="a" style="left:1263px;top:390.5px;width:10px;height:4px;background:#55595e;"></div>
<div class="a" style="left:30.2px;top:697.4px;width:270.5px;height:256.8px;background:#e2e3e4;"></div>
<div class="a" style="left:31.2px;top:698.2px;width:268.5px;height:255px;background:#30343a;"></div>
<div class="a" style="left:31.2px;top:698.2px;width:268.5px;height:11px;background:#000;"></div>
<div class="a" style="left:36px;top:702.8px;width:22px;height:1.6px;background:#d6d6d6;opacity:0.8"></div>
<svg class="a" style="left:292px;top:701.5px" width="6" height="6" viewBox="0 0 6 6"><path d="M0.5,0.5 L5.5,5.5 M5.5,0.5 L0.5,5.5" stroke="#f0f0f0" stroke-width="1.1"/></svg>
<div class="a" style="left:31.2px;top:709.2px;width:268.5px;height:10.8px;background:#24272b;"></div>
<div class="a" style="left:35px;top:714px;width:24px;height:1.5px;background:#e8e8e8;opacity:0.8"></div>
<div class="a" style="left:67px;top:714px;width:23px;height:1.5px;background:#b0b3b6;opacity:0.8"></div>
<div class="a" style="left:98px;top:714px;width:32px;height:1.5px;background:#b0b3b6;opacity:0.8"></div>
<div class="a" style="left:138px;top:714px;width:16px;height:1.5px;background:#b0b3b6;opacity:0.8"></div>
<div class="a" style="left:32px;top:718.5px;width:31px;height:1.5px;background:#20b0a0;"></div>
<div class="a" style="left:31.2px;top:720px;width:62.5px;height:28.7px;background:#30343a;"></div>
<div class="a" style="left:93.7px;top:720px;width:206px;height:28.7px;background:#33373c;"></div>
<div class="a" style="left:35px;top:733.6px;width:16px;height:1.5px;background:#d0d2d4;opacity:0.8"></div>
<div class="a" style="left:98px;top:722px;width:194px;height:24.5px;background:#3e4248;"></div>
<div class="a" style="left:98.5px;top:722.3px;width:193.5px;height:4.7px;background:#cfcfcf;"></div>
<div class="a" style="left:100px;top:724px;width:50px;height:1.3px;background:#8a8a8a;opacity:0.8"></div>
<div class="a" style="left:100px;top:729px;width:45px;height:1.3px;background:#c8cacc;opacity:0.8"></div>
<div class="a" style="left:100px;top:734.2px;width:68px;height:1.3px;background:#c8cacc;opacity:0.8"></div>
<div class="a" style="left:292.5px;top:722px;width:5.5px;height:24.5px;background:#3a3e44;"></div>
<div class="a" style="left:31.2px;top:748.7px;width:268.5px;height:11.3px;background:#4b4f54;"></div>
<div class="a" style="left:36px;top:753.6px;width:24px;height:1.5px;background:#d0d2d4;opacity:0.8"></div>
<div class="a" style="left:31.2px;top:760px;width:268.5px;height:10.3px;background:#3b3f45;"></div>
<div class="a" style="left:58px;top:764.4px;width:7px;height:1.4px;background:#d8d8d8;opacity:0.8"></div>
<div class="a" style="left:121px;top:764.4px;width:11px;height:1.4px;background:#d8d8d8;opacity:0.8"></div>
<div class="a" style="left:232px;top:764.4px;width:10px;height:1.4px;background:#d8d8d8;opacity:0.8"></div>
<div class="a" style="left:31.2px;top:770.3px;width:62.5px;height:30.5px;background:#30343a;"></div>
<div class="a" style="left:93.7px;top:770.3px;width:69px;height:30.5px;background:#33373c;"></div>
<div class="a" style="left:162.7px;top:770.3px;width:137px;height:30.5px;background:#33373c;"></div>
<div class="a" style="left:31.2px;top:800.3px;width:268.5px;height:0.5px;background:#272a2e;"></div>
<div class="a" style="left:93.2px;top:770.3px;width:0.5px;height:30.5px;background:#272a2e;"></div>
<div class="a" style="left:162.2px;top:770.3px;width:0.5px;height:30.5px;background:#272a2e;"></div>
<div class="a" style="left:35.5px;top:783.95px;width:3.2px;height:3.2px;background:#eeeeee;"></div>
<div class="a" style="left:41px;top:784.85px;width:14px;height:1.5px;background:#d0d2d4;opacity:0.8"></div>
<div class="a" style="left:31.2px;top:800.8px;width:62.5px;height:9.7px;background:#30343a;"></div>
<div class="a" style="left:93.7px;top:800.8px;width:69px;height:9.7px;background:#33373c;"></div>
<div class="a" style="left:162.7px;top:800.8px;width:137px;height:9.7px;background:#33373c;"></div>
<div class="a" style="left:31.2px;top:810px;width:268.5px;height:0.5px;background:#272a2e;"></div>
<div class="a" style="left:93.2px;top:800.8px;width:0.5px;height:9.7px;background:#272a2e;"></div>
<div class="a" style="left:162.2px;top:800.8px;width:0.5px;height:9.7px;background:#272a2e;"></div>
<div class="a" style="left:35.5px;top:804.05px;width:3.2px;height:3.2px;background:#eeeeee;"></div>
<div class="a" style="left:41px;top:804.95px;width:12px;height:1.5px;background:#d0d2d4;opacity:0.8"></div>
<div class="a" style="left:31.2px;top:810.5px;width:62.5px;height:10px;background:#30343a;"></div>
<div class="a" style="left:93.7px;top:810.5px;width:69px;height:10px;background:#33373c;"></div>
<div class="a" style="left:162.7px;top:810.5px;width:137px;height:10px;background:#33373c;"></div>
<div class="a" style="left:31.2px;top:820px;width:268.5px;height:0.5px;background:#272a2e;"></div>
<div class="a" style="left:93.2px;top:810.5px;width:0.5px;height:10px;background:#272a2e;"></div>
<div class="a" style="left:162.2px;top:810.5px;width:0.5px;height:10px;background:#272a2e;"></div>
<div class="a" style="left:35.5px;top:813.9px;width:3.2px;height:3.2px;background:#eeeeee;"></div>
<div class="a" style="left:41px;top:814.8px;width:20px;height:1.5px;background:#d0d2d4;opacity:0.8"></div>
<div class="a" style="left:31.2px;top:820.5px;width:62.5px;height:10px;background:#30343a;"></div>
<div class="a" style="left:93.7px;top:820.5px;width:69px;height:10px;background:#33373c;"></div>
<div class="a" style="left:162.7px;top:820.5px;width:137px;height:10px;background:#33373c;"></div>
<div class="a" style="left:31.2px;top:830px;width:268.5px;height:0.5px;background:#272a2e;"></div>
<div class="a" style="left:93.2px;top:820.5px;width:0.5px;height:10px;background:#272a2e;"></div>
<div class="a" style="left:162.2px;top:820.5px;width:0.5px;height:10px;background:#272a2e;"></div>
<div class="a" style="left:35.5px;top:823.9px;width:3.2px;height:3.2px;background:#eeeeee;"></div>
<div class="a" style="left:41px;top:824.8px;width:20px;height:1.5px;background:#d0d2d4;opacity:0.8"></div>
<div class="a" style="left:31.2px;top:830.5px;width:62.5px;height:9.8px;background:#30343a;"></div>
<div class="a" style="left:93.7px;top:830.5px;width:69px;height:9.8px;background:#33373c;"></div>
<div class="a" style="left:162.7px;top:830.5px;width:137px;height:9.8px;background:#33373c;"></div>
<div class="a" style="left:31.2px;top:839.8px;width:268.5px;height:0.5px;background:#272a2e;"></div>
<div class="a" style="left:93.2px;top:830.5px;width:0.5px;height:9.8px;background:#272a2e;"></div>
<div class="a" style="left:162.2px;top:830.5px;width:0.5px;height:9.8px;background:#272a2e;"></div>
<div class="a" style="left:35.5px;top:833.8px;width:3.2px;height:3.2px;background:#eeeeee;"></div>
<div class="a" style="left:41px;top:834.7px;width:26px;height:1.5px;background:#d0d2d4;opacity:0.8"></div>
<div class="a" style="left:31.2px;top:840.3px;width:62.5px;height:9.5px;background:#30343a;"></div>
<div class="a" style="left:93.7px;top:840.3px;width:69px;height:9.5px;background:#33373c;"></div>
<div class="a" style="left:162.7px;top:840.3px;width:137px;height:9.5px;background:#33373c;"></div>
<div class="a" style="left:31.2px;top:849.3px;width:268.5px;height:0.5px;background:#272a2e;"></div>
<div class="a" style="left:93.2px;top:840.3px;width:0.5px;height:9.5px;background:#272a2e;"></div>
<div class="a" style="left:162.2px;top:840.3px;width:0.5px;height:9.5px;background:#272a2e;"></div>
<div class="a" style="left:35.5px;top:843.45px;width:3.2px;height:3.2px;background:#eeeeee;"></div>
<div class="a" style="left:41px;top:844.35px;width:18px;height:1.5px;background:#d0d2d4;opacity:0.8"></div>
<div class="a" style="left:97px;top:782.2px;width:63px;height:5.8px;background:#3a3e44;"></div>
<div class="a" style="left:99px;top:784.5px;width:6px;height:1.2px;background:#888;opacity:0.8"></div>
<div class="a" style="left:154px;top:784.5px;width:3px;height:1px;background:#bbb;opacity:0.8"></div>
<div class="a" style="left:166px;top:774.5px;width:62px;height:1.5px;background:#e0e0e0;opacity:0.8"></div>
<div class="a" style="left:166px;top:781.8px;width:62px;height:1.5px;background:#e0e0e0;opacity:0.8"></div>
<div class="a" style="left:166px;top:789.1px;width:30px;height:1.5px;background:#e0e0e0;opacity:0.8"></div>
<div class="a" style="left:97px;top:802.2px;width:23px;height:6.5px;background:#2a2d31;"></div>
<div class="a" style="left:98.5px;top:805px;width:2px;height:1.1px;background:#888;opacity:0.8"></div>
<div class="a" style="left:124px;top:804.6px;width:3px;height:1.5px;background:#ddd;opacity:0.8"></div>
<div class="a" style="left:166px;top:804.6px;width:62px;height:1.5px;background:#e0e0e0;opacity:0.8"></div>
<div class="a" style="left:97px;top:812px;width:43px;height:6.8px;background:#2a2d31;"></div>
<div class="a" style="left:99px;top:814.8px;width:22px;height:1.1px;background:#777;opacity:0.8"></div>
<div class="a" style="left:141.5px;top:814.8px;width:1px;height:1.1px;background:#999;opacity:0.8"></div>
<div class="a" style="left:143px;top:812px;width:17px;height:6.8px;background:#2a2d31;"></div>
<div class="a" style="left:145px;top:814.8px;width:7px;height:1.1px;background:#777;opacity:0.8"></div>
<div class="a" style="left:166px;top:814.6px;width:45px;height:1.5px;background:#e0e0e0;opacity:0.8"></div>
<div class="a" style="left:97px;top:822px;width:43px;height:6.8px;background:#2a2d31;"></div>
<div class="a" style="left:141.5px;top:824.8px;width:1px;height:1.1px;background:#999;opacity:0.8"></div>
<div class="a" style="left:143px;top:822px;width:17px;height:6.8px;background:#2a2d31;"></div>
<div class="a" style="left:145px;top:824.8px;width:7px;height:1.1px;background:#777;opacity:0.8"></div>
<div class="a" style="left:166px;top:824.6px;width:45px;height:1.5px;background:#e0e0e0;opacity:0.8"></div>
<div class="a" style="left:97px;top:831.5px;width:63px;height:7.2px;background:#2a2d31;"></div>
<div class="a" style="left:166px;top:834.6px;width:62px;height:1.5px;background:#e0e0e0;opacity:0.8"></div>
<div class="a" style="left:97px;top:841.2px;width:63px;height:7.2px;background:#2a2d31;"></div>
<div class="a" style="left:166px;top:844.3px;width:62px;height:1.5px;background:#e0e0e0;opacity:0.8"></div>
<div class="a" style="left:31.2px;top:849.8px;width:268.5px;height:10.2px;background:#55595e;"></div>
<div class="a" style="left:36px;top:854.2px;width:25px;height:1.5px;background:#d0d2d4;opacity:0.8"></div>
<div class="a" style="left:31.2px;top:860px;width:268.5px;height:11px;background:#3b3f45;"></div>
<div class="a" style="left:58px;top:864.8px;width:7px;height:1.4px;background:#d8d8d8;opacity:0.8"></div>
<div class="a" style="left:103px;top:864.8px;width:25px;height:1.4px;background:#d8d8d8;opacity:0.8"></div>
<div class="a" style="left:151px;top:864.8px;width:25px;height:1.4px;background:#d8d8d8;opacity:0.8"></div>
<div class="a" style="left:202px;top:864.8px;width:28px;height:1.4px;background:#d8d8d8;opacity:0.8"></div>
<div class="a" style="left:31.2px;top:871px;width:62.5px;height:9.9px;background:#30343a;"></div>
<div class="a" style="left:93.7px;top:871px;width:206px;height:9.9px;background:#33373c;"></div>
<div class="a" style="left:31.2px;top:880.4px;width:268.5px;height:0.5px;background:#272a2e;"></div>
<div class="a" style="left:93.2px;top:871px;width:0.5px;height:9.9px;background:#272a2e;"></div>
<div class="a" style="left:138.3px;top:871px;width:0.5px;height:9.9px;background:#272a2e;"></div>
<div class="a" style="left:189.5px;top:871px;width:0.5px;height:9.9px;background:#272a2e;"></div>
<div class="a" style="left:236px;top:871px;width:0.5px;height:9.9px;background:#272a2e;"></div>
<div class="a" style="left:35.5px;top:874.4px;width:3.2px;height:3.2px;background:#eeeeee;"></div>
<div class="a" style="left:41px;top:875.2px;width:9px;height:1.5px;background:#d0d2d4;opacity:0.8"></div>
<div class="a" style="left:103px;top:874.6px;width:2.8px;height:2.8px;background:#aaaaaa;border-radius:50%"></div>
<div class="a" style="left:106.5px;top:875.3px;width:5px;height:1.3px;background:#d0d0d0;opacity:0.8"></div>
<div class="a" style="left:117.5px;top:874.6px;width:2.8px;height:2.8px;background:#aaaaaa;border-radius:50%"></div>
<div class="a" style="left:121px;top:875.3px;width:5px;height:1.3px;background:#d0d0d0;opacity:0.8"></div>
<div class="a" style="left:142px;top:872.5px;width:23px;height:7px;background:#2a2d31;"></div>
<div class="a" style="left:144px;top:875.5px;width:3px;height:1.1px;background:#777;opacity:0.8"></div>
<div class="a" style="left:167.5px;top:875.1px;width:3px;height:1.6px;background:#ddd;opacity:0.8"></div>
<div class="a" style="left:193px;top:872.5px;width:23px;height:7px;background:#2a2d31;"></div>
<div class="a" style="left:195px;top:875.5px;width:2px;height:1.1px;background:#777;opacity:0.8"></div>
<div class="a" style="left:219px;top:875.1px;width:3px;height:1.6px;background:#ddd;opacity:0.8"></div>
<div class="a" style="left:240px;top:872.5px;width:22px;height:7px;background:#2a2d31;"></div>
<div class="a" style="left:242px;top:875.5px;width:2px;height:1.1px;background:#999;opacity:0.8"></div>
<div class="a" style="left:265px;top:875.1px;width:3px;height:1.6px;background:#ddd;opacity:0.8"></div>
<div class="a" style="left:31.2px;top:880.9px;width:62.5px;height:9.9px;background:#30343a;"></div>
<div class="a" style="left:93.7px;top:880.9px;width:206px;height:9.9px;background:#33373c;"></div>
<div class="a" style="left:31.2px;top:890.3px;width:268.5px;height:0.5px;background:#272a2e;"></div>
<div class="a" style="left:93.2px;top:880.9px;width:0.5px;height:9.9px;background:#272a2e;"></div>
<div class="a" style="left:138.3px;top:880.9px;width:0.5px;height:9.9px;background:#272a2e;"></div>
<div class="a" style="left:189.5px;top:880.9px;width:0.5px;height:9.9px;background:#272a2e;"></div>
<div class="a" style="left:236px;top:880.9px;width:0.5px;height:9.9px;background:#272a2e;"></div>
<div class="a" style="left:35.5px;top:884.3px;width:3.2px;height:3.2px;background:#eeeeee;"></div>
<div class="a" style="left:41px;top:885.1px;width:9px;height:1.5px;background:#d0d2d4;opacity:0.8"></div>
<div class="a" style="left:103px;top:884.5px;width:2.8px;height:2.8px;background:#aaaaaa;border-radius:50%"></div>
<div class="a" style="left:106.5px;top:885.2px;width:5px;height:1.3px;background:#d0d0d0;opacity:0.8"></div>
<div class="a" style="left:117.5px;top:884.5px;width:2.8px;height:2.8px;background:#aaaaaa;border-radius:50%"></div>
<div class="a" style="left:121px;top:885.2px;width:5px;height:1.3px;background:#d0d0d0;opacity:0.8"></div>
<div class="a" style="left:142px;top:882.4px;width:23px;height:7px;background:#2a2d31;"></div>
<div class="a" style="left:144px;top:885.4px;width:3px;height:1.1px;background:#777;opacity:0.8"></div>
<div class="a" style="left:167.5px;top:885px;width:3px;height:1.6px;background:#ddd;opacity:0.8"></div>
<div class="a" style="left:193px;top:882.4px;width:23px;height:7px;background:#2a2d31;"></div>
<div class="a" style="left:195px;top:885.4px;width:2px;height:1.1px;background:#777;opacity:0.8"></div>
<div class="a" style="left:219px;top:885px;width:3px;height:1.6px;background:#ddd;opacity:0.8"></div>
<div class="a" style="left:240px;top:882.4px;width:22px;height:7px;background:#2a2d31;"></div>
<div class="a" style="left:242px;top:885.4px;width:2px;height:1.1px;background:#999;opacity:0.8"></div>
<div class="a" style="left:265px;top:885px;width:3px;height:1.6px;background:#ddd;opacity:0.8"></div>
<div class="a" style="left:31.2px;top:890.8px;width:62.5px;height:9.9px;background:#30343a;"></div>
<div class="a" style="left:93.7px;top:890.8px;width:206px;height:9.9px;background:#33373c;"></div>
<div class="a" style="left:31.2px;top:900.2px;width:268.5px;height:0.5px;background:#272a2e;"></div>
<div class="a" style="left:93.2px;top:890.8px;width:0.5px;height:9.9px;background:#272a2e;"></div>
<div class="a" style="left:138.3px;top:890.8px;width:0.5px;height:9.9px;background:#272a2e;"></div>
<div class="a" style="left:189.5px;top:890.8px;width:0.5px;height:9.9px;background:#272a2e;"></div>
<div class="a" style="left:236px;top:890.8px;width:0.5px;height:9.9px;background:#272a2e;"></div>
<div class="a" style="left:35.5px;top:894.2px;width:3.2px;height:3.2px;background:#eeeeee;"></div>
<div class="a" style="left:41px;top:895px;width:9px;height:1.5px;background:#d0d2d4;opacity:0.8"></div>
<div class="a" style="left:103px;top:894.4px;width:2.8px;height:2.8px;background:#aaaaaa;border-radius:50%"></div>
<div class="a" style="left:106.5px;top:895.1px;width:5px;height:1.3px;background:#d0d0d0;opacity:0.8"></div>
<div class="a" style="left:117.5px;top:894.4px;width:2.8px;height:2.8px;background:#aaaaaa;border-radius:50%"></div>
<div class="a" style="left:121px;top:895.1px;width:5px;height:1.3px;background:#d0d0d0;opacity:0.8"></div>
<div class="a" style="left:142px;top:892.3px;width:23px;height:7px;background:#2a2d31;"></div>
<div class="a" style="left:144px;top:895.3px;width:3px;height:1.1px;background:#777;opacity:0.8"></div>
<div class="a" style="left:167.5px;top:894.9px;width:3px;height:1.6px;background:#ddd;opacity:0.8"></div>
<div class="a" style="left:193px;top:892.3px;width:23px;height:7px;background:#2a2d31;"></div>
<div class="a" style="left:195px;top:895.3px;width:2px;height:1.1px;background:#777;opacity:0.8"></div>
<div class="a" style="left:219px;top:894.9px;width:3px;height:1.6px;background:#ddd;opacity:0.8"></div>
<div class="a" style="left:240px;top:892.3px;width:22px;height:7px;background:#2a2d31;"></div>
<div class="a" style="left:242px;top:895.3px;width:2px;height:1.1px;background:#999;opacity:0.8"></div>
<div class="a" style="left:265px;top:894.9px;width:3px;height:1.6px;background:#ddd;opacity:0.8"></div>
<div class="a" style="left:31.2px;top:900.7px;width:62.5px;height:9.9px;background:#30343a;"></div>
<div class="a" style="left:93.7px;top:900.7px;width:206px;height:9.9px;background:#33373c;"></div>
<div class="a" style="left:31.2px;top:910.1px;width:268.5px;height:0.5px;background:#272a2e;"></div>
<div class="a" style="left:93.2px;top:900.7px;width:0.5px;height:9.9px;background:#272a2e;"></div>
<div class="a" style="left:138.3px;top:900.7px;width:0.5px;height:9.9px;background:#272a2e;"></div>
<div class="a" style="left:189.5px;top:900.7px;width:0.5px;height:9.9px;background:#272a2e;"></div>
<div class="a" style="left:236px;top:900.7px;width:0.5px;height:9.9px;background:#272a2e;"></div>
<div class="a" style="left:35.5px;top:904.1px;width:3.2px;height:3.2px;background:#eeeeee;"></div>
<div class="a" style="left:41px;top:904.9px;width:9px;height:1.5px;background:#d0d2d4;opacity:0.8"></div>
<div class="a" style="left:103px;top:904.3px;width:2.8px;height:2.8px;background:#aaaaaa;border-radius:50%"></div>
<div class="a" style="left:106.5px;top:905px;width:5px;height:1.3px;background:#d0d0d0;opacity:0.8"></div>
<div class="a" style="left:117.5px;top:904.3px;width:2.8px;height:2.8px;background:#aaaaaa;border-radius:50%"></div>
<div class="a" style="left:121px;top:905px;width:5px;height:1.3px;background:#d0d0d0;opacity:0.8"></div>
<div class="a" style="left:142px;top:902.2px;width:23px;height:7px;background:#2a2d31;"></div>
<div class="a" style="left:144px;top:905.2px;width:3px;height:1.1px;background:#777;opacity:0.8"></div>
<div class="a" style="left:167.5px;top:904.8px;width:3px;height:1.6px;background:#ddd;opacity:0.8"></div>
<div class="a" style="left:193px;top:902.2px;width:23px;height:7px;background:#2a2d31;"></div>
<div class="a" style="left:195px;top:905.2px;width:2px;height:1.1px;background:#777;opacity:0.8"></div>
<div class="a" style="left:219px;top:904.8px;width:3px;height:1.6px;background:#ddd;opacity:0.8"></div>
<div class="a" style="left:240px;top:902.2px;width:22px;height:7px;background:#2a2d31;"></div>
<div class="a" style="left:242px;top:905.2px;width:2px;height:1.1px;background:#999;opacity:0.8"></div>
<div class="a" style="left:265px;top:904.8px;width:3px;height:1.6px;background:#ddd;opacity:0.8"></div>
<div class="a" style="left:31.2px;top:910.6px;width:62.5px;height:9.9px;background:#30343a;"></div>
<div class="a" style="left:93.7px;top:910.6px;width:206px;height:9.9px;background:#33373c;"></div>
<div class="a" style="left:31.2px;top:920px;width:268.5px;height:0.5px;background:#272a2e;"></div>
<div class="a" style="left:93.2px;top:910.6px;width:0.5px;height:9.9px;background:#272a2e;"></div>
<div class="a" style="left:138.3px;top:910.6px;width:0.5px;height:9.9px;background:#272a2e;"></div>
<div class="a" style="left:189.5px;top:910.6px;width:0.5px;height:9.9px;background:#272a2e;"></div>
<div class="a" style="left:236px;top:910.6px;width:0.5px;height:9.9px;background:#272a2e;"></div>
<div class="a" style="left:35.5px;top:914px;width:3.2px;height:3.2px;background:#eeeeee;"></div>
<div class="a" style="left:41px;top:914.8px;width:14px;height:1.5px;background:#d0d2d4;opacity:0.8"></div>
<div class="a" style="left:103px;top:914.2px;width:2.8px;height:2.8px;background:#aaaaaa;border-radius:50%"></div>
<div class="a" style="left:106.5px;top:914.9px;width:5px;height:1.3px;background:#d0d0d0;opacity:0.8"></div>
<div class="a" style="left:117.5px;top:914.2px;width:2.8px;height:2.8px;background:#aaaaaa;border-radius:50%"></div>
<div class="a" style="left:121px;top:914.9px;width:5px;height:1.3px;background:#d0d0d0;opacity:0.8"></div>
<div class="a" style="left:142px;top:912.1px;width:23px;height:7px;background:#2a2d31;"></div>
<div class="a" style="left:144px;top:915.1px;width:3px;height:1.1px;background:#777;opacity:0.8"></div>
<div class="a" style="left:167.5px;top:914.7px;width:3px;height:1.6px;background:#ddd;opacity:0.8"></div>
<div class="a" style="left:193px;top:912.1px;width:23px;height:7px;background:#2a2d31;"></div>
<div class="a" style="left:195px;top:915.1px;width:2px;height:1.1px;background:#777;opacity:0.8"></div>
<div class="a" style="left:219px;top:914.7px;width:3px;height:1.6px;background:#ddd;opacity:0.8"></div>
<div class="a" style="left:240px;top:912.1px;width:22px;height:7px;background:#2a2d31;"></div>
<div class="a" style="left:242px;top:915.1px;width:2px;height:1.1px;background:#999;opacity:0.8"></div>
<div class="a" style="left:265px;top:914.7px;width:3px;height:1.6px;background:#ddd;opacity:0.8"></div>
<div class="a" style="left:31.2px;top:920.5px;width:62.5px;height:9.9px;background:#30343a;"></div>
<div class="a" style="left:93.7px;top:920.5px;width:206px;height:9.9px;background:#33373c;"></div>
<div class="a" style="left:31.2px;top:929.9px;width:268.5px;height:0.5px;background:#272a2e;"></div>
<div class="a" style="left:93.2px;top:920.5px;width:0.5px;height:9.9px;background:#272a2e;"></div>
<div class="a" style="left:138.3px;top:920.5px;width:0.5px;height:9.9px;background:#272a2e;"></div>
<div class="a" style="left:189.5px;top:920.5px;width:0.5px;height:9.9px;background:#272a2e;"></div>
<div class="a" style="left:236px;top:920.5px;width:0.5px;height:9.9px;background:#272a2e;"></div>
<div class="a" style="left:35.5px;top:923.9px;width:3.2px;height:3.2px;background:#eeeeee;"></div>
<div class="a" style="left:41px;top:924.7px;width:11px;height:1.5px;background:#d0d2d4;opacity:0.8"></div>
<div class="a" style="left:103px;top:924.1px;width:2.8px;height:2.8px;background:#aaaaaa;border-radius:50%"></div>
<div class="a" style="left:106.5px;top:924.8px;width:5px;height:1.3px;background:#d0d0d0;opacity:0.8"></div>
<div class="a" style="left:117.5px;top:924.1px;width:2.8px;height:2.8px;background:#aaaaaa;border-radius:50%"></div>
<div class="a" style="left:121px;top:924.8px;width:5px;height:1.3px;background:#d0d0d0;opacity:0.8"></div>
<div class="a" style="left:142px;top:922px;width:23px;height:7px;background:#2a2d31;"></div>
<div class="a" style="left:144px;top:925px;width:3px;height:1.1px;background:#777;opacity:0.8"></div>
<div class="a" style="left:167.5px;top:924.6px;width:3px;height:1.6px;background:#ddd;opacity:0.8"></div>
<div class="a" style="left:194px;top:925.5px;width:1px;height:1px;background:#ddd;opacity:0.8"></div>
<div class="a" style="left:241px;top:925.5px;width:1px;height:1px;background:#ddd;opacity:0.8"></div>
<div class="a" style="left:31.2px;top:930.4px;width:62.5px;height:9.9px;background:#30343a;"></div>
<div class="a" style="left:93.7px;top:930.4px;width:206px;height:9.9px;background:#33373c;"></div>
<div class="a" style="left:31.2px;top:939.8px;width:268.5px;height:0.5px;background:#272a2e;"></div>
<div class="a" style="left:93.2px;top:930.4px;width:0.5px;height:9.9px;background:#272a2e;"></div>
<div class="a" style="left:138.3px;top:930.4px;width:0.5px;height:9.9px;background:#272a2e;"></div>
<div class="a" style="left:189.5px;top:930.4px;width:0.5px;height:9.9px;background:#272a2e;"></div>
<div class="a" style="left:236px;top:930.4px;width:0.5px;height:9.9px;background:#272a2e;"></div>
<div class="a" style="left:35.5px;top:933.8px;width:3.2px;height:3.2px;background:#eeeeee;"></div>
<div class="a" style="left:41px;top:934.6px;width:12px;height:1.5px;background:#d0d2d4;opacity:0.8"></div>
<div class="a" style="left:103px;top:934px;width:2.8px;height:2.8px;background:#aaaaaa;border-radius:50%"></div>
<div class="a" style="left:106.5px;top:934.7px;width:5px;height:1.3px;background:#d0d0d0;opacity:0.8"></div>
<div class="a" style="left:117.5px;top:934px;width:2.8px;height:2.8px;background:#aaaaaa;border-radius:50%"></div>
<div class="a" style="left:121px;top:934.7px;width:5px;height:1.3px;background:#d0d0d0;opacity:0.8"></div>
<div class="a" style="left:142px;top:931.9px;width:23px;height:7px;background:#2a2d31;"></div>
<div class="a" style="left:144px;top:934.9px;width:3px;height:1.1px;background:#777;opacity:0.8"></div>
<div class="a" style="left:167.5px;top:934.5px;width:3px;height:1.6px;background:#ddd;opacity:0.8"></div>
<div class="a" style="left:193px;top:931.9px;width:23px;height:7px;background:#2a2d31;"></div>
<div class="a" style="left:195px;top:934.9px;width:2px;height:1.1px;background:#777;opacity:0.8"></div>
<div class="a" style="left:219px;top:934.5px;width:3px;height:1.6px;background:#ddd;opacity:0.8"></div>
<div class="a" style="left:240px;top:931.9px;width:22px;height:7px;background:#2a2d31;"></div>
<div class="a" style="left:242px;top:934.9px;width:2px;height:1.1px;background:#999;opacity:0.8"></div>
<div class="a" style="left:265px;top:934.5px;width:3px;height:1.6px;background:#ddd;opacity:0.8"></div>
<div class="a" style="left:31.2px;top:940px;width:268.5px;height:13.2px;background:#2f3338;"></div>
<div class="a" style="left:244px;top:943.5px;width:14px;height:6px;background:#55595e;"></div>
<div class="a" style="left:247.5px;top:946px;width:7px;height:1.2px;background:#ccc;opacity:0.8"></div>
<div class="a" style="left:262px;top:943.5px;width:14px;height:6px;background:#55595e;"></div>
<div class="a" style="left:265.5px;top:946px;width:7px;height:1.2px;background:#ccc;opacity:0.8"></div>
<div class="a" style="left:281px;top:943.5px;width:14px;height:6px;background:#55595e;"></div>
<div class="a" style="left:284.5px;top:946px;width:7px;height:1.2px;background:#ccc;opacity:0.8"></div>
<div class="a" style="left:293px;top:750px;width:5px;height:190px;background:#2b2e33;"></div>
<div class="a" style="left:293.5px;top:751px;width:4px;height:6px;background:#cdcdcd;"></div>
<div class="a" style="left:293.5px;top:933px;width:4px;height:6px;background:#8a8a8a;"></div>
<div class="a" style="left:229.2px;top:761.2px;width:385px;height:129.6px;background:#d9dadb;"></div>
<div class="a" style="left:230.6px;top:762.6px;width:382.6px;height:127px;background:#343840;"></div>
<div class="a" style="left:230.6px;top:762.6px;width:382.6px;height:22.1px;background:#2b2e33;"></div>
<svg class="a" style="left:232.5px;top:771px" width="8" height="8" viewBox="0 0 8 8"><circle cx="4" cy="4" r="2.7" fill="none" stroke="#ef8a22" stroke-width="1.6"/><circle cx="4" cy="4" r="1" fill="#ef8a22"/></svg>
<div class="a" style="left:242px;top:770.8px;font-size:8.6px;line-height:1;color:#f4f4f4;white-space:nowrap;font-weight:bold;letter-spacing:-0.3px">Zenius</div>
<svg class="a" style="left:290px;top:767.5px" width="8.5" height="9" viewBox="0 0 8.5 9"><rect x="0.5" y="0.5" width="7.5" height="5.58" fill="none" stroke="#8d9094" stroke-width="0.8"/><path d="M4.25,6.08 V8.2 M1.7000000000000002,8.5 H6.800000000000001" stroke="#8d9094" stroke-width="0.8"/></svg>
<div class="a" style="left:289.2px;top:777.7px;width:10.1px;height:1px;background:#8d9094;opacity:0.6000000000000001"></div>
<svg class="a" style="left:308.25px;top:767.5px" width="8.5" height="9" viewBox="0 0 8.5 9"><circle cx="4.25" cy="1.4" r="1" fill="none" stroke="#8d9094" stroke-width="0.8"/><path d="M4.25,2.4 V4.95 M1,7.5 L4.25,4.95 L7.5,7.5" stroke="#8d9094" stroke-width="0.8" fill="none"/><rect x="0" y="7" width="2" height="1.6" fill="#8d9094"/><rect x="6.5" y="7" width="2" height="1.6" fill="#8d9094"/></svg>
<div class="a" style="left:307.45px;top:777.7px;width:10.1px;height:1px;background:#8d9094;opacity:0.6000000000000001"></div>
<svg class="a" style="left:326.5px;top:767.5px" width="8.5" height="9" viewBox="0 0 8.5 9"><rect x="1" y="0.5" width="6.5" height="8" fill="none" stroke="#e6e6e6" stroke-width="0.8"/><path d="M1,3.15 H7.5 M1,5.8500000000000005 H7.5" stroke="#e6e6e6" stroke-width="0.8"/></svg>
<div class="a" style="left:325.7px;top:777.7px;width:10.1px;height:1px;background:#e6e6e6;opacity:0.6000000000000001"></div>
<svg class="a" style="left:344.75px;top:767.5px" width="8.5" height="9" viewBox="0 0 8.5 9"><rect x="2.55" y="0.5" width="3.4000000000000004" height="3.15" fill="none" stroke="#8d9094" stroke-width="0.8"/><rect x="0.5" y="4.95" width="7.5" height="3.6" fill="none" stroke="#8d9094" stroke-width="0.8"/><path d="M4.25,3.42 V4.95" stroke="#8d9094" stroke-width="0.8"/></svg>
<div class="a" style="left:343.95px;top:777.7px;width:10.1px;height:1px;background:#8d9094;opacity:0.6000000000000001"></div>
<svg class="a" style="left:363px;top:767.5px" width="8.5" height="9" viewBox="0 0 8.5 9"><ellipse cx="4.25" cy="1.5" rx="3.65" ry="1" fill="none" stroke="#8d9094" stroke-width="0.8"/><path d="M0.6,1.5 V7.5 Q4.25,9.3 7.9,7.5 V1.5" fill="none" stroke="#8d9094" stroke-width="0.8"/></svg>
<div class="a" style="left:362.2px;top:777.7px;width:10.1px;height:1px;background:#8d9094;opacity:0.6000000000000001"></div>
<svg class="a" style="left:381.25px;top:767.5px" width="8.5" height="9" viewBox="0 0 8.5 9"><rect x="0.5" y="0.5" width="7.5" height="8" fill="none" stroke="#8d9094" stroke-width="0.8"/><path d="M4.25,0.5 V8.5 M0.5,4.5 H8.0" stroke="#8d9094" stroke-width="0.8"/></svg>
<div class="a" style="left:380.45px;top:777.7px;width:10.1px;height:1px;background:#8d9094;opacity:0.6000000000000001"></div>
<svg class="a" style="left:399.5px;top:767.5px" width="8.5" height="9" viewBox="0 0 8.5 9"><circle cx="4.25" cy="4.5" r="3.75" fill="none" stroke="#8d9094" stroke-width="0.8"/><path d="M0.8,4.5 H7.7" stroke="#8d9094" stroke-width="0.8"/></svg>
<div class="a" style="left:398.7px;top:777.7px;width:10.1px;height:1px;background:#8d9094;opacity:0.6000000000000001"></div>
<svg class="a" style="left:417.75px;top:767.5px" width="8.5" height="9" viewBox="0 0 8.5 9"><path d="M1,0.5 H6.5 L8.0,2 V8.5 H1 Z" fill="none" stroke="#8d9094" stroke-width="0.8"/></svg>
<div class="a" style="left:416.95px;top:777.7px;width:10.1px;height:1px;background:#8d9094;opacity:0.6000000000000001"></div>
<svg class="a" style="left:436px;top:767.5px" width="8.5" height="9" viewBox="0 0 8.5 9"><path d="M0.5,8.2 H8.0 M1,7.8 L7.5,1" stroke="#8d9094" stroke-width="0.8" fill="none"/></svg>
<div class="a" style="left:435.2px;top:777.7px;width:10.1px;height:1px;background:#8d9094;opacity:0.6000000000000001"></div>
<svg class="a" style="left:454.25px;top:767.5px" width="8.5" height="9" viewBox="0 0 8.5 9"><rect x="0.5" y="0.5" width="7.5" height="5.58" fill="none" stroke="#8d9094" stroke-width="0.8"/><path d="M4.25,6.08 V8.2 M1.7000000000000002,8.5 H6.800000000000001" stroke="#8d9094" stroke-width="0.8"/></svg>
<div class="a" style="left:453.45px;top:777.7px;width:10.1px;height:1px;background:#8d9094;opacity:0.6000000000000001"></div>
<svg class="a" style="left:472.5px;top:767.5px" width="8.5" height="9" viewBox="0 0 8.5 9"><rect x="1" y="0.5" width="6.5" height="8" fill="none" stroke="#8d9094" stroke-width="0.8"/><path d="M1,3.15 H7.5 M1,5.8500000000000005 H7.5" stroke="#8d9094" stroke-width="0.8"/></svg>
<div class="a" style="left:471.7px;top:777.7px;width:10.1px;height:1px;background:#8d9094;opacity:0.6000000000000001"></div>
<svg class="a" style="left:490.75px;top:767.5px" width="8.5" height="9" viewBox="0 0 8.5 9"><rect x="2.55" y="0.5" width="3.4000000000000004" height="3.15" fill="none" stroke="#8d9094" stroke-width="0.8"/><rect x="0.5" y="4.95" width="7.5" height="3.6" fill="none" stroke="#8d9094" stroke-width="0.8"/><path d="M4.25,3.42 V4.95" stroke="#8d9094" stroke-width="0.8"/></svg>
<div class="a" style="left:489.95px;top:777.7px;width:10.1px;height:1px;background:#8d9094;opacity:0.6000000000000001"></div>
<svg class="a" style="left:509px;top:767.5px" width="8.5" height="9" viewBox="0 0 8.5 9"><ellipse cx="4.25" cy="1.5" rx="3.65" ry="1" fill="none" stroke="#8d9094" stroke-width="0.8"/><path d="M0.6,1.5 V7.5 Q4.25,9.3 7.9,7.5 V1.5" fill="none" stroke="#8d9094" stroke-width="0.8"/></svg>
<div class="a" style="left:508.2px;top:777.7px;width:10.1px;height:1px;background:#8d9094;opacity:0.6000000000000001"></div>
<svg class="a" style="left:527.25px;top:767.5px" width="8.5" height="9" viewBox="0 0 8.5 9"><rect x="0.5" y="0.5" width="7.5" height="8" fill="none" stroke="#8d9094" stroke-width="0.8"/><path d="M4.25,0.5 V8.5 M0.5,4.5 H8.0" stroke="#8d9094" stroke-width="0.8"/></svg>
<div class="a" style="left:526.45px;top:777.7px;width:10.1px;height:1px;background:#8d9094;opacity:0.6000000000000001"></div>
<svg class="a" style="left:545.5px;top:767.5px" width="8.5" height="9" viewBox="0 0 8.5 9"><circle cx="4.25" cy="4.5" r="3.75" fill="none" stroke="#8d9094" stroke-width="0.8"/><path d="M0.8,4.5 H7.7" stroke="#8d9094" stroke-width="0.8"/></svg>
<div class="a" style="left:544.7px;top:777.7px;width:10.1px;height:1px;background:#8d9094;opacity:0.6000000000000001"></div>
<svg class="a" style="left:563.75px;top:767.5px" width="8.5" height="9" viewBox="0 0 8.5 9"><path d="M1,0.5 H6.5 L8.0,2 V8.5 H1 Z" fill="none" stroke="#8d9094" stroke-width="0.8"/></svg>
<div class="a" style="left:562.95px;top:777.7px;width:10.1px;height:1px;background:#8d9094;opacity:0.6000000000000001"></div>
<svg class="a" style="left:582px;top:767.5px" width="8.5" height="9" viewBox="0 0 8.5 9"><path d="M0.5,8.2 H8.0 M1,7.8 L7.5,1" stroke="#8d9094" stroke-width="0.8" fill="none"/></svg>
<div class="a" style="left:581.2px;top:777.7px;width:10.1px;height:1px;background:#8d9094;opacity:0.6000000000000001"></div>
<svg class="a" style="left:600.25px;top:767.5px" width="8.5" height="9" viewBox="0 0 8.5 9"><rect x="0.5" y="0.5" width="7.5" height="5.58" fill="none" stroke="#8d9094" stroke-width="0.8"/><path d="M4.25,6.08 V8.2 M1.7000000000000002,8.5 H6.800000000000001" stroke="#8d9094" stroke-width="0.8"/></svg>
<div class="a" style="left:599.45px;top:777.7px;width:10.1px;height:1px;background:#8d9094;opacity:0.6000000000000001"></div>
<div class="a" style="left:490px;top:765.6px;width:10px;height:1.1px;background:#8a8d90;opacity:0.8"></div>
<div class="a" style="left:502.3px;top:765.6px;width:10px;height:1.1px;background:#8a8d90;opacity:0.8"></div>
<div class="a" style="left:514.6px;top:765.6px;width:10px;height:1.1px;background:#8a8d90;opacity:0.8"></div>
<div class="a" style="left:526.9px;top:765.6px;width:10px;height:1.1px;background:#8a8d90;opacity:0.8"></div>
<div class="a" style="left:539.2px;top:765.6px;width:10px;height:1.1px;background:#8a8d90;opacity:0.8"></div>
<div class="a" style="left:551.5px;top:765.6px;width:10px;height:1.1px;background:#8a8d90;opacity:0.8"></div>
<div class="a" style="left:563.8px;top:765.6px;width:10px;height:1.1px;background:#8a8d90;opacity:0.8"></div>
<div class="a" style="left:576.1px;top:765.6px;width:10px;height:1.1px;background:#8a8d90;opacity:0.8"></div>
<div class="a" style="left:588.4px;top:765.6px;width:10px;height:1.1px;background:#8a8d90;opacity:0.8"></div>
<div class="a" style="left:600.7px;top:765.6px;width:10px;height:1.1px;background:#8a8d90;opacity:0.8"></div>
<div class="a" style="left:230.6px;top:784.7px;width:382.6px;height:17.6px;background:#1c1f22;"></div>
<div class="a" style="left:233.5px;top:789.6px;width:8px;height:1.7px;background:#2fc39c;opacity:0.8"></div>
<div class="a" style="left:244px;top:789.6px;width:2px;height:1.7px;background:#2fc39c;opacity:0.8"></div>
<div class="a" style="left:249px;top:789.6px;width:8px;height:1.7px;background:#2fc39c;opacity:0.8"></div>
<div class="a" style="left:233.5px;top:798.2px;width:6px;height:1.5px;background:#d8d8d8;opacity:0.8"></div>
<div class="a" style="left:246px;top:798.2px;width:13px;height:1.5px;background:#aaaaaa;opacity:0.8"></div>
<div class="a" style="left:230.6px;top:801.5px;width:13px;height:0.9px;background:#2fc39c;"></div>
<div class="a" style="left:230.6px;top:802.3px;width:382.6px;height:8.4px;background:#2f3338;"></div>
<div class="a" style="left:232px;top:803.7px;width:18px;height:5.8px;background:#55595e;"></div>
<div class="a" style="left:234px;top:806.2px;width:13px;height:1.2px;background:#cccccc;opacity:0.8"></div>
<div class="a" style="left:230.6px;top:810.7px;width:382.6px;height:9.1px;background:#40454b;"></div>
<div class="a" style="left:275.8px;top:810.7px;width:0.5px;height:35.1px;background:#30343a;"></div>
<div class="a" style="left:343.3px;top:810.7px;width:0.5px;height:35.1px;background:#30343a;"></div>
<div class="a" style="left:396.5px;top:810.7px;width:0.5px;height:35.1px;background:#30343a;"></div>
<div class="a" style="left:430px;top:810.7px;width:0.5px;height:35.1px;background:#30343a;"></div>
<div class="a" style="left:572.5px;top:810.7px;width:0.5px;height:35.1px;background:#30343a;"></div>
<div class="a" style="left:602.4px;top:810.7px;width:0.5px;height:35.1px;background:#30343a;"></div>
<div class="a" style="left:250px;top:814.8px;width:9px;height:1.3px;background:#d0d0d0;opacity:0.8"></div>
<div class="a" style="left:302px;top:814.8px;width:10px;height:1.3px;background:#d0d0d0;opacity:0.8"></div>
<div class="a" style="left:369px;top:814.8px;width:2px;height:1.3px;background:#d0d0d0;opacity:0.8"></div>
<div class="a" style="left:411px;top:814.8px;width:4px;height:1.3px;background:#d0d0d0;opacity:0.8"></div>
<div class="a" style="left:496px;top:814.8px;width:6px;height:1.3px;background:#d0d0d0;opacity:0.8"></div>
<div class="a" style="left:585px;top:814.8px;width:6px;height:1.3px;background:#d0d0d0;opacity:0.8"></div>
<div class="a" style="left:230.6px;top:819.8px;width:382.6px;height:8.67px;background:#363a40;"></div>
<div class="a" style="left:230.6px;top:828.2px;width:382.6px;height:0.4px;background:#2c2f33;"></div>
<div class="a" style="left:237px;top:823.8px;width:31px;height:1.5px;background:#e6e6e6;opacity:0.8"></div>
<div class="a" style="left:279px;top:823.8px;width:22px;height:1.5px;background:#e6e6e6;opacity:0.8"></div>
<div class="a" style="left:346px;top:823.8px;width:21px;height:1.5px;background:#e6e6e6;opacity:0.8"></div>
<div class="a" style="left:410px;top:823.8px;width:6px;height:1.5px;background:#e6e6e6;opacity:0.8"></div>
<div class="a" style="left:431px;top:823.8px;width:140px;height:1.5px;background:#e6e6e6;opacity:0.8"></div>
<div class="a" style="left:585px;top:823.8px;width:6px;height:1.5px;background:#e6e6e6;opacity:0.8"></div>
<div class="a" style="left:230.6px;top:828.47px;width:382.6px;height:8.67px;background:#33373c;"></div>
<div class="a" style="left:230.6px;top:836.87px;width:382.6px;height:0.4px;background:#2c2f33;"></div>
<div class="a" style="left:237px;top:832.47px;width:31px;height:1.5px;background:#e6e6e6;opacity:0.8"></div>
<div class="a" style="left:279px;top:832.47px;width:22px;height:1.5px;background:#e6e6e6;opacity:0.8"></div>
<div class="a" style="left:346px;top:832.47px;width:21px;height:1.5px;background:#e6e6e6;opacity:0.8"></div>
<div class="a" style="left:410px;top:832.47px;width:6px;height:1.5px;background:#e6e6e6;opacity:0.8"></div>
<div class="a" style="left:431px;top:832.47px;width:140px;height:1.5px;background:#e6e6e6;opacity:0.8"></div>
<div class="a" style="left:585px;top:832.47px;width:6px;height:1.5px;background:#e6e6e6;opacity:0.8"></div>
<div class="a" style="left:230.6px;top:837.14px;width:382.6px;height:8.67px;background:#363a40;"></div>
<div class="a" style="left:230.6px;top:845.54px;width:382.6px;height:0.4px;background:#2c2f33;"></div>
<div class="a" style="left:237px;top:841.14px;width:31px;height:1.5px;background:#e6e6e6;opacity:0.8"></div>
<div class="a" style="left:279px;top:841.14px;width:22px;height:1.5px;background:#e6e6e6;opacity:0.8"></div>
<div class="a" style="left:346px;top:841.14px;width:21px;height:1.5px;background:#e6e6e6;opacity:0.8"></div>
<div class="a" style="left:410px;top:841.14px;width:6px;height:1.5px;background:#e6e6e6;opacity:0.8"></div>
<div class="a" style="left:431px;top:841.14px;width:140px;height:1.5px;background:#e6e6e6;opacity:0.8"></div>
<div class="a" style="left:585px;top:841.14px;width:6px;height:1.5px;background:#e6e6e6;opacity:0.8"></div>
<div class="a" style="left:667.4px;top:698.2px;width:405.6px;height:190.5px;background:#2b2e33;"></div>
<div class="a" style="left:667.4px;top:698.2px;width:405.6px;height:17.6px;background:#2c2f33;"></div>
<svg class="a" style="left:671px;top:703.65px" width="8.8" height="8.8" viewBox="0 0 8.8 8.8"><circle cx="4.4" cy="4.4" r="2.8600000000000003" fill="none" stroke="#e8821e" stroke-width="1.7600000000000002"/><circle cx="4.4" cy="4.4" r="1.2100000000000002" fill="#e8821e"/></svg>
<div class="a" style="left:680.35px;top:703.87px;font-size:7.7px;line-height:1;color:#f2f2f2;white-space:nowrap;font-weight:bold;letter-spacing:-0.2px">Zenius</div>
<svg class="a" style="left:717px;top:701.5px" width="6.5" height="8" viewBox="0 0 6.5 8"><rect x="0.5" y="0.5" width="5.5" height="4.96" fill="none" stroke="#e6e6e6" stroke-width="0.8"/><path d="M3.25,5.46 V7.2 M1.3,7.5 H5.2" stroke="#e6e6e6" stroke-width="0.8"/></svg>
<div class="a" style="left:716.2px;top:710.7px;width:8.1px;height:1px;background:#e6e6e6;opacity:0.6000000000000001"></div>
<svg class="a" style="left:731.45px;top:701.5px" width="6.5" height="8" viewBox="0 0 6.5 8"><circle cx="3.25" cy="1.4" r="1" fill="none" stroke="#8d9094" stroke-width="0.8"/><path d="M3.25,2.4 V4.4 M1,6.5 L3.25,4.4 L5.5,6.5" stroke="#8d9094" stroke-width="0.8" fill="none"/><rect x="0" y="6" width="2" height="1.6" fill="#8d9094"/><rect x="4.5" y="6" width="2" height="1.6" fill="#8d9094"/></svg>
<div class="a" style="left:730.65px;top:710.7px;width:8.1px;height:1px;background:#8d9094;opacity:0.6000000000000001"></div>
<svg class="a" style="left:745.9px;top:701.5px" width="6.5" height="8" viewBox="0 0 6.5 8"><rect x="1" y="0.5" width="4.5" height="7" fill="none" stroke="#8d9094" stroke-width="0.8"/><path d="M1,2.8 H5.5 M1,5.2 H5.5" stroke="#8d9094" stroke-width="0.8"/></svg>
<div class="a" style="left:745.1px;top:710.7px;width:8.1px;height:1px;background:#8d9094;opacity:0.6000000000000001"></div>
<svg class="a" style="left:760.35px;top:701.5px" width="6.5" height="8" viewBox="0 0 6.5 8"><rect x="1.95" y="0.5" width="2.6" height="2.8" fill="none" stroke="#8d9094" stroke-width="0.8"/><rect x="0.5" y="4.4" width="5.5" height="3.2" fill="none" stroke="#8d9094" stroke-width="0.8"/><path d="M3.25,3.04 V4.4" stroke="#8d9094" stroke-width="0.8"/></svg>
<div class="a" style="left:759.55px;top:710.7px;width:8.1px;height:1px;background:#8d9094;opacity:0.6000000000000001"></div>
<svg class="a" style="left:774.8px;top:701.5px" width="6.5" height="8" viewBox="0 0 6.5 8"><ellipse cx="3.25" cy="1.5" rx="2.65" ry="1" fill="none" stroke="#8d9094" stroke-width="0.8"/><path d="M0.6,1.5 V6.5 Q3.25,8.3 5.9,6.5 V1.5" fill="none" stroke="#8d9094" stroke-width="0.8"/></svg>
<div class="a" style="left:774px;top:710.7px;width:8.1px;height:1px;background:#8d9094;opacity:0.6000000000000001"></div>
<svg class="a" style="left:789.25px;top:701.5px" width="6.5" height="8" viewBox="0 0 6.5 8"><rect x="0.5" y="0.5" width="5.5" height="7" fill="none" stroke="#8d9094" stroke-width="0.8"/><path d="M3.25,0.5 V7.5 M0.5,4.0 H6.0" stroke="#8d9094" stroke-width="0.8"/></svg>
<div class="a" style="left:788.45px;top:710.7px;width:8.1px;height:1px;background:#8d9094;opacity:0.6000000000000001"></div>
<svg class="a" style="left:803.7px;top:701.5px" width="6.5" height="8" viewBox="0 0 6.5 8"><circle cx="3.25" cy="4.0" r="2.75" fill="none" stroke="#8d9094" stroke-width="0.8"/><path d="M0.8,4.0 H5.7" stroke="#8d9094" stroke-width="0.8"/></svg>
<div class="a" style="left:802.9px;top:710.7px;width:8.1px;height:1px;background:#8d9094;opacity:0.6000000000000001"></div>
<svg class="a" style="left:818.15px;top:701.5px" width="6.5" height="8" viewBox="0 0 6.5 8"><path d="M1,0.5 H4.5 L6.0,2 V7.5 H1 Z" fill="none" stroke="#8d9094" stroke-width="0.8"/></svg>
<div class="a" style="left:817.35px;top:710.7px;width:8.1px;height:1px;background:#8d9094;opacity:0.6000000000000001"></div>
<svg class="a" style="left:832.6px;top:701.5px" width="6.5" height="8" viewBox="0 0 6.5 8"><path d="M0.5,7.2 H6.0 M1,6.8 L5.5,1" stroke="#8d9094" stroke-width="0.8" fill="none"/></svg>
<div class="a" style="left:831.8px;top:710.7px;width:8.1px;height:1px;background:#8d9094;opacity:0.6000000000000001"></div>
<svg class="a" style="left:847.05px;top:701.5px" width="6.5" height="8" viewBox="0 0 6.5 8"><rect x="0.5" y="0.5" width="5.5" height="4.96" fill="none" stroke="#8d9094" stroke-width="0.8"/><path d="M3.25,5.46 V7.2 M1.3,7.5 H5.2" stroke="#8d9094" stroke-width="0.8"/></svg>
<div class="a" style="left:846.25px;top:710.7px;width:8.1px;height:1px;background:#8d9094;opacity:0.6000000000000001"></div>
<svg class="a" style="left:861.5px;top:701.5px" width="6.5" height="8" viewBox="0 0 6.5 8"><rect x="1" y="0.5" width="4.5" height="7" fill="none" stroke="#8d9094" stroke-width="0.8"/><path d="M1,2.8 H5.5 M1,5.2 H5.5" stroke="#8d9094" stroke-width="0.8"/></svg>
<div class="a" style="left:860.7px;top:710.7px;width:8.1px;height:1px;background:#8d9094;opacity:0.6000000000000001"></div>
<svg class="a" style="left:875.95px;top:701.5px" width="6.5" height="8" viewBox="0 0 6.5 8"><rect x="1.95" y="0.5" width="2.6" height="2.8" fill="none" stroke="#8d9094" stroke-width="0.8"/><rect x="0.5" y="4.4" width="5.5" height="3.2" fill="none" stroke="#8d9094" stroke-width="0.8"/><path d="M3.25,3.04 V4.4" stroke="#8d9094" stroke-width="0.8"/></svg>
<div class="a" style="left:875.15px;top:710.7px;width:8.1px;height:1px;background:#8d9094;opacity:0.6000000000000001"></div>
<svg class="a" style="left:890.4px;top:701.5px" width="6.5" height="8" viewBox="0 0 6.5 8"><ellipse cx="3.25" cy="1.5" rx="2.65" ry="1" fill="none" stroke="#8d9094" stroke-width="0.8"/><path d="M0.6,1.5 V6.5 Q3.25,8.3 5.9,6.5 V1.5" fill="none" stroke="#8d9094" stroke-width="0.8"/></svg>
<div class="a" style="left:889.6px;top:710.7px;width:8.1px;height:1px;background:#8d9094;opacity:0.6000000000000001"></div>
<svg class="a" style="left:904.85px;top:701.5px" width="6.5" height="8" viewBox="0 0 6.5 8"><rect x="0.5" y="0.5" width="5.5" height="7" fill="none" stroke="#8d9094" stroke-width="0.8"/><path d="M3.25,0.5 V7.5 M0.5,4.0 H6.0" stroke="#8d9094" stroke-width="0.8"/></svg>
<div class="a" style="left:904.05px;top:710.7px;width:8.1px;height:1px;background:#8d9094;opacity:0.6000000000000001"></div>
<svg class="a" style="left:919.3px;top:701.5px" width="6.5" height="8" viewBox="0 0 6.5 8"><circle cx="3.25" cy="4.0" r="2.75" fill="none" stroke="#8d9094" stroke-width="0.8"/><path d="M0.8,4.0 H5.7" stroke="#8d9094" stroke-width="0.8"/></svg>
<div class="a" style="left:918.5px;top:710.7px;width:8.1px;height:1px;background:#8d9094;opacity:0.6000000000000001"></div>
<svg class="a" style="left:933.75px;top:701.5px" width="6.5" height="8" viewBox="0 0 6.5 8"><path d="M1,0.5 H4.5 L6.0,2 V7.5 H1 Z" fill="none" stroke="#8d9094" stroke-width="0.8"/></svg>
<div class="a" style="left:932.95px;top:710.7px;width:8.1px;height:1px;background:#8d9094;opacity:0.6000000000000001"></div>
<svg class="a" style="left:948.2px;top:701.5px" width="6.5" height="8" viewBox="0 0 6.5 8"><path d="M0.5,7.2 H6.0 M1,6.8 L5.5,1" stroke="#8d9094" stroke-width="0.8" fill="none"/></svg>
<div class="a" style="left:947.4px;top:710.7px;width:8.1px;height:1px;background:#8d9094;opacity:0.6000000000000001"></div>
<div class="a" style="left:840px;top:700.6px;width:13px;height:1.1px;background:#7c7f83;opacity:0.8"></div>
<div class="a" style="left:856px;top:700.6px;width:13px;height:1.1px;background:#7c7f83;opacity:0.8"></div>
<div class="a" style="left:872px;top:700.6px;width:13px;height:1.1px;background:#7c7f83;opacity:0.8"></div>
<div class="a" style="left:888px;top:700.6px;width:13px;height:1.1px;background:#7c7f83;opacity:0.8"></div>
<div class="a" style="left:904px;top:700.6px;width:13px;height:1.1px;background:#7c7f83;opacity:0.8"></div>
<div class="a" style="left:920px;top:700.6px;width:13px;height:1.1px;background:#7c7f83;opacity:0.8"></div>
<div class="a" style="left:936px;top:700.6px;width:13px;height:1.1px;background:#7c7f83;opacity:0.8"></div>
<div class="a" style="left:952px;top:700.6px;width:13px;height:1.1px;background:#7c7f83;opacity:0.8"></div>
<div class="a" style="left:968px;top:700.6px;width:13px;height:1.1px;background:#7c7f83;opacity:0.8"></div>
<div class="a" style="left:984px;top:700.6px;width:13px;height:1.1px;background:#7c7f83;opacity:0.8"></div>
<div class="a" style="left:1000px;top:700.6px;width:13px;height:1.1px;background:#7c7f83;opacity:0.8"></div>
<div class="a" style="left:1016px;top:700.6px;width:13px;height:1.1px;background:#7c7f83;opacity:0.8"></div>
<div class="a" style="left:1032px;top:700.6px;width:13px;height:1.1px;background:#7c7f83;opacity:0.8"></div>
<div class="a" style="left:1048px;top:700.6px;width:13px;height:1.1px;background:#7c7f83;opacity:0.8"></div>
<div class="a" style="left:1015px;top:706.5px;width:32px;height:4.5px;background:#3b3e42;"></div>
<div class="a" style="left:1017px;top:708px;width:14px;height:1.3px;background:#9a9da0;opacity:0.8"></div>
<div class="a" style="left:1051px;top:707px;width:2.6px;height:3.2px;background:#cfd1d3;"></div>
<div class="a" style="left:1056px;top:707px;width:2.6px;height:3.2px;background:#cfd1d3;"></div>
<div class="a" style="left:1061px;top:707px;width:2.6px;height:3.2px;background:#cfd1d3;"></div>
<div class="a" style="left:1066px;top:707px;width:2.6px;height:3.2px;background:#cfd1d3;"></div>
<div class="a" style="left:667.4px;top:715.8px;width:405.6px;height:8.2px;background:#1c1f22;"></div>
<div class="a" style="left:673px;top:719.3px;width:6px;height:1.7px;background:#2fc39c;opacity:0.8"></div>
<div class="a" style="left:681px;top:719.3px;width:2px;height:1.7px;background:#2fc39c;opacity:0.8"></div>
<div class="a" style="left:685px;top:719.3px;width:6px;height:1.7px;background:#2fc39c;opacity:0.8"></div>
<div class="a" style="left:667.4px;top:724px;width:405.6px;height:6px;background:#202326;"></div>
<div class="a" style="left:673px;top:726.3px;width:10px;height:1.3px;background:#b5b8bb;opacity:0.8"></div>
<div class="a" style="left:688px;top:726.3px;width:9px;height:1.3px;background:#b5b8bb;opacity:0.8"></div>
<div class="a" style="left:703px;top:726.3px;width:14px;height:1.3px;background:#b5b8bb;opacity:0.8"></div>
<div class="a" style="left:721px;top:726.3px;width:11px;height:1.3px;background:#b5b8bb;opacity:0.8"></div>
<div class="a" style="left:736px;top:726.3px;width:12px;height:1.3px;background:#b5b8bb;opacity:0.8"></div>
<div class="a" style="left:752px;top:726.3px;width:8px;height:1.3px;background:#b5b8bb;opacity:0.8"></div>
<div class="a" style="left:764px;top:726.3px;width:11px;height:1.3px;background:#b5b8bb;opacity:0.8"></div>
<div class="a" style="left:670px;top:729.3px;width:16px;height:0.9px;background:#2fc39c;"></div>
<div class="a" style="left:670px;top:730px;width:26.4px;height:68px;background:#3a3e44;"></div>
<div class="a" style="left:696.4px;top:730px;width:376.6px;height:68px;background:#2c2f34;"></div>
<div class="a" style="left:670px;top:736.6px;width:403px;height:0.4px;background:#24272b;"></div>
<div class="a" style="left:672px;top:732.5px;width:8px;height:1.3px;background:#c6c8cb;opacity:0.8"></div>
<div class="a" style="left:670px;top:743.45px;width:403px;height:0.4px;background:#24272b;"></div>
<div class="a" style="left:672px;top:739.35px;width:13px;height:1.3px;background:#c6c8cb;opacity:0.8"></div>
<div class="a" style="left:670px;top:750.3px;width:403px;height:0.4px;background:#24272b;"></div>
<div class="a" style="left:672px;top:746.2px;width:8px;height:1.3px;background:#c6c8cb;opacity:0.8"></div>
<div class="a" style="left:670px;top:757.15px;width:403px;height:0.4px;background:#24272b;"></div>
<div class="a" style="left:672px;top:753.05px;width:8px;height:1.3px;background:#c6c8cb;opacity:0.8"></div>
<div class="a" style="left:670px;top:764px;width:403px;height:0.4px;background:#24272b;"></div>
<div class="a" style="left:672px;top:759.9px;width:13px;height:1.3px;background:#c6c8cb;opacity:0.8"></div>
<div class="a" style="left:670px;top:770.85px;width:403px;height:0.4px;background:#24272b;"></div>
<div class="a" style="left:672px;top:766.75px;width:13px;height:1.3px;background:#c6c8cb;opacity:0.8"></div>
<div class="a" style="left:670px;top:777.7px;width:403px;height:0.4px;background:#24272b;"></div>
<div class="a" style="left:672px;top:773.6px;width:4px;height:1.3px;background:#c6c8cb;opacity:0.8"></div>
<div class="a" style="left:670px;top:784.55px;width:403px;height:0.4px;background:#24272b;"></div>
<div class="a" style="left:672px;top:780.45px;width:5px;height:1.3px;background:#c6c8cb;opacity:0.8"></div>
<div class="a" style="left:670px;top:791.4px;width:403px;height:0.4px;background:#24272b;"></div>
<div class="a" style="left:672px;top:787.3px;width:5px;height:1.3px;background:#c6c8cb;opacity:0.8"></div>
<div class="a" style="left:670px;top:798.25px;width:403px;height:0.4px;background:#24272b;"></div>
<div class="a" style="left:748px;top:731.2px;width:13px;height:4.4px;background:#55595e;"></div>
<div class="a" style="left:764px;top:731.2px;width:5px;height:4.4px;background:#55595e;"></div>
<div class="a" style="left:773px;top:731.2px;width:14px;height:4.4px;background:#55595e;"></div>
<div class="a" style="left:790px;top:731.2px;width:10px;height:4.4px;background:#55595e;"></div>
<div class="a" style="left:698px;top:738.2px;width:12px;height:4.4px;background:#4d5156;"></div>
<div class="a" style="left:698px;top:745px;width:16px;height:4.4px;background:#3e4248;"></div>
<div class="a" style="left:716px;top:745px;width:3px;height:4.4px;background:#ccc;"></div>
<div class="a" style="left:722px;top:745px;width:9px;height:4.4px;background:#3e4248;"></div>
<div class="a" style="left:735px;top:745px;width:9px;height:4.4px;background:#3e4248;"></div>
<div class="a" style="left:750px;top:745px;width:15px;height:4.4px;background:#3e4248;"></div>
<div class="a" style="left:769px;top:745px;width:3px;height:4.4px;background:#ccc;"></div>
<div class="a" style="left:775px;top:745px;width:10px;height:4.4px;background:#3e4248;"></div>
<div class="a" style="left:788px;top:745px;width:9px;height:4.4px;background:#3e4248;"></div>
<div class="a" style="left:800px;top:745px;width:5.5px;height:4.4px;background:#2e9a30;"></div>
<div class="a" style="left:807px;top:745px;width:6px;height:4.4px;background:#5d6165;"></div>
<div class="a" style="left:816px;top:745px;width:7px;height:4.4px;background:#5d6165;"></div>
<div class="a" style="left:698px;top:752.3px;width:2.4px;height:2.4px;background:#2a7fe0;"></div>
<div class="a" style="left:701.5px;top:752.8px;width:4px;height:1.2px;background:#ccc;opacity:0.8"></div>
<div class="a" style="left:707.5px;top:751.6px;width:7.2px;height:4px;background:#e23c3c;"></div>
<div class="a" style="left:715px;top:751.6px;width:7.2px;height:4px;background:#7b7f83;"></div>
<div class="a" style="left:722.5px;top:751.6px;width:7.2px;height:4px;background:#7b7f83;"></div>
<div class="a" style="left:730px;top:751.6px;width:7.2px;height:4px;background:#7b7f83;"></div>
<div class="a" style="left:737.5px;top:751.6px;width:7.2px;height:4px;background:#7b7f83;"></div>
<div class="a" style="left:745px;top:751.6px;width:7.2px;height:4px;background:#7b7f83;"></div>
<div class="a" style="left:752.5px;top:751.6px;width:7.2px;height:4px;background:#2f8ef0;"></div>
<div class="a" style="left:768px;top:752.3px;width:2.6px;height:2.6px;background:#eeeeee;"></div>
<div class="a" style="left:772px;top:752.8px;width:12px;height:1.2px;background:#ccc;opacity:0.8"></div>
<div class="a" style="left:698px;top:758.7px;width:9px;height:4.4px;background:#3e4248;"></div>
<div class="a" style="left:711px;top:758.7px;width:10px;height:4.4px;background:#3e4248;"></div>
<div class="a" style="left:726px;top:758.7px;width:9px;height:4.4px;background:#3e4248;"></div>
<div class="a" style="left:740px;top:758.7px;width:8px;height:4.4px;background:#3e4248;"></div>
<div class="a" style="left:698px;top:765.6px;width:8px;height:4.4px;background:#55595e;"></div>
<div class="a" style="left:698px;top:772.4px;width:50px;height:4.4px;background:#3e4248;"></div>
<div class="a" style="left:698px;top:779.3px;width:30px;height:4.4px;background:#3e4248;"></div>
<div class="a" style="left:731px;top:779.3px;width:30px;height:4.4px;background:#3e4248;"></div>
<div class="a" style="left:764px;top:779.3px;width:30px;height:4.4px;background:#3e4248;"></div>
<div class="a" style="left:800px;top:780.8px;width:34px;height:1.2px;background:#777a7e;opacity:0.8"></div>
<div class="a" style="left:903px;top:779.5px;width:8px;height:4px;background:#55595e;"></div>
<div class="a" style="left:913px;top:779.5px;width:7px;height:4px;background:#55595e;"></div>
<div class="a" style="left:698px;top:786.2px;width:30px;height:4.4px;background:#3e4248;"></div>
<div class="a" style="left:731px;top:786.2px;width:30px;height:4.4px;background:#3e4248;"></div>
<div class="a" style="left:764px;top:786.2px;width:30px;height:4.4px;background:#3e4248;"></div>
<div class="a" style="left:797px;top:786.2px;width:30px;height:4.4px;background:#3e4248;"></div>
<div class="a" style="left:830px;top:786.2px;width:8px;height:4.4px;background:#55595e;"></div>
<div class="a" style="left:698px;top:792.1px;width:30px;height:4.4px;background:#3e4248;"></div>
<div class="a" style="left:731px;top:792.1px;width:30px;height:4.4px;background:#3e4248;"></div>
<div class="a" style="left:764px;top:792.1px;width:30px;height:4.4px;background:#3e4248;"></div>
<div class="a" style="left:797px;top:792.1px;width:30px;height:4.4px;background:#3e4248;"></div>
<div class="a" style="left:830px;top:792.1px;width:8px;height:4.4px;background:#55595e;"></div>
<div class="a" style="left:840px;top:792.1px;width:8px;height:4.4px;background:#55595e;"></div>
<div class="a" style="left:859px;top:801.2px;width:25px;height:7.6px;background:#4d5156;border:0.5px solid #6a6e72"></div>
<div class="a" style="left:863px;top:804.4px;width:14px;height:1.3px;background:#cfcfcf;opacity:0.8"></div>
<div class="a" style="left:696.3px;top:817.2px;font-size:5.4px;line-height:1;color:#ededed;white-space:nowrap;font-weight:bold">(DMZ) Zenius7 (211.45.120.7)</div>
<div class="a" style="left:696.5px;top:828px;width:29.2px;height:34.5px;background:#40464c;"></div>
<div class="a" style="left:725.7px;top:828px;width:29.2px;height:34.5px;background:#575d62;"></div>
<div class="a" style="left:754.9px;top:828px;width:29.2px;height:34.5px;background:#40464c;"></div>
<div class="a" style="left:784.1px;top:828px;width:29.2px;height:34.5px;background:#575d62;"></div>
<div class="a" style="left:813.3px;top:828px;width:29.2px;height:34.5px;background:#40464c;"></div>
<div class="a" style="left:842.5px;top:828px;width:29.2px;height:34.5px;background:#575d62;"></div>
<div class="a" style="left:871.7px;top:828px;width:29.2px;height:34.5px;background:#40464c;"></div>
<div class="a" style="left:900.9px;top:828px;width:29.2px;height:34.5px;background:#575d62;"></div>
<div class="a" style="left:930.1px;top:828px;width:29.2px;height:34.5px;background:#40464c;"></div>
<div class="a" style="left:959.3px;top:828px;width:29.2px;height:34.5px;background:#575d62;"></div>
<div class="a" style="left:696.5px;top:836.6px;width:268px;height:0.4px;background:#5a6066;"></div>
<div class="a" style="left:696.5px;top:845.2px;width:268px;height:0.4px;background:#5a6066;"></div>
<div class="a" style="left:696.5px;top:853.8px;width:268px;height:0.4px;background:#5a6066;"></div>
<div class="a" style="left:690.5px;top:828px;width:2.5px;height:0.9px;background:#9a9a9a;opacity:0.8"></div>
<div class="a" style="left:690.5px;top:836.6px;width:2.5px;height:0.9px;background:#9a9a9a;opacity:0.8"></div>
<div class="a" style="left:690.5px;top:845.2px;width:2.5px;height:0.9px;background:#9a9a9a;opacity:0.8"></div>
<div class="a" style="left:690.5px;top:853.8px;width:2.5px;height:0.9px;background:#9a9a9a;opacity:0.8"></div>
<div class="a" style="left:690.5px;top:862.4px;width:2.5px;height:0.9px;background:#9a9a9a;opacity:0.8"></div>
<div class="a" style="left:697px;top:865.5px;width:6px;height:1px;background:#a0a0a0;opacity:0.8"></div>
<div class="a" style="left:726.2px;top:865.5px;width:6px;height:1px;background:#a0a0a0;opacity:0.8"></div>
<div class="a" style="left:755.4px;top:865.5px;width:6px;height:1px;background:#a0a0a0;opacity:0.8"></div>
<div class="a" style="left:784.6px;top:865.5px;width:6px;height:1px;background:#a0a0a0;opacity:0.8"></div>
<div class="a" style="left:813.8px;top:865.5px;width:6px;height:1px;background:#a0a0a0;opacity:0.8"></div>
<div class="a" style="left:843px;top:865.5px;width:6px;height:1px;background:#a0a0a0;opacity:0.8"></div>
<div class="a" style="left:872.2px;top:865.5px;width:6px;height:1px;background:#a0a0a0;opacity:0.8"></div>
<div class="a" style="left:901.4px;top:865.5px;width:6px;height:1px;background:#a0a0a0;opacity:0.8"></div>
<div class="a" style="left:930.6px;top:865.5px;width:6px;height:1px;background:#a0a0a0;opacity:0.8"></div>
<div class="a" style="left:959.8px;top:865.5px;width:6px;height:1px;background:#a0a0a0;opacity:0.8"></div>
<div class="a" style="left:838px;top:875.6px;width:10px;height:1.1px;background:#9a9a9a;opacity:0.8"></div>
<div class="a" style="left:856px;top:875.6px;width:10px;height:1.1px;background:#9a9a9a;opacity:0.8"></div>
<div class="a" style="left:873px;top:875.6px;width:10px;height:1.1px;background:#9a9a9a;opacity:0.8"></div>
<div class="a" style="left:889px;top:875.6px;width:12px;height:1.1px;background:#9a9a9a;opacity:0.8"></div>
<svg class="a" style="left:690px;top:825px" width="280" height="40" viewBox="0 0 280 40"><polyline points="6.5,21.5 7.0,20.5 7.5,20.7 8.0,19.9 8.5,20.6 9.0,20.5 9.5,20.1 10.0,20.5 10.5,19.4 11.0,19.2 11.5,18.0 12.0,17.3 12.5,17.2 13.0,17.5 13.5,17.1 14.0,18.0 14.5,19.7 15.0,21.5 15.5,22.5 16.0,23.5 16.5,25.1 17.0,24.6 17.5,25.8 18.0,25.0 18.5,24.6 19.0,24.4 19.5,24.7 20.0,25.6 20.5,25.4 21.0,26.6 21.5,27.5 22.0,27.8 22.5,28.3 23.0,27.5 23.5,26.8 24.0,25.9 24.5,25.0 25.0,23.2 25.5,21.6 26.0,20.7 26.5,19.7 27.0,19.1 27.5,19.6 28.0,19.5 28.5,19.1 29.0,19.6 29.5,19.3 30.0,19.2 30.5,18.2 31.0,16.8 31.5,16.9 32.0,15.3 32.5,15.5 33.0,16.3 33.5,16.5 34.0,18.2 34.5,19.2 35.0,21.5 35.5,22.9 36.0,23.7 36.5,24.7 37.0,24.3 37.5,24.7 38.0,24.4 38.5,24.3 39.0,24.2 39.5,25.0 40.0,25.8 40.5,26.1 41.0,27.2 41.5,27.1 42.0,28.2 42.5,28.0 43.0,27.8 43.5,26.4 44.0,24.3 44.5,22.8 45.0,21.6 45.5,19.5 46.0,19.2 46.5,18.4 47.0,18.2 47.5,18.3 48.0,19.3 48.5,18.5 49.0,18.4 49.5,18.0 50.0,17.8 50.5,15.9 51.0,15.5 51.5,15.0 52.0,15.3 52.5,15.6 53.0,16.6 53.5,17.3 54.0,19.1 54.5,20.7 55.0,22.8 55.5,24.0 56.0,23.7 56.5,24.0 57.0,24.1 57.5,23.9 58.0,24.1 58.5,24.4 59.0,24.4 59.5,24.8 60.0,26.3 60.5,27.2 61.0,28.2 61.5,29.1 62.0,28.7 62.5,27.8 63.0,26.7 63.5,25.3 64.0,22.8 64.5,22.2 65.0,20.7 65.5,19.9 66.0,19.3 66.5,18.8 67.0,18.9 67.5,18.7 68.0,19.4 68.5,18.4 69.0,17.8 69.5,17.1 70.0,16.1 70.5,15.4 71.0,14.4 71.5,14.2 72.0,14.8 72.5,15.7 73.0,17.5 73.5,18.8 74.0,21.6 74.5,22.9 75.0,23.5 75.5,24.4 76.0,24.8 76.5,24.8 77.0,24.4 77.5,25.2 78.0,25.6 78.5,25.4 79.0,26.3 79.5,26.8 80.0,27.9 80.5,29.1 81.0,29.5 81.5,30.1 82.0,28.6 82.5,27.2 83.0,26.7 83.5,24.4 84.0,22.3 84.5,21.4 85.0,19.8 85.5,19.9 86.0,20.3 86.5,20.3 87.0,20.3 87.5,19.8 88.0,19.6 88.5,18.7 89.0,18.5 89.5,17.1 90.0,16.4 90.5,15.2 91.0,14.9 91.5,16.0 92.0,17.3 92.5,18.6 93.0,20.4 93.5,22.3 94.0,23.9 94.5,24.5 95.0,25.7 95.5,25.8 96.0,25.5 96.5,25.3 97.0,25.6 97.5,25.8 98.0,26.9 98.5,28.1 99.0,28.6 99.5,30.4 100.0,31.4 100.5,31.9 101.0,31.2 101.5,30.3 102.0,29.0 102.5,27.3 103.0,25.5 103.5,24.2 104.0,23.0 104.5,22.0 105.0,21.0 105.5,21.1 106.0,21.4 106.5,20.7 107.0,21.4 107.5,21.4 108.0,20.5 108.5,19.4 109.0,17.9 109.5,16.5 110.0,16.4 110.5,15.6 111.0,16.6 111.5,17.9 112.0,18.8 112.5,20.7 113.0,23.3 113.5,24.8 114.0,25.5 114.5,26.3 115.0,26.7 115.5,27.6 116.0,27.4 116.5,26.5 117.0,27.6 117.5,28.4 118.0,29.0 118.5,29.8 119.0,31.3 119.5,31.9 120.0,32.4 120.5,33.5 121.0,32.4 121.5,30.9 122.0,29.6 122.5,27.1 123.0,25.7 123.5,24.1 124.0,22.3 124.5,21.8 125.0,21.7 125.5,21.8 126.0,22.3 126.5,21.9 127.0,21.7 127.5,20.5 128.0,20.4 128.5,18.4 129.0,17.3 129.5,16.6 130.0,16.7 130.5,16.5 131.0,18.2 131.5,19.4 132.0,21.4 132.5,23.4 133.0,24.6 133.5,26.5 134.0,27.0 134.5,27.2 135.0,28.2 135.5,27.3 136.0,27.6 136.5,28.2 137.0,28.6 137.5,29.4 138.0,31.0 138.5,32.4 139.0,33.8 139.5,33.6 140.0,34.1 140.5,33.0 141.0,31.7 141.5,30.4 142.0,28.1 142.5,26.1 143.0,24.7 143.5,23.8 144.0,22.6 144.5,22.7 145.0,22.6 145.5,22.7 146.0,22.9 146.5,22.1 147.0,21.3 147.5,20.0 148.0,19.2 148.5,17.6 149.0,16.8 149.5,16.6 150.0,16.1 150.5,17.5 151.0,19.7 151.5,21.6 152.0,22.8 152.5,24.7 153.0,26.5 153.5,27.0 154.0,27.5 154.5,27.3 155.0,27.9 155.5,28.0 156.0,28.4 156.5,28.2 157.0,30.0 157.5,31.4 158.0,32.2 158.5,34.3 159.0,35.1 159.5,34.2 160.0,34.3 160.5,32.2 161.0,30.4 161.5,28.8 162.0,26.6 162.5,24.0 163.0,23.1 163.5,22.6 164.0,22.2 164.5,22.1 165.0,22.3 165.5,22.6 166.0,21.3 166.5,20.9 167.0,19.5 167.5,17.4 168.0,16.4 168.5,15.7 169.0,15.1 169.5,14.9 170.0,17.1 170.5,18.5 171.0,20.8 171.5,22.0 172.0,24.1 172.5,25.3 173.0,27.1 173.5,26.8 174.0,26.7 174.5,26.9 175.0,27.4 175.5,27.6 176.0,27.7 176.5,28.7 177.0,31.1 177.5,32.2 178.0,33.7 178.5,33.7 179.0,33.7 179.5,33.7 180.0,31.9 180.5,29.4 181.0,28.2 181.5,25.7 182.0,24.1 182.5,21.9 183.0,22.2 183.5,21.0 184.0,22.0 184.5,21.6 185.0,21.2 185.5,20.9 186.0,20.3 186.5,18.0 187.0,16.2 187.5,15.1 188.0,13.6 188.5,13.0 189.0,13.3 189.5,14.3 190.0,16.2 190.5,18.5 191.0,20.7 191.5,23.2 192.0,24.2 192.5,25.3 193.0,25.3 193.5,25.5 194.0,25.0 194.5,25.2 195.0,25.3 195.5,26.9 196.0,28.0 196.5,29.1 197.0,31.1 197.5,33.0 198.0,32.8 198.5,33.7 199.0,32.5 199.5,31.0 200.0,29.4 200.5,26.5 201.0,24.4 201.5,22.7 202.0,21.8 202.5,20.2 203.0,20.6 203.5,20.5 204.0,20.4 204.5,19.9 205.0,19.2 205.5,17.7 206.0,16.2 206.5,14.4 207.0,13.5 207.5,11.7 208.0,11.0 208.5,11.1 209.0,13.1 209.5,15.0 210.0,16.9 210.5,18.7 211.0,20.7 211.5,22.4 212.0,23.5 212.5,23.6 213.0,23.9 213.5,23.5 214.0,24.4 214.5,24.7 215.0,25.1 215.5,26.1 216.0,28.6 216.5,29.6 217.0,31.1 217.5,31.6 218.0,32.1 218.5,31.5 219.0,29.9 219.5,27.4 220.0,25.4 220.5,22.5 221.0,20.9 221.5,19.3 222.0,18.9 222.5,18.2 223.0,18.2 223.5,18.6 224.0,18.2 224.5,17.9 225.0,16.6 225.5,15.2 226.0,13.3 226.5,11.5 227.0,10.4 227.5,9.2 228.0,9.3 228.5,11.2 229.0,12.1 229.5,15.0 230.0,17.3 230.5,18.7 231.0,21.3 231.5,22.3 232.0,22.4 232.5,22.6 233.0,22.5 233.5,21.7 234.0,22.6 234.5,23.5 235.0,25.4 235.5,27.1 236.0,29.0 236.5,30.3 237.0,31.7 237.5,31.6 238.0,30.9 238.5,28.7 239.0,26.3 239.5,24.0 240.0,21.9 240.5,19.6 241.0,19.1 241.5,17.9 242.0,17.8 242.5,17.8 243.0,17.9 243.5,17.4 244.0,16.1 244.5,15.7 245.0,13.9 245.5,11.6 246.0,9.8 246.5,8.5 247.0,7.1 247.5,8.1 248.0,8.7 248.5,10.3 249.0,12.9 249.5,15.9 250.0,17.5 250.5,19.8 251.0,21.1 251.5,21.0 252.0,20.9 252.5,20.9 253.0,21.2 253.5,21.8 254.0,22.6" fill="none" stroke="#2b95cc" stroke-width="1.1" stroke-linejoin="round"/></svg>
<div class="a" style="left:963.8px;top:735.4px;width:149.4px;height:210.2px;background:#dcdcdc;"></div>
<div class="a" style="left:964.8px;top:736.4px;width:147.4px;height:208.2px;background:#ffffff;"></div>
<div class="a" style="left:970.3px;top:740.3px;width:136.3px;height:8.7px;background:#9b9b9b;"></div>
<div class="a" style="left:970.3px;top:740.3px;width:136.3px;height:1.2px;background:#555;"></div>
<div class="a" style="left:974px;top:744.2px;width:62px;height:1.3px;background:#4a4a4a;opacity:0.8"></div>
<div class="a" style="left:970.3px;top:749px;width:136.3px;height:6.8px;background:#c6c6c6;"></div>
<div class="a" style="left:979px;top:762px;width:68px;height:1px;background:#777;opacity:0.8"></div>
<div class="a" style="left:1067px;top:762px;width:12px;height:1px;background:#8ab;opacity:0.8"></div>
<div class="a" style="left:1084px;top:762px;width:13px;height:1px;background:#7a7;opacity:0.8"></div>
<div class="a" style="left:985.0px;top:760px;width:9px;height:0.9px;background:#b8b8b8;transform:rotate(-40deg)"></div>
<div class="a" style="left:995.4px;top:760px;width:9px;height:0.9px;background:#b8b8b8;transform:rotate(-40deg)"></div>
<div class="a" style="left:1005.8px;top:760px;width:9px;height:0.9px;background:#b8b8b8;transform:rotate(-40deg)"></div>
<div class="a" style="left:1016.2px;top:760px;width:9px;height:0.9px;background:#b8b8b8;transform:rotate(-40deg)"></div>
<div class="a" style="left:1026.6px;top:760px;width:9px;height:0.9px;background:#b8b8b8;transform:rotate(-40deg)"></div>
<div class="a" style="left:1037.0px;top:760px;width:9px;height:0.9px;background:#b8b8b8;transform:rotate(-40deg)"></div>
<div class="a" style="left:1047.4px;top:760px;width:9px;height:0.9px;background:#b8b8b8;transform:rotate(-40deg)"></div>
<div class="a" style="left:1057.8px;top:760px;width:9px;height:0.9px;background:#b8b8b8;transform:rotate(-40deg)"></div>
<div class="a" style="left:1068.2px;top:760px;width:9px;height:0.9px;background:#b8b8b8;transform:rotate(-40deg)"></div>
<div class="a" style="left:1078.6px;top:760px;width:9px;height:0.9px;background:#b8b8b8;transform:rotate(-40deg)"></div>
<div class="a" style="left:985px;top:771px;width:108px;height:0.5px;background:#d8d8d8;"></div>
<div class="a" style="left:985px;top:780.5px;width:108px;height:0.5px;background:#e6e6e6;"></div>
<div class="a" style="left:985px;top:789.5px;width:108px;height:0.5px;background:#e6e6e6;"></div>
<div class="a" style="left:985px;top:798px;width:108px;height:0.5px;background:#e6e6e6;"></div>
<div class="a" style="left:985px;top:807.5px;width:108px;height:0.5px;background:#e6e6e6;"></div>
<div class="a" style="left:981px;top:770.5px;width:1.5px;height:0.9px;background:#888;opacity:0.8"></div>
<div class="a" style="left:981px;top:779.6px;width:1.5px;height:0.9px;background:#888;opacity:0.8"></div>
<div class="a" style="left:981px;top:788.7px;width:1.5px;height:0.9px;background:#888;opacity:0.8"></div>
<div class="a" style="left:981px;top:797.8px;width:1.5px;height:0.9px;background:#888;opacity:0.8"></div>
<div class="a" style="left:981px;top:806.9px;width:1.5px;height:0.9px;background:#888;opacity:0.8"></div>
<div class="a" style="left:986px;top:771px;width:0.9px;height:17.6px;background:#4cbf4c;"></div>
<div class="a" style="left:988px;top:771px;width:0.9px;height:5px;background:#78c4ee;"></div>
<div class="a" style="left:993px;top:771px;width:0.9px;height:6.5px;background:#78c4ee;"></div>
<div class="a" style="left:994.5px;top:771px;width:0.9px;height:3px;background:#78c4ee;"></div>
<div class="a" style="left:999.5px;top:771px;width:0.9px;height:19px;background:#4cbf4c;"></div>
<div class="a" style="left:1001px;top:771px;width:0.9px;height:15px;background:#4cbf4c;"></div>
<div class="a" style="left:1002.5px;top:771px;width:0.9px;height:5px;background:#4cbf4c;"></div>
<div class="a" style="left:1008px;top:771px;width:0.9px;height:15px;background:#4cbf4c;"></div>
<div class="a" style="left:1012px;top:771px;width:0.9px;height:19px;background:#4cbf4c;"></div>
<div class="a" style="left:1015px;top:771px;width:0.9px;height:17px;background:#4cbf4c;"></div>
<div class="a" style="left:1016.5px;top:771px;width:0.9px;height:13px;background:#4cbf4c;"></div>
<div class="a" style="left:1018px;top:771px;width:0.9px;height:8px;background:#4cbf4c;"></div>
<div class="a" style="left:1025px;top:771px;width:0.9px;height:8px;background:#4cbf4c;"></div>
<div class="a" style="left:1028px;top:771px;width:0.9px;height:4px;background:#4cbf4c;"></div>
<div class="a" style="left:1033px;top:771px;width:0.9px;height:14px;background:#4cbf4c;"></div>
<div class="a" style="left:1034px;top:771px;width:0.9px;height:20.5px;background:#78c4ee;"></div>
<div class="a" style="left:1035px;top:771px;width:0.9px;height:12px;background:#4cbf4c;"></div>
<div class="a" style="left:1040px;top:771px;width:0.9px;height:6px;background:#78c4ee;"></div>
<div class="a" style="left:1044px;top:771px;width:0.9px;height:12px;background:#78c4ee;"></div>
<div class="a" style="left:1046px;top:771px;width:0.9px;height:15px;background:#78c4ee;"></div>
<div class="a" style="left:1049px;top:771px;width:0.9px;height:9px;background:#4cbf4c;"></div>
<div class="a" style="left:1053px;top:771px;width:0.9px;height:16px;background:#4cbf4c;"></div>
<div class="a" style="left:1070px;top:771px;width:0.9px;height:10px;background:#78c4ee;"></div>
<div class="a" style="left:1071.5px;top:771px;width:0.9px;height:14px;background:#78c4ee;"></div>
<div class="a" style="left:1073px;top:771px;width:0.9px;height:11px;background:#4cbf4c;"></div>
<div class="a" style="left:1075px;top:771px;width:0.9px;height:7px;background:#4cbf4c;"></div>
<div class="a" style="left:1077px;top:771px;width:0.9px;height:10px;background:#4cbf4c;"></div>
<div class="a" style="left:1078.5px;top:771px;width:0.9px;height:6px;background:#78c4ee;"></div>
<div class="a" style="left:1080px;top:771px;width:0.9px;height:12px;background:#78c4ee;"></div>
<div class="a" style="left:1084px;top:771px;width:0.9px;height:6px;background:#78c4ee;"></div>
<div class="a" style="left:1086px;top:771px;width:0.9px;height:6px;background:#78c4ee;"></div>
<div class="a" style="left:1088px;top:771px;width:0.9px;height:6px;background:#4cbf4c;"></div>
<div class="a" style="left:977.0px;top:813px;width:11px;height:1px;background:#b0b0b0;transform:rotate(-40deg)"></div>
<div class="a" style="left:987.4px;top:813px;width:11px;height:1px;background:#b0b0b0;transform:rotate(-40deg)"></div>
<div class="a" style="left:997.8px;top:813px;width:11px;height:1px;background:#b0b0b0;transform:rotate(-40deg)"></div>
<div class="a" style="left:1008.2px;top:813px;width:11px;height:1px;background:#b0b0b0;transform:rotate(-40deg)"></div>
<div class="a" style="left:1018.6px;top:813px;width:11px;height:1px;background:#b0b0b0;transform:rotate(-40deg)"></div>
<div class="a" style="left:1029.0px;top:813px;width:11px;height:1px;background:#b0b0b0;transform:rotate(-40deg)"></div>
<div class="a" style="left:1039.4px;top:813px;width:11px;height:1px;background:#b0b0b0;transform:rotate(-40deg)"></div>
<div class="a" style="left:1049.8px;top:813px;width:11px;height:1px;background:#b0b0b0;transform:rotate(-40deg)"></div>
<div class="a" style="left:1060.2px;top:813px;width:11px;height:1px;background:#b0b0b0;transform:rotate(-40deg)"></div>
<div class="a" style="left:1070.6px;top:813px;width:11px;height:1px;background:#b0b0b0;transform:rotate(-40deg)"></div>
<div class="a" style="left:1081.0px;top:813px;width:11px;height:1px;background:#b0b0b0;transform:rotate(-40deg)"></div>
<div class="a" style="left:970px;top:822.5px;width:136.7px;height:4.3px;background:#b3b3b3;"></div>
<div class="a" style="left:970px;top:822.5px;width:136.7px;height:0.6px;background:#555;"></div>
<div class="a" style="left:998.4px;top:823.9px;width:12px;height:1.3px;background:#555;opacity:0.8"></div>
<div class="a" style="left:1066.75px;top:823.9px;width:12px;height:1.3px;background:#555;opacity:0.8"></div>
<div class="a" style="left:970px;top:826.8px;width:136.7px;height:4px;background:#cbcbcb;"></div>
<div class="a" style="left:970px;top:826.8px;width:136.7px;height:0.5px;background:#666;"></div>
<div class="a" style="left:978.8px;top:828.2px;width:6px;height:1.2px;background:#555;opacity:0.8"></div>
<div class="a" style="left:1013.2px;top:828.2px;width:6px;height:1.2px;background:#555;opacity:0.8"></div>
<div class="a" style="left:1047.1px;top:828.2px;width:6px;height:1.2px;background:#555;opacity:0.8"></div>
<div class="a" style="left:1081.05px;top:828.2px;width:6px;height:1.2px;background:#555;opacity:0.8"></div>
<div class="a" style="left:970px;top:831px;width:136.7px;height:1px;background:#8c8c8c;"></div>
<div class="a" style="left:972px;top:832.5px;width:18.6px;height:1.1px;background:#9a9a9a;opacity:0.8"></div>
<div class="a" style="left:1032.8px;top:832.5px;width:3.5px;height:1.1px;background:#8a8a8a;opacity:0.8"></div>
<div class="a" style="left:1040.8px;top:832.5px;width:17.6px;height:1.1px;background:#9a9a9a;opacity:0.8"></div>
<div class="a" style="left:1100.7px;top:832.5px;width:3.5px;height:1.1px;background:#8a8a8a;opacity:0.8"></div>
<div class="a" style="left:970px;top:835px;width:136.7px;height:1px;background:#8c8c8c;"></div>
<div class="a" style="left:972px;top:836.7px;width:18.6px;height:1.1px;background:#9a9a9a;opacity:0.8"></div>
<div class="a" style="left:1032.8px;top:836.7px;width:3.5px;height:1.1px;background:#8a8a8a;opacity:0.8"></div>
<div class="a" style="left:1040.8px;top:836.7px;width:17.6px;height:1.1px;background:#9a9a9a;opacity:0.8"></div>
<div class="a" style="left:1100.7px;top:836.7px;width:3.5px;height:1.1px;background:#8a8a8a;opacity:0.8"></div>
<div class="a" style="left:970px;top:839px;width:136.7px;height:1px;background:#8c8c8c;"></div>
<div class="a" style="left:972px;top:840.9px;width:18.6px;height:1.1px;background:#9a9a9a;opacity:0.8"></div>
<div class="a" style="left:1032.8px;top:840.9px;width:3.5px;height:1.1px;background:#8a8a8a;opacity:0.8"></div>
<div class="a" style="left:1040.8px;top:840.9px;width:17.6px;height:1.1px;background:#9a9a9a;opacity:0.8"></div>
<div class="a" style="left:1100.7px;top:840.9px;width:3.5px;height:1.1px;background:#8a8a8a;opacity:0.8"></div>
<div class="a" style="left:970px;top:843px;width:136.7px;height:1px;background:#8c8c8c;"></div>
<div class="a" style="left:972px;top:845.1px;width:18.6px;height:1.1px;background:#9a9a9a;opacity:0.8"></div>
<div class="a" style="left:1032.8px;top:845.1px;width:3.5px;height:1.1px;background:#8a8a8a;opacity:0.8"></div>
<div class="a" style="left:1040.8px;top:845.1px;width:17.6px;height:1.1px;background:#9a9a9a;opacity:0.8"></div>
<div class="a" style="left:1100.7px;top:845.1px;width:3.5px;height:1.1px;background:#8a8a8a;opacity:0.8"></div>
<div class="a" style="left:970px;top:848px;width:136.7px;height:1px;background:#8c8c8c;"></div>
<div class="a" style="left:972px;top:849.3px;width:18.6px;height:1.1px;background:#9a9a9a;opacity:0.8"></div>
<div class="a" style="left:1032.8px;top:849.3px;width:3.5px;height:1.1px;background:#8a8a8a;opacity:0.8"></div>
<div class="a" style="left:1040.8px;top:849.3px;width:17.6px;height:1.1px;background:#9a9a9a;opacity:0.8"></div>
<div class="a" style="left:1100.7px;top:849.3px;width:3.5px;height:1.1px;background:#8a8a8a;opacity:0.8"></div>
<div class="a" style="left:970px;top:852px;width:136.7px;height:1px;background:#8c8c8c;"></div>
<div class="a" style="left:970px;top:853px;width:136.7px;height:1px;background:#e6e6e6;"></div>
<div class="a" style="left:972px;top:853.5px;width:18.6px;height:1.1px;background:#9a9a9a;opacity:0.8"></div>
<div class="a" style="left:1032.8px;top:853.5px;width:3.5px;height:1.1px;background:#8a8a8a;opacity:0.8"></div>
<div class="a" style="left:1040.8px;top:853.5px;width:17.6px;height:1.1px;background:#9a9a9a;opacity:0.8"></div>
<div class="a" style="left:1100.7px;top:853.5px;width:3.5px;height:1.1px;background:#8a8a8a;opacity:0.8"></div>
<div class="a" style="left:970px;top:856px;width:136.7px;height:1px;background:#8c8c8c;"></div>
<div class="a" style="left:972px;top:857.7px;width:18.6px;height:1.1px;background:#9a9a9a;opacity:0.8"></div>
<div class="a" style="left:1032.8px;top:857.7px;width:3.5px;height:1.1px;background:#8a8a8a;opacity:0.8"></div>
<div class="a" style="left:1040.8px;top:857.7px;width:17.6px;height:1.1px;background:#9a9a9a;opacity:0.8"></div>
<div class="a" style="left:1100.7px;top:857.7px;width:3.5px;height:1.1px;background:#8a8a8a;opacity:0.8"></div>
<div class="a" style="left:970px;top:860px;width:136.7px;height:1px;background:#8c8c8c;"></div>
<div class="a" style="left:970px;top:861px;width:136.7px;height:1px;background:#e6e6e6;"></div>
<div class="a" style="left:972px;top:861.9px;width:18.6px;height:1.1px;background:#9a9a9a;opacity:0.8"></div>
<div class="a" style="left:1032.8px;top:861.9px;width:3.5px;height:1.1px;background:#8a8a8a;opacity:0.8"></div>
<div class="a" style="left:1040.8px;top:861.9px;width:17.6px;height:1.1px;background:#9a9a9a;opacity:0.8"></div>
<div class="a" style="left:1100.7px;top:861.9px;width:3.5px;height:1.1px;background:#8a8a8a;opacity:0.8"></div>
<div class="a" style="left:970px;top:864px;width:136.7px;height:1px;background:#8c8c8c;"></div>
<div class="a" style="left:972px;top:866.1px;width:18.6px;height:1.1px;background:#9a9a9a;opacity:0.8"></div>
<div class="a" style="left:1032.8px;top:866.1px;width:3.5px;height:1.1px;background:#8a8a8a;opacity:0.8"></div>
<div class="a" style="left:1040.8px;top:866.1px;width:17.6px;height:1.1px;background:#9a9a9a;opacity:0.8"></div>
<div class="a" style="left:1100.7px;top:866.1px;width:3.5px;height:1.1px;background:#8a8a8a;opacity:0.8"></div>
<div class="a" style="left:970px;top:869px;width:136.7px;height:1px;background:#8c8c8c;"></div>
<div class="a" style="left:972px;top:870.3px;width:18.6px;height:1.1px;background:#9a9a9a;opacity:0.8"></div>
<div class="a" style="left:1032.8px;top:870.3px;width:3.5px;height:1.1px;background:#8a8a8a;opacity:0.8"></div>
<div class="a" style="left:1040.8px;top:870.3px;width:17.6px;height:1.1px;background:#9a9a9a;opacity:0.8"></div>
<div class="a" style="left:1100.7px;top:870.3px;width:3.5px;height:1.1px;background:#8a8a8a;opacity:0.8"></div>
<div class="a" style="left:970px;top:873px;width:136.7px;height:1px;background:#8c8c8c;"></div>
<div class="a" style="left:970px;top:874px;width:136.7px;height:1px;background:#e6e6e6;"></div>
<div class="a" style="left:972px;top:874.5px;width:18.6px;height:1.1px;background:#9a9a9a;opacity:0.8"></div>
<div class="a" style="left:1032.8px;top:874.5px;width:3.5px;height:1.1px;background:#8a8a8a;opacity:0.8"></div>
<div class="a" style="left:1040.8px;top:874.5px;width:17.6px;height:1.1px;background:#9a9a9a;opacity:0.8"></div>
<div class="a" style="left:1100.7px;top:874.5px;width:3.5px;height:1.1px;background:#8a8a8a;opacity:0.8"></div>
<div class="a" style="left:970px;top:877px;width:136.7px;height:1px;background:#8c8c8c;"></div>
<div class="a" style="left:970px;top:878px;width:136.7px;height:1px;background:#e6e6e6;"></div>
<div class="a" style="left:972px;top:878.7px;width:18.6px;height:1.1px;background:#9a9a9a;opacity:0.8"></div>
<div class="a" style="left:1032.8px;top:878.7px;width:3.5px;height:1.1px;background:#8a8a8a;opacity:0.8"></div>
<div class="a" style="left:1040.8px;top:878.7px;width:17.6px;height:1.1px;background:#9a9a9a;opacity:0.8"></div>
<div class="a" style="left:1100.7px;top:878.7px;width:3.5px;height:1.1px;background:#8a8a8a;opacity:0.8"></div>
<div class="a" style="left:970px;top:881px;width:136.7px;height:1px;background:#8c8c8c;"></div>
<div class="a" style="left:972px;top:882.9px;width:18.6px;height:1.1px;background:#9a9a9a;opacity:0.8"></div>
<div class="a" style="left:1032.8px;top:882.9px;width:3.5px;height:1.1px;background:#8a8a8a;opacity:0.8"></div>
<div class="a" style="left:1040.8px;top:882.9px;width:17.6px;height:1.1px;background:#9a9a9a;opacity:0.8"></div>
<div class="a" style="left:1100.7px;top:882.9px;width:3.5px;height:1.1px;background:#8a8a8a;opacity:0.8"></div>
<div class="a" style="left:970px;top:885px;width:136.7px;height:1px;background:#8c8c8c;"></div>
<div class="a" style="left:972px;top:887.1px;width:18.6px;height:1.1px;background:#9a9a9a;opacity:0.8"></div>
<div class="a" style="left:1032.8px;top:887.1px;width:3.5px;height:1.1px;background:#8a8a8a;opacity:0.8"></div>
<div class="a" style="left:1040.8px;top:887.1px;width:17.6px;height:1.1px;background:#9a9a9a;opacity:0.8"></div>
<div class="a" style="left:1100.7px;top:887.1px;width:3.5px;height:1.1px;background:#8a8a8a;opacity:0.8"></div>
<div class="a" style="left:970px;top:890px;width:136.7px;height:1px;background:#8c8c8c;"></div>
<div class="a" style="left:970px;top:891px;width:136.7px;height:1px;background:#e6e6e6;"></div>
<div class="a" style="left:972px;top:891.3px;width:18.6px;height:1.1px;background:#9a9a9a;opacity:0.8"></div>
<div class="a" style="left:1032.8px;top:891.3px;width:3.5px;height:1.1px;background:#8a8a8a;opacity:0.8"></div>
<div class="a" style="left:1040.8px;top:891.3px;width:17.6px;height:1.1px;background:#9a9a9a;opacity:0.8"></div>
<div class="a" style="left:1100.7px;top:891.3px;width:3.5px;height:1.1px;background:#8a8a8a;opacity:0.8"></div>
<div class="a" style="left:970px;top:894px;width:136.7px;height:1px;background:#8c8c8c;"></div>
<div class="a" style="left:972px;top:895.5px;width:18.6px;height:1.1px;background:#9a9a9a;opacity:0.8"></div>
<div class="a" style="left:1032.8px;top:895.5px;width:3.5px;height:1.1px;background:#8a8a8a;opacity:0.8"></div>
<div class="a" style="left:1040.8px;top:895.5px;width:17.6px;height:1.1px;background:#9a9a9a;opacity:0.8"></div>
<div class="a" style="left:1100.7px;top:895.5px;width:3.5px;height:1.1px;background:#8a8a8a;opacity:0.8"></div>
<div class="a" style="left:970px;top:898px;width:136.7px;height:1px;background:#8c8c8c;"></div>
<div class="a" style="left:972px;top:899.7px;width:18.6px;height:1.1px;background:#9a9a9a;opacity:0.8"></div>
<div class="a" style="left:1032.8px;top:899.7px;width:3.5px;height:1.1px;background:#8a8a8a;opacity:0.8"></div>
<div class="a" style="left:1040.8px;top:899.7px;width:17.6px;height:1.1px;background:#9a9a9a;opacity:0.8"></div>
<div class="a" style="left:1100.7px;top:899.7px;width:3.5px;height:1.1px;background:#8a8a8a;opacity:0.8"></div>
<div class="a" style="left:970px;top:902px;width:136.7px;height:1px;background:#8c8c8c;"></div>
<div class="a" style="left:972px;top:903.9px;width:18.6px;height:1.1px;background:#9a9a9a;opacity:0.8"></div>
<div class="a" style="left:1032.8px;top:903.9px;width:3.5px;height:1.1px;background:#8a8a8a;opacity:0.8"></div>
<div class="a" style="left:1040.8px;top:903.9px;width:17.6px;height:1.1px;background:#9a9a9a;opacity:0.8"></div>
<div class="a" style="left:1100.7px;top:903.9px;width:3.5px;height:1.1px;background:#8a8a8a;opacity:0.8"></div>
<div class="a" style="left:970px;top:906px;width:136.7px;height:1px;background:#8c8c8c;"></div>
<div class="a" style="left:972px;top:908.1px;width:18.6px;height:1.1px;background:#9a9a9a;opacity:0.8"></div>
<div class="a" style="left:1032.8px;top:908.1px;width:3.5px;height:1.1px;background:#8a8a8a;opacity:0.8"></div>
<div class="a" style="left:1040.8px;top:908.1px;width:17.6px;height:1.1px;background:#9a9a9a;opacity:0.8"></div>
<div class="a" style="left:1100.7px;top:908.1px;width:3.5px;height:1.1px;background:#8a8a8a;opacity:0.8"></div>
<div class="a" style="left:970px;top:911px;width:136.7px;height:1px;background:#8c8c8c;"></div>
<div class="a" style="left:970px;top:912px;width:136.7px;height:1px;background:#e6e6e6;"></div>
<div class="a" style="left:972px;top:912.3px;width:18.6px;height:1.1px;background:#9a9a9a;opacity:0.8"></div>
<div class="a" style="left:1032.8px;top:912.3px;width:3.5px;height:1.1px;background:#8a8a8a;opacity:0.8"></div>
<div class="a" style="left:1040.8px;top:912.3px;width:17.6px;height:1.1px;background:#9a9a9a;opacity:0.8"></div>
<div class="a" style="left:1100.7px;top:912.3px;width:3.5px;height:1.1px;background:#8a8a8a;opacity:0.8"></div>
<div class="a" style="left:970px;top:915px;width:136.7px;height:1px;background:#8c8c8c;"></div>
<div class="a" style="left:972px;top:916.5px;width:18.6px;height:1.1px;background:#9a9a9a;opacity:0.8"></div>
<div class="a" style="left:1032.8px;top:916.5px;width:3.5px;height:1.1px;background:#8a8a8a;opacity:0.8"></div>
<div class="a" style="left:1040.8px;top:916.5px;width:17.6px;height:1.1px;background:#9a9a9a;opacity:0.8"></div>
<div class="a" style="left:1100.7px;top:916.5px;width:3.5px;height:1.1px;background:#8a8a8a;opacity:0.8"></div>
<div class="a" style="left:970px;top:919px;width:136.7px;height:1px;background:#8c8c8c;"></div>
<div class="a" style="left:970px;top:920px;width:136.7px;height:1px;background:#e6e6e6;"></div>
<div class="a" style="left:972px;top:920.7px;width:18.6px;height:1.1px;background:#9a9a9a;opacity:0.8"></div>
<div class="a" style="left:1032.8px;top:920.7px;width:3.5px;height:1.1px;background:#8a8a8a;opacity:0.8"></div>
<div class="a" style="left:1040.8px;top:920.7px;width:17.6px;height:1.1px;background:#9a9a9a;opacity:0.8"></div>
<div class="a" style="left:1100.7px;top:920.7px;width:3.5px;height:1.1px;background:#8a8a8a;opacity:0.8"></div>
<div class="a" style="left:970px;top:923px;width:136.7px;height:1px;background:#8c8c8c;"></div>
<div class="a" style="left:972px;top:924.9px;width:18.6px;height:1.1px;background:#9a9a9a;opacity:0.8"></div>
<div class="a" style="left:1032.8px;top:924.9px;width:3.5px;height:1.1px;background:#8a8a8a;opacity:0.8"></div>
<div class="a" style="left:1040.8px;top:924.9px;width:17.6px;height:1.1px;background:#9a9a9a;opacity:0.8"></div>
<div class="a" style="left:1100.7px;top:924.9px;width:3.5px;height:1.1px;background:#8a8a8a;opacity:0.8"></div>
<div class="a" style="left:970px;top:927px;width:136.7px;height:1px;background:#8c8c8c;"></div>
<div class="a" style="left:970px;top:928px;width:136.7px;height:1px;background:#e6e6e6;"></div>
<div class="a" style="left:972px;top:929.1px;width:18.6px;height:1.1px;background:#9a9a9a;opacity:0.8"></div>
<div class="a" style="left:1032.8px;top:929.1px;width:3.5px;height:1.1px;background:#8a8a8a;opacity:0.8"></div>
<div class="a" style="left:1040.8px;top:929.1px;width:17.6px;height:1.1px;background:#9a9a9a;opacity:0.8"></div>
<div class="a" style="left:1100.7px;top:929.1px;width:3.5px;height:1.1px;background:#8a8a8a;opacity:0.8"></div>
<div class="a" style="left:970px;top:932px;width:136.7px;height:1px;background:#8c8c8c;"></div>
<div class="a" style="left:972px;top:933.3px;width:18.6px;height:1.1px;background:#9a9a9a;opacity:0.8"></div>
<div class="a" style="left:1032.8px;top:933.3px;width:3.5px;height:1.1px;background:#8a8a8a;opacity:0.8"></div>
<div class="a" style="left:1040.8px;top:933.3px;width:17.6px;height:1.1px;background:#9a9a9a;opacity:0.8"></div>
<div class="a" style="left:1100.7px;top:933.3px;width:3.5px;height:1.1px;background:#8a8a8a;opacity:0.8"></div>
<div class="a" style="left:970px;top:935.8px;width:136.7px;height:0.6px;background:#555;"></div>
<div class="a" style="left:969.6px;top:822.5px;width:0.9px;height:113.3px;background:#5a5a5a;"></div>
<div class="a" style="left:993.35px;top:826.8px;width:0.5px;height:109px;background:#6a6a6a;"></div>
<div class="a" style="left:1038.4px;top:822.5px;width:0.9px;height:113.3px;background:#5a5a5a;"></div>
<div class="a" style="left:1061.15px;top:826.8px;width:0.5px;height:109px;background:#6a6a6a;"></div>
<div class="a" style="left:1106.3px;top:822.5px;width:0.9px;height:113.3px;background:#5a5a5a;"></div>
<div class="a" style="left:1115px;top:735.6px;width:149.1px;height:209.9px;background:#dcdcdc;"></div>
<div class="a" style="left:1116px;top:736.6px;width:147.1px;height:207.9px;background:#ffffff;"></div>
<div class="a" style="left:1121.2px;top:741px;width:136.6px;height:4.3px;background:#b3b3b3;"></div>
<div class="a" style="left:1121.2px;top:741px;width:136.6px;height:0.6px;background:#555;"></div>
<div class="a" style="left:1149.3px;top:742.4px;width:12px;height:1.3px;background:#555;opacity:0.8"></div>
<div class="a" style="left:1217.6px;top:742.4px;width:12px;height:1.3px;background:#555;opacity:0.8"></div>
<div class="a" style="left:1121.2px;top:745.3px;width:136.6px;height:4px;background:#cbcbcb;"></div>
<div class="a" style="left:1121.2px;top:745.3px;width:136.6px;height:0.5px;background:#666;"></div>
<div class="a" style="left:1129.8px;top:746.7px;width:6px;height:1.2px;background:#555;opacity:0.8"></div>
<div class="a" style="left:1163.9px;top:746.7px;width:6px;height:1.2px;background:#555;opacity:0.8"></div>
<div class="a" style="left:1198px;top:746.7px;width:6px;height:1.2px;background:#555;opacity:0.8"></div>
<div class="a" style="left:1232.2px;top:746.7px;width:6px;height:1.2px;background:#555;opacity:0.8"></div>
<div class="a" style="left:1121.2px;top:749px;width:136.6px;height:1px;background:#8c8c8c;"></div>
<div class="a" style="left:1123.2px;top:751px;width:18.2px;height:1.1px;background:#9a9a9a;opacity:0.8"></div>
<div class="a" style="left:1183.4px;top:751px;width:3.5px;height:1.1px;background:#8a8a8a;opacity:0.8"></div>
<div class="a" style="left:1191.4px;top:751px;width:18.2px;height:1.1px;background:#9a9a9a;opacity:0.8"></div>
<div class="a" style="left:1251.8px;top:751px;width:3.5px;height:1.1px;background:#8a8a8a;opacity:0.8"></div>
<div class="a" style="left:1121.2px;top:754px;width:136.6px;height:1px;background:#8c8c8c;"></div>
<div class="a" style="left:1121.2px;top:755px;width:136.6px;height:1px;background:#e6e6e6;"></div>
<div class="a" style="left:1123.2px;top:755.2px;width:18.2px;height:1.1px;background:#9a9a9a;opacity:0.8"></div>
<div class="a" style="left:1183.4px;top:755.2px;width:3.5px;height:1.1px;background:#8a8a8a;opacity:0.8"></div>
<div class="a" style="left:1191.4px;top:755.2px;width:18.2px;height:1.1px;background:#9a9a9a;opacity:0.8"></div>
<div class="a" style="left:1251.8px;top:755.2px;width:3.5px;height:1.1px;background:#8a8a8a;opacity:0.8"></div>
<div class="a" style="left:1121.2px;top:758px;width:136.6px;height:1px;background:#8c8c8c;"></div>
<div class="a" style="left:1123.2px;top:759.4px;width:18.2px;height:1.1px;background:#9a9a9a;opacity:0.8"></div>
<div class="a" style="left:1183.4px;top:759.4px;width:3.5px;height:1.1px;background:#8a8a8a;opacity:0.8"></div>
<div class="a" style="left:1191.4px;top:759.4px;width:18.2px;height:1.1px;background:#9a9a9a;opacity:0.8"></div>
<div class="a" style="left:1251.8px;top:759.4px;width:3.5px;height:1.1px;background:#8a8a8a;opacity:0.8"></div>
<div class="a" style="left:1121.2px;top:762px;width:136.6px;height:1px;background:#8c8c8c;"></div>
<div class="a" style="left:1121.2px;top:763px;width:136.6px;height:1px;background:#e6e6e6;"></div>
<div class="a" style="left:1123.2px;top:763.6px;width:18.2px;height:1.1px;background:#9a9a9a;opacity:0.8"></div>
<div class="a" style="left:1183.4px;top:763.6px;width:3.5px;height:1.1px;background:#8a8a8a;opacity:0.8"></div>
<div class="a" style="left:1191.4px;top:763.6px;width:18.2px;height:1.1px;background:#9a9a9a;opacity:0.8"></div>
<div class="a" style="left:1251.8px;top:763.6px;width:3.5px;height:1.1px;background:#8a8a8a;opacity:0.8"></div>
<div class="a" style="left:1121.2px;top:766px;width:136.6px;height:1px;background:#8c8c8c;"></div>
<div class="a" style="left:1123.2px;top:767.8px;width:18.2px;height:1.1px;background:#9a9a9a;opacity:0.8"></div>
<div class="a" style="left:1183.4px;top:767.8px;width:3.5px;height:1.1px;background:#8a8a8a;opacity:0.8"></div>
<div class="a" style="left:1191.4px;top:767.8px;width:18.2px;height:1.1px;background:#9a9a9a;opacity:0.8"></div>
<div class="a" style="left:1251.8px;top:767.8px;width:3.5px;height:1.1px;background:#8a8a8a;opacity:0.8"></div>
<div class="a" style="left:1121.2px;top:770px;width:136.6px;height:1px;background:#8c8c8c;"></div>
<div class="a" style="left:1123.2px;top:772px;width:18.2px;height:1.1px;background:#9a9a9a;opacity:0.8"></div>
<div class="a" style="left:1183.4px;top:772px;width:3.5px;height:1.1px;background:#8a8a8a;opacity:0.8"></div>
<div class="a" style="left:1191.4px;top:772px;width:18.2px;height:1.1px;background:#9a9a9a;opacity:0.8"></div>
<div class="a" style="left:1251.8px;top:772px;width:3.5px;height:1.1px;background:#8a8a8a;opacity:0.8"></div>
<div class="a" style="left:1121.2px;top:774px;width:136.6px;height:1px;background:#8c8c8c;"></div>
<div class="a" style="left:1121.2px;top:775px;width:136.6px;height:1px;background:#e6e6e6;"></div>
<div class="a" style="left:1123.2px;top:776.2px;width:18.2px;height:1.1px;background:#9a9a9a;opacity:0.8"></div>
<div class="a" style="left:1183.4px;top:776.2px;width:3.5px;height:1.1px;background:#8a8a8a;opacity:0.8"></div>
<div class="a" style="left:1191.4px;top:776.2px;width:18.2px;height:1.1px;background:#9a9a9a;opacity:0.8"></div>
<div class="a" style="left:1251.8px;top:776.2px;width:3.5px;height:1.1px;background:#8a8a8a;opacity:0.8"></div>
<div class="a" style="left:1121.2px;top:779px;width:136.6px;height:1px;background:#8c8c8c;"></div>
<div class="a" style="left:1121.2px;top:780px;width:136.6px;height:1px;background:#e6e6e6;"></div>
<div class="a" style="left:1123.2px;top:780.4px;width:18.2px;height:1.1px;background:#9a9a9a;opacity:0.8"></div>
<div class="a" style="left:1183.4px;top:780.4px;width:3.5px;height:1.1px;background:#8a8a8a;opacity:0.8"></div>
<div class="a" style="left:1191.4px;top:780.4px;width:18.2px;height:1.1px;background:#9a9a9a;opacity:0.8"></div>
<div class="a" style="left:1251.8px;top:780.4px;width:3.5px;height:1.1px;background:#8a8a8a;opacity:0.8"></div>
<div class="a" style="left:1121.2px;top:783px;width:136.6px;height:1px;background:#8c8c8c;"></div>
<div class="a" style="left:1123.2px;top:784.6px;width:18.2px;height:1.1px;background:#9a9a9a;opacity:0.8"></div>
<div class="a" style="left:1183.4px;top:784.6px;width:3.5px;height:1.1px;background:#8a8a8a;opacity:0.8"></div>
<div class="a" style="left:1191.4px;top:784.6px;width:18.2px;height:1.1px;background:#9a9a9a;opacity:0.8"></div>
<div class="a" style="left:1251.8px;top:784.6px;width:3.5px;height:1.1px;background:#8a8a8a;opacity:0.8"></div>
<div class="a" style="left:1121.2px;top:787px;width:136.6px;height:1px;background:#8c8c8c;"></div>
<div class="a" style="left:1121.2px;top:788px;width:136.6px;height:1px;background:#e6e6e6;"></div>
<div class="a" style="left:1123.2px;top:788.8px;width:18.2px;height:1.1px;background:#9a9a9a;opacity:0.8"></div>
<div class="a" style="left:1183.4px;top:788.8px;width:3.5px;height:1.1px;background:#8a8a8a;opacity:0.8"></div>
<div class="a" style="left:1191.4px;top:788.8px;width:18.2px;height:1.1px;background:#9a9a9a;opacity:0.8"></div>
<div class="a" style="left:1251.8px;top:788.8px;width:3.5px;height:1.1px;background:#8a8a8a;opacity:0.8"></div>
<div class="a" style="left:1121.2px;top:791px;width:136.6px;height:1px;background:#8c8c8c;"></div>
<div class="a" style="left:1121.2px;top:792px;width:136.6px;height:1px;background:#e6e6e6;"></div>
<div class="a" style="left:1123.2px;top:793px;width:18.2px;height:1.1px;background:#9a9a9a;opacity:0.8"></div>
<div class="a" style="left:1183.4px;top:793px;width:3.5px;height:1.1px;background:#8a8a8a;opacity:0.8"></div>
<div class="a" style="left:1191.4px;top:793px;width:18.2px;height:1.1px;background:#9a9a9a;opacity:0.8"></div>
<div class="a" style="left:1251.8px;top:793px;width:3.5px;height:1.1px;background:#8a8a8a;opacity:0.8"></div>
<div class="a" style="left:1121.2px;top:796px;width:136.6px;height:1px;background:#8c8c8c;"></div>
<div class="a" style="left:1123.2px;top:797.2px;width:18.2px;height:1.1px;background:#9a9a9a;opacity:0.8"></div>
<div class="a" style="left:1183.4px;top:797.2px;width:3.5px;height:1.1px;background:#8a8a8a;opacity:0.8"></div>
<div class="a" style="left:1191.4px;top:797.2px;width:18.2px;height:1.1px;background:#9a9a9a;opacity:0.8"></div>
<div class="a" style="left:1251.8px;top:797.2px;width:3.5px;height:1.1px;background:#8a8a8a;opacity:0.8"></div>
<div class="a" style="left:1121.2px;top:800px;width:136.6px;height:1px;background:#8c8c8c;"></div>
<div class="a" style="left:1123.2px;top:801.4px;width:18.2px;height:1.1px;background:#9a9a9a;opacity:0.8"></div>
<div class="a" style="left:1183.4px;top:801.4px;width:3.5px;height:1.1px;background:#8a8a8a;opacity:0.8"></div>
<div class="a" style="left:1191.4px;top:801.4px;width:18.2px;height:1.1px;background:#9a9a9a;opacity:0.8"></div>
<div class="a" style="left:1251.8px;top:801.4px;width:3.5px;height:1.1px;background:#8a8a8a;opacity:0.8"></div>
<div class="a" style="left:1121.2px;top:804px;width:136.6px;height:1px;background:#8c8c8c;"></div>
<div class="a" style="left:1123.2px;top:805.6px;width:18.2px;height:1.1px;background:#9a9a9a;opacity:0.8"></div>
<div class="a" style="left:1183.4px;top:805.6px;width:3.5px;height:1.1px;background:#8a8a8a;opacity:0.8"></div>
<div class="a" style="left:1191.4px;top:805.6px;width:18.2px;height:1.1px;background:#9a9a9a;opacity:0.8"></div>
<div class="a" style="left:1251.8px;top:805.6px;width:3.5px;height:1.1px;background:#8a8a8a;opacity:0.8"></div>
<div class="a" style="left:1121.2px;top:808px;width:136.6px;height:1px;background:#8c8c8c;"></div>
<div class="a" style="left:1123.2px;top:809.8px;width:18.2px;height:1.1px;background:#9a9a9a;opacity:0.8"></div>
<div class="a" style="left:1183.4px;top:809.8px;width:3.5px;height:1.1px;background:#8a8a8a;opacity:0.8"></div>
<div class="a" style="left:1191.4px;top:809.8px;width:18.2px;height:1.1px;background:#9a9a9a;opacity:0.8"></div>
<div class="a" style="left:1251.8px;top:809.8px;width:3.5px;height:1.1px;background:#8a8a8a;opacity:0.8"></div>
<div class="a" style="left:1121.2px;top:812px;width:136.6px;height:1px;background:#8c8c8c;"></div>
<div class="a" style="left:1121.2px;top:813px;width:136.6px;height:1px;background:#e6e6e6;"></div>
<div class="a" style="left:1123.2px;top:814px;width:18.2px;height:1.1px;background:#9a9a9a;opacity:0.8"></div>
<div class="a" style="left:1183.4px;top:814px;width:3.5px;height:1.1px;background:#8a8a8a;opacity:0.8"></div>
<div class="a" style="left:1191.4px;top:814px;width:18.2px;height:1.1px;background:#9a9a9a;opacity:0.8"></div>
<div class="a" style="left:1251.8px;top:814px;width:3.5px;height:1.1px;background:#8a8a8a;opacity:0.8"></div>
<div class="a" style="left:1121.2px;top:816px;width:136.6px;height:1px;background:#8c8c8c;"></div>
<div class="a" style="left:1123.2px;top:818.2px;width:18.2px;height:1.1px;background:#9a9a9a;opacity:0.8"></div>
<div class="a" style="left:1183.4px;top:818.2px;width:3.5px;height:1.1px;background:#8a8a8a;opacity:0.8"></div>
<div class="a" style="left:1191.4px;top:818.2px;width:18.2px;height:1.1px;background:#9a9a9a;opacity:0.8"></div>
<div class="a" style="left:1251.8px;top:818.2px;width:3.5px;height:1.1px;background:#8a8a8a;opacity:0.8"></div>
<div class="a" style="left:1121.2px;top:821px;width:136.6px;height:1px;background:#8c8c8c;"></div>
<div class="a" style="left:1123.2px;top:822.4px;width:18.2px;height:1.1px;background:#9a9a9a;opacity:0.8"></div>
<div class="a" style="left:1183.4px;top:822.4px;width:3.5px;height:1.1px;background:#8a8a8a;opacity:0.8"></div>
<div class="a" style="left:1191.4px;top:822.4px;width:18.2px;height:1.1px;background:#9a9a9a;opacity:0.8"></div>
<div class="a" style="left:1251.8px;top:822.4px;width:3.5px;height:1.1px;background:#8a8a8a;opacity:0.8"></div>
<div class="a" style="left:1121.2px;top:825px;width:136.6px;height:1px;background:#8c8c8c;"></div>
<div class="a" style="left:1121.2px;top:826px;width:136.6px;height:1px;background:#e6e6e6;"></div>
<div class="a" style="left:1123.2px;top:826.6px;width:18.2px;height:1.1px;background:#9a9a9a;opacity:0.8"></div>
<div class="a" style="left:1183.4px;top:826.6px;width:3.5px;height:1.1px;background:#8a8a8a;opacity:0.8"></div>
<div class="a" style="left:1191.4px;top:826.6px;width:18.2px;height:1.1px;background:#9a9a9a;opacity:0.8"></div>
<div class="a" style="left:1251.8px;top:826.6px;width:3.5px;height:1.1px;background:#8a8a8a;opacity:0.8"></div>
<div class="a" style="left:1121.2px;top:829px;width:136.6px;height:1px;background:#8c8c8c;"></div>
<div class="a" style="left:1123.2px;top:830.8px;width:18.2px;height:1.1px;background:#9a9a9a;opacity:0.8"></div>
<div class="a" style="left:1183.4px;top:830.8px;width:3.5px;height:1.1px;background:#8a8a8a;opacity:0.8"></div>
<div class="a" style="left:1191.4px;top:830.8px;width:18.2px;height:1.1px;background:#9a9a9a;opacity:0.8"></div>
<div class="a" style="left:1251.8px;top:830.8px;width:3.5px;height:1.1px;background:#8a8a8a;opacity:0.8"></div>
<div class="a" style="left:1121.2px;top:833px;width:136.6px;height:1px;background:#8c8c8c;"></div>
<div class="a" style="left:1121.2px;top:834px;width:136.6px;height:1px;background:#e6e6e6;"></div>
<div class="a" style="left:1123.2px;top:835px;width:18.2px;height:1.1px;background:#9a9a9a;opacity:0.8"></div>
<div class="a" style="left:1183.4px;top:835px;width:3.5px;height:1.1px;background:#8a8a8a;opacity:0.8"></div>
<div class="a" style="left:1191.4px;top:835px;width:18.2px;height:1.1px;background:#9a9a9a;opacity:0.8"></div>
<div class="a" style="left:1251.8px;top:835px;width:3.5px;height:1.1px;background:#8a8a8a;opacity:0.8"></div>
<div class="a" style="left:1121.2px;top:838px;width:136.6px;height:1px;background:#8c8c8c;"></div>
<div class="a" style="left:1121.2px;top:839px;width:136.6px;height:1px;background:#e6e6e6;"></div>
<div class="a" style="left:1123.2px;top:839.2px;width:18.2px;height:1.1px;background:#9a9a9a;opacity:0.8"></div>
<div class="a" style="left:1183.4px;top:839.2px;width:3.5px;height:1.1px;background:#8a8a8a;opacity:0.8"></div>
<div class="a" style="left:1191.4px;top:839.2px;width:18.2px;height:1.1px;background:#9a9a9a;opacity:0.8"></div>
<div class="a" style="left:1251.8px;top:839.2px;width:3.5px;height:1.1px;background:#8a8a8a;opacity:0.8"></div>
<div class="a" style="left:1121.2px;top:842px;width:136.6px;height:1px;background:#8c8c8c;"></div>
<div class="a" style="left:1123.2px;top:843.4px;width:18.2px;height:1.1px;background:#9a9a9a;opacity:0.8"></div>
<div class="a" style="left:1183.4px;top:843.4px;width:3.5px;height:1.1px;background:#8a8a8a;opacity:0.8"></div>
<div class="a" style="left:1191.4px;top:843.4px;width:18.2px;height:1.1px;background:#9a9a9a;opacity:0.8"></div>
<div class="a" style="left:1251.8px;top:843.4px;width:3.5px;height:1.1px;background:#8a8a8a;opacity:0.8"></div>
<div class="a" style="left:1121.2px;top:846px;width:136.6px;height:1px;background:#8c8c8c;"></div>
<div class="a" style="left:1123.2px;top:847.6px;width:18.2px;height:1.1px;background:#9a9a9a;opacity:0.8"></div>
<div class="a" style="left:1183.4px;top:847.6px;width:3.5px;height:1.1px;background:#8a8a8a;opacity:0.8"></div>
<div class="a" style="left:1191.4px;top:847.6px;width:18.2px;height:1.1px;background:#9a9a9a;opacity:0.8"></div>
<div class="a" style="left:1251.8px;top:847.6px;width:3.5px;height:1.1px;background:#8a8a8a;opacity:0.8"></div>
<div class="a" style="left:1121.2px;top:850px;width:136.6px;height:1px;background:#8c8c8c;"></div>
<div class="a" style="left:1123.2px;top:851.8px;width:18.2px;height:1.1px;background:#9a9a9a;opacity:0.8"></div>
<div class="a" style="left:1183.4px;top:851.8px;width:3.5px;height:1.1px;background:#8a8a8a;opacity:0.8"></div>
<div class="a" style="left:1191.4px;top:851.8px;width:18.2px;height:1.1px;background:#9a9a9a;opacity:0.8"></div>
<div class="a" style="left:1251.8px;top:851.8px;width:3.5px;height:1.1px;background:#8a8a8a;opacity:0.8"></div>
<div class="a" style="left:1121.2px;top:854px;width:136.6px;height:1px;background:#8c8c8c;"></div>
<div class="a" style="left:1123.2px;top:856px;width:18.2px;height:1.1px;background:#9a9a9a;opacity:0.8"></div>
<div class="a" style="left:1183.4px;top:856px;width:3.5px;height:1.1px;background:#8a8a8a;opacity:0.8"></div>
<div class="a" style="left:1191.4px;top:856px;width:18.2px;height:1.1px;background:#9a9a9a;opacity:0.8"></div>
<div class="a" style="left:1251.8px;top:856px;width:3.5px;height:1.1px;background:#8a8a8a;opacity:0.8"></div>
<div class="a" style="left:1121.2px;top:858px;width:136.6px;height:1px;background:#8c8c8c;"></div>
<div class="a" style="left:1123.2px;top:860.2px;width:18.2px;height:1.1px;background:#9a9a9a;opacity:0.8"></div>
<div class="a" style="left:1183.4px;top:860.2px;width:3.5px;height:1.1px;background:#8a8a8a;opacity:0.8"></div>
<div class="a" style="left:1191.4px;top:860.2px;width:18.2px;height:1.1px;background:#9a9a9a;opacity:0.8"></div>
<div class="a" style="left:1251.8px;top:860.2px;width:3.5px;height:1.1px;background:#8a8a8a;opacity:0.8"></div>
<div class="a" style="left:1121.2px;top:863px;width:136.6px;height:1px;background:#8c8c8c;"></div>
<div class="a" style="left:1121.2px;top:864px;width:136.6px;height:1px;background:#e6e6e6;"></div>
<div class="a" style="left:1123.2px;top:864.4px;width:18.2px;height:1.1px;background:#9a9a9a;opacity:0.8"></div>
<div class="a" style="left:1183.4px;top:864.4px;width:3.5px;height:1.1px;background:#8a8a8a;opacity:0.8"></div>
<div class="a" style="left:1191.4px;top:864.4px;width:18.2px;height:1.1px;background:#9a9a9a;opacity:0.8"></div>
<div class="a" style="left:1251.8px;top:864.4px;width:3.5px;height:1.1px;background:#8a8a8a;opacity:0.8"></div>
<div class="a" style="left:1121.2px;top:867px;width:136.6px;height:1px;background:#8c8c8c;"></div>
<div class="a" style="left:1123.2px;top:868.6px;width:18.2px;height:1.1px;background:#9a9a9a;opacity:0.8"></div>
<div class="a" style="left:1183.4px;top:868.6px;width:3.5px;height:1.1px;background:#8a8a8a;opacity:0.8"></div>
<div class="a" style="left:1191.4px;top:868.6px;width:18.2px;height:1.1px;background:#9a9a9a;opacity:0.8"></div>
<div class="a" style="left:1251.8px;top:868.6px;width:3.5px;height:1.1px;background:#8a8a8a;opacity:0.8"></div>
<div class="a" style="left:1121.2px;top:871px;width:136.6px;height:1px;background:#8c8c8c;"></div>
<div class="a" style="left:1123.2px;top:872.8px;width:18.2px;height:1.1px;background:#9a9a9a;opacity:0.8"></div>
<div class="a" style="left:1183.4px;top:872.8px;width:3.5px;height:1.1px;background:#8a8a8a;opacity:0.8"></div>
<div class="a" style="left:1191.4px;top:872.8px;width:18.2px;height:1.1px;background:#9a9a9a;opacity:0.8"></div>
<div class="a" style="left:1251.8px;top:872.8px;width:3.5px;height:1.1px;background:#8a8a8a;opacity:0.8"></div>
<div class="a" style="left:1121.2px;top:875px;width:136.6px;height:1px;background:#8c8c8c;"></div>
<div class="a" style="left:1123.2px;top:877px;width:18.2px;height:1.1px;background:#9a9a9a;opacity:0.8"></div>
<div class="a" style="left:1183.4px;top:877px;width:3.5px;height:1.1px;background:#8a8a8a;opacity:0.8"></div>
<div class="a" style="left:1191.4px;top:877px;width:18.2px;height:1.1px;background:#9a9a9a;opacity:0.8"></div>
<div class="a" style="left:1251.8px;top:877px;width:3.5px;height:1.1px;background:#8a8a8a;opacity:0.8"></div>
<div class="a" style="left:1121.2px;top:880px;width:136.6px;height:1px;background:#8c8c8c;"></div>
<div class="a" style="left:1121.2px;top:881px;width:136.6px;height:1px;background:#e6e6e6;"></div>
<div class="a" style="left:1123.2px;top:881.2px;width:18.2px;height:1.1px;background:#9a9a9a;opacity:0.8"></div>
<div class="a" style="left:1183.4px;top:881.2px;width:3.5px;height:1.1px;background:#8a8a8a;opacity:0.8"></div>
<div class="a" style="left:1191.4px;top:881.2px;width:18.2px;height:1.1px;background:#9a9a9a;opacity:0.8"></div>
<div class="a" style="left:1251.8px;top:881.2px;width:3.5px;height:1.1px;background:#8a8a8a;opacity:0.8"></div>
<div class="a" style="left:1121.2px;top:884px;width:136.6px;height:1px;background:#8c8c8c;"></div>
<div class="a" style="left:1123.2px;top:885.4px;width:18.2px;height:1.1px;background:#9a9a9a;opacity:0.8"></div>
<div class="a" style="left:1183.4px;top:885.4px;width:3.5px;height:1.1px;background:#8a8a8a;opacity:0.8"></div>
<div class="a" style="left:1191.4px;top:885.4px;width:18.2px;height:1.1px;background:#9a9a9a;opacity:0.8"></div>
<div class="a" style="left:1251.8px;top:885.4px;width:3.5px;height:1.1px;background:#8a8a8a;opacity:0.8"></div>
<div class="a" style="left:1121.2px;top:888px;width:136.6px;height:1px;background:#8c8c8c;"></div>
<div class="a" style="left:1123.2px;top:889.6px;width:18.2px;height:1.1px;background:#9a9a9a;opacity:0.8"></div>
<div class="a" style="left:1183.4px;top:889.6px;width:3.5px;height:1.1px;background:#8a8a8a;opacity:0.8"></div>
<div class="a" style="left:1191.4px;top:889.6px;width:18.2px;height:1.1px;background:#9a9a9a;opacity:0.8"></div>
<div class="a" style="left:1251.8px;top:889.6px;width:3.5px;height:1.1px;background:#8a8a8a;opacity:0.8"></div>
<div class="a" style="left:1121.2px;top:892px;width:136.6px;height:1px;background:#8c8c8c;"></div>
<div class="a" style="left:1123.2px;top:893.8px;width:18.2px;height:1.1px;background:#9a9a9a;opacity:0.8"></div>
<div class="a" style="left:1183.4px;top:893.8px;width:3.5px;height:1.1px;background:#8a8a8a;opacity:0.8"></div>
<div class="a" style="left:1191.4px;top:893.8px;width:18.2px;height:1.1px;background:#9a9a9a;opacity:0.8"></div>
<div class="a" style="left:1251.8px;top:893.8px;width:3.5px;height:1.1px;background:#8a8a8a;opacity:0.8"></div>
<div class="a" style="left:1121.2px;top:896px;width:136.6px;height:1px;background:#8c8c8c;"></div>
<div class="a" style="left:1123.2px;top:898px;width:18.2px;height:1.1px;background:#9a9a9a;opacity:0.8"></div>
<div class="a" style="left:1183.4px;top:898px;width:3.5px;height:1.1px;background:#8a8a8a;opacity:0.8"></div>
<div class="a" style="left:1191.4px;top:898px;width:18.2px;height:1.1px;background:#9a9a9a;opacity:0.8"></div>
<div class="a" style="left:1251.8px;top:898px;width:3.5px;height:1.1px;background:#8a8a8a;opacity:0.8"></div>
<div class="a" style="left:1121.2px;top:900px;width:136.6px;height:1px;background:#8c8c8c;"></div>
<div class="a" style="left:1123.2px;top:902.2px;width:18.2px;height:1.1px;background:#9a9a9a;opacity:0.8"></div>
<div class="a" style="left:1183.4px;top:902.2px;width:3.5px;height:1.1px;background:#8a8a8a;opacity:0.8"></div>
<div class="a" style="left:1191.4px;top:902.2px;width:18.2px;height:1.1px;background:#9a9a9a;opacity:0.8"></div>
<div class="a" style="left:1251.8px;top:902.2px;width:3.5px;height:1.1px;background:#8a8a8a;opacity:0.8"></div>
<div class="a" style="left:1121.2px;top:905px;width:136.6px;height:1px;background:#8c8c8c;"></div>
<div class="a" style="left:1123.2px;top:906.4px;width:18.2px;height:1.1px;background:#9a9a9a;opacity:0.8"></div>
<div class="a" style="left:1183.4px;top:906.4px;width:3.5px;height:1.1px;background:#8a8a8a;opacity:0.8"></div>
<div class="a" style="left:1191.4px;top:906.4px;width:18.2px;height:1.1px;background:#9a9a9a;opacity:0.8"></div>
<div class="a" style="left:1251.8px;top:906.4px;width:3.5px;height:1.1px;background:#8a8a8a;opacity:0.8"></div>
<div class="a" style="left:1121.2px;top:909px;width:136.6px;height:1px;background:#8c8c8c;"></div>
<div class="a" style="left:1121.2px;top:910px;width:136.6px;height:1px;background:#e6e6e6;"></div>
<div class="a" style="left:1123.2px;top:910.6px;width:18.2px;height:1.1px;background:#9a9a9a;opacity:0.8"></div>
<div class="a" style="left:1183.4px;top:910.6px;width:3.5px;height:1.1px;background:#8a8a8a;opacity:0.8"></div>
<div class="a" style="left:1191.4px;top:910.6px;width:18.2px;height:1.1px;background:#9a9a9a;opacity:0.8"></div>
<div class="a" style="left:1251.8px;top:910.6px;width:3.5px;height:1.1px;background:#8a8a8a;opacity:0.8"></div>
<div class="a" style="left:1121.2px;top:913px;width:136.6px;height:1px;background:#8c8c8c;"></div>
<div class="a" style="left:1121.2px;top:914px;width:136.6px;height:1px;background:#e6e6e6;"></div>
<div class="a" style="left:1123.2px;top:914.8px;width:18.2px;height:1.1px;background:#9a9a9a;opacity:0.8"></div>
<div class="a" style="left:1183.4px;top:914.8px;width:3.5px;height:1.1px;background:#8a8a8a;opacity:0.8"></div>
<div class="a" style="left:1191.4px;top:914.8px;width:18.2px;height:1.1px;background:#9a9a9a;opacity:0.8"></div>
<div class="a" style="left:1251.8px;top:914.8px;width:3.5px;height:1.1px;background:#8a8a8a;opacity:0.8"></div>
<div class="a" style="left:1121.2px;top:917px;width:136.6px;height:1px;background:#8c8c8c;"></div>
<div class="a" style="left:1123.2px;top:919px;width:18.2px;height:1.1px;background:#9a9a9a;opacity:0.8"></div>
<div class="a" style="left:1183.4px;top:919px;width:3.5px;height:1.1px;background:#8a8a8a;opacity:0.8"></div>
<div class="a" style="left:1191.4px;top:919px;width:18.2px;height:1.1px;background:#9a9a9a;opacity:0.8"></div>
<div class="a" style="left:1251.8px;top:919px;width:3.5px;height:1.1px;background:#8a8a8a;opacity:0.8"></div>
<div class="a" style="left:1121.2px;top:922px;width:136.6px;height:1px;background:#8c8c8c;"></div>
<div class="a" style="left:1123.2px;top:923.2px;width:18.2px;height:1.1px;background:#9a9a9a;opacity:0.8"></div>
<div class="a" style="left:1183.4px;top:923.2px;width:3.5px;height:1.1px;background:#8a8a8a;opacity:0.8"></div>
<div class="a" style="left:1191.4px;top:923.2px;width:18.2px;height:1.1px;background:#9a9a9a;opacity:0.8"></div>
<div class="a" style="left:1251.8px;top:923.2px;width:3.5px;height:1.1px;background:#8a8a8a;opacity:0.8"></div>
<div class="a" style="left:1121.2px;top:926px;width:136.6px;height:1px;background:#8c8c8c;"></div>
<div class="a" style="left:1123.2px;top:927.4px;width:18.2px;height:1.1px;background:#9a9a9a;opacity:0.8"></div>
<div class="a" style="left:1183.4px;top:927.4px;width:3.5px;height:1.1px;background:#8a8a8a;opacity:0.8"></div>
<div class="a" style="left:1191.4px;top:927.4px;width:18.2px;height:1.1px;background:#9a9a9a;opacity:0.8"></div>
<div class="a" style="left:1251.8px;top:927.4px;width:3.5px;height:1.1px;background:#8a8a8a;opacity:0.8"></div>
<div class="a" style="left:1121.2px;top:930px;width:136.6px;height:1px;background:#8c8c8c;"></div>
<div class="a" style="left:1123.2px;top:931.6px;width:18.2px;height:1.1px;background:#9a9a9a;opacity:0.8"></div>
<div class="a" style="left:1183.4px;top:931.6px;width:3.5px;height:1.1px;background:#8a8a8a;opacity:0.8"></div>
<div class="a" style="left:1191.4px;top:931.6px;width:18.2px;height:1.1px;background:#9a9a9a;opacity:0.8"></div>
<div class="a" style="left:1251.8px;top:931.6px;width:3.5px;height:1.1px;background:#8a8a8a;opacity:0.8"></div>
<div class="a" style="left:1121.2px;top:934px;width:136.6px;height:1px;background:#8c8c8c;"></div>
<div class="a" style="left:1123.2px;top:935.8px;width:18.2px;height:1.1px;background:#9a9a9a;opacity:0.8"></div>
<div class="a" style="left:1183.4px;top:935.8px;width:3.5px;height:1.1px;background:#8a8a8a;opacity:0.8"></div>
<div class="a" style="left:1191.4px;top:935.8px;width:18.2px;height:1.1px;background:#9a9a9a;opacity:0.8"></div>
<div class="a" style="left:1251.8px;top:935.8px;width:3.5px;height:1.1px;background:#8a8a8a;opacity:0.8"></div>
<div class="a" style="left:1121.2px;top:938.3px;width:136.6px;height:0.6px;background:#555;"></div>
<div class="a" style="left:1120.8px;top:741px;width:0.9px;height:197.3px;background:#5a5a5a;"></div>
<div class="a" style="left:1144.15px;top:745.3px;width:0.5px;height:193px;background:#6a6a6a;"></div>
<div class="a" style="left:1189px;top:741px;width:0.9px;height:197.3px;background:#5a5a5a;"></div>
<div class="a" style="left:1212.35px;top:745.3px;width:0.5px;height:193px;background:#6a6a6a;"></div>
<div class="a" style="left:1257.4px;top:741px;width:0.9px;height:197.3px;background:#5a5a5a;"></div>
</div>
<div class="t" style="left:75.9px;top:422.5px;font-size:21.7px;line-height:21.7px;letter-spacing:-0.011px;">Server operation summary pages for all management</div>
<div class="b" style="left:41.0px;top:429.3px;width:6px;height:6px"></div>
<div class="t" style="left:76.9px;top:444.6px;font-size:21.7px;line-height:21.7px;letter-spacing:0.118px;">targets and groups</div>
<div class="t" style="left:75.9px;top:466.9px;font-size:21.7px;line-height:21.7px;letter-spacing:-0.100px;">Performance monitoring by server OS (CPU, Mem, etc.)</div>
<div class="b" style="left:41.0px;top:473.7px;width:6px;height:6px"></div>
<div class="t" style="left:76.9px;top:489.8px;font-size:21.7px;line-height:21.7px;letter-spacing:0.327px;">Top-N major performance monitoring and A real-time</div>
<div class="b" style="left:41.0px;top:496.6px;width:6px;height:6px"></div>
<div class="t" style="left:76.9px;top:512.1px;font-size:21.7px;line-height:21.7px;letter-spacing:-0.084px;">graph (in 2 seconds)</div>
<div class="t" style="left:75.9px;top:534.7px;font-size:21.7px;line-height:21.7px;letter-spacing:0.055px;">Detailed monitoring of TCP status and</div>
<div class="b" style="left:41.0px;top:541.5px;width:6px;height:6px"></div>
<div class="t" style="left:76.9px;top:557.2px;font-size:21.7px;line-height:21.7px;letter-spacing:0.235px;">service port monitoring</div>
<div class="t" style="left:75.9px;top:580.1px;font-size:21.7px;line-height:21.7px;letter-spacing:-1.206px;">Docker-based container status and resource utilization monitoring</div>
<div class="b" style="left:41.0px;top:586.9px;width:6px;height:6px"></div>
<div class="t" style="left:723.4px;top:425.9px;font-size:21.7px;line-height:21.7px;letter-spacing:-0.031px;">Policy template and Default alert policy setting per OS</div>
<div class="b" style="left:688.0px;top:432.7px;width:6px;height:6px"></div>
<div class="t" style="left:724.4px;top:448.5px;font-size:21.7px;line-height:21.7px;letter-spacing:0.178px;">Automatic fault alert based on threshold setting</div>
<div class="b" style="left:688.0px;top:455.3px;width:6px;height:6px"></div>
<div class="t" style="left:723.4px;top:470.7px;font-size:21.7px;line-height:21.7px;letter-spacing:-0.351px;">by severity</div>
<div class="t" style="left:724.4px;top:493.6px;font-size:21.7px;line-height:21.7px;letter-spacing:0.151px;">Various notification methods and three-steps</div>
<div class="b" style="left:688.0px;top:500.4px;width:6px;height:6px"></div>
<div class="t" style="left:723.4px;top:515.5px;font-size:21.7px;line-height:21.7px;letter-spacing:0.715px;">notification</div>
<div class="t" style="left:723.4px;top:538.7px;font-size:21.7px;line-height:21.7px;letter-spacing:-0.042px;">Supporting automatic recovery by recovery script</div>
<div class="b" style="left:688.0px;top:545.5px;width:6px;height:6px"></div>
<div class="t" style="left:724.4px;top:560.5px;font-size:21.7px;line-height:21.7px;letter-spacing:0.278px;">setting</div>
<div class="t" style="left:724.4px;top:583.5px;font-size:21.7px;line-height:21.7px;letter-spacing:0.249px;">Alerting error log based on log pattern definition</div>
<div class="b" style="left:688.0px;top:590.3px;width:6px;height:6px"></div>
<div class="t" style="left:86.5px;top:976.4px;font-size:21.7px;line-height:21.7px;letter-spacing:0.112px;">Managing server’s connection by Topology Map</div>
<div class="b" style="left:52.2px;top:983.2px;width:6px;height:6px"></div>
<div class="t" style="left:86.5px;top:999.3px;font-size:21.7px;line-height:21.7px;letter-spacing:0.005px;">Infra grouping by services and target settings by</div>
<div class="b" style="left:52.2px;top:1006.1px;width:6px;height:6px"></div>
<div class="t" style="left:87.5px;top:1021.5px;font-size:21.7px;line-height:21.7px;letter-spacing:0.106px;">accounts</div>
<div class="t" style="left:87.5px;top:1044.4px;font-size:21.7px;line-height:21.7px;letter-spacing:0.212px;">Configuring collection period per targets and</div>
<div class="b" style="left:52.2px;top:1051.2px;width:6px;height:6px"></div>
<div class="t" style="left:87.5px;top:1066.5px;font-size:21.7px;line-height:21.7px;letter-spacing:0.260px;">performance items</div>
<div class="t" style="left:88.5px;top:1089.5px;font-size:21.7px;line-height:21.7px;letter-spacing:-0.205px;">Asset management : asset statistics per OS and IP,</div>
<div class="b" style="left:52.2px;top:1096.3px;width:6px;height:6px"></div>
<div class="t" style="left:86.5px;top:1111.6px;font-size:21.7px;line-height:21.7px;letter-spacing:0.280px;">location, user, etc.</div>
<div class="t" style="left:88.5px;top:1134.5px;font-size:21.7px;line-height:21.7px;letter-spacing:-0.010px;">Asset change history (Disk Added/Changed, etc.)</div>
<div class="b" style="left:52.2px;top:1141.3px;width:6px;height:6px"></div>
<div class="t" style="left:723.4px;top:979.6px;font-size:21.7px;line-height:21.7px;letter-spacing:-0.066px;">Printing report and data sheet by server’s main</div>
<div class="b" style="left:688.1px;top:986.4px;width:6px;height:6px"></div>
<div class="t" style="left:723.4px;top:1004.1px;font-size:21.7px;line-height:21.7px;letter-spacing:0.371px;">performance</div>
<div class="t" style="left:723.4px;top:1029.5px;font-size:21.7px;line-height:21.7px;letter-spacing:-0.157px;">Comparison analysis of servers and performance items</div>
<div class="b" style="left:688.1px;top:1036.3px;width:6px;height:6px"></div>
<div class="t" style="left:723.4px;top:1054.0px;font-size:21.7px;line-height:21.7px;letter-spacing:0.108px;">Generating report by types (performance, period,</div>
<div class="b" style="left:688.1px;top:1060.8px;width:6px;height:6px"></div>
<div class="t" style="left:723.4px;top:1079.6px;font-size:21.7px;line-height:21.7px;letter-spacing:0.190px;">correlation, etc.)</div>
<div class="t" style="left:723.4px;top:1104.1px;font-size:21.7px;line-height:21.7px;letter-spacing:0.175px;">Generating report by user selected information with</div>
<div class="b" style="left:688.1px;top:1110.9px;width:6px;height:6px"></div>
<div class="t" style="left:724.4px;top:1129.2px;font-size:21.7px;line-height:21.7px;letter-spacing:0.248px;">target, period, item, etc.</div>
</body></html>
